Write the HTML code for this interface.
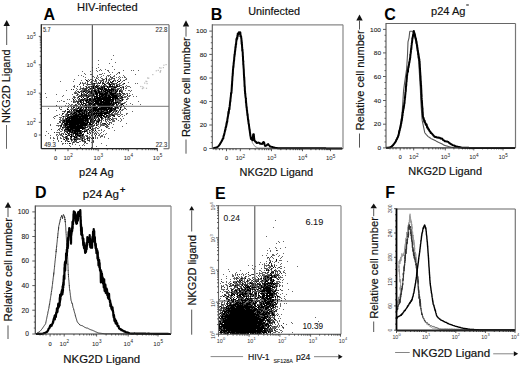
<!DOCTYPE html>
<html><head><meta charset="utf-8"><style>
html,body{margin:0;padding:0;background:#fff;width:520px;height:367px;overflow:hidden}
svg{display:block}
text{font-family:"Liberation Sans",sans-serif}
</style></head><body>
<svg width="520" height="367" viewBox="0 0 520 367">
<rect width="520" height="367" fill="#fff"/>
<text x="43.4" y="19.7" font-size="16" style="font-weight:bold;" fill="#000">A</text>
<text x="77.0" y="11.1" font-size="11" style="stroke:#111;stroke-width:0.18;" fill="#111" textLength="60.6" lengthAdjust="spacingAndGlyphs">HIV-infected</text>
<rect x="145.9" y="87.7" width="1.2" height="1.2" fill="#bbb"/>
<rect x="140.2" y="85.9" width="1.2" height="1.2" fill="#bbb"/>
<rect x="141.8" y="88.0" width="1.2" height="1.2" fill="#bbb"/>
<rect x="159.6" y="71.6" width="1.2" height="1.2" fill="#bbb"/>
<rect x="157.7" y="69.8" width="1.2" height="1.2" fill="#bbb"/>
<rect x="162.8" y="67.0" width="1.2" height="1.2" fill="#bbb"/>
<rect x="163.3" y="64.6" width="1.2" height="1.2" fill="#bbb"/>
<rect x="146.2" y="81.0" width="1.2" height="1.2" fill="#bbb"/>
<rect x="148.1" y="77.6" width="1.2" height="1.2" fill="#bbb"/>
<rect x="159.0" y="67.2" width="1.2" height="1.2" fill="#bbb"/>
<rect x="152.2" y="74.0" width="1.2" height="1.2" fill="#bbb"/>
<rect x="165.5" y="64.0" width="1.2" height="1.2" fill="#bbb"/>
<rect x="160.1" y="70.0" width="1.2" height="1.2" fill="#bbb"/>
<rect x="146.5" y="83.0" width="1.2" height="1.2" fill="#bbb"/>
<rect x="147.0" y="77.4" width="1.2" height="1.2" fill="#bbb"/>
<rect x="155.7" y="70.2" width="1.2" height="1.2" fill="#bbb"/>
<rect x="143.0" y="87.3" width="1.2" height="1.2" fill="#bbb"/>
<rect x="159.8" y="71.0" width="1.2" height="1.2" fill="#bbb"/>
<rect x="160.4" y="67.5" width="1.2" height="1.2" fill="#bbb"/>
<rect x="145.4" y="80.6" width="1.2" height="1.2" fill="#bbb"/>
<rect x="142.1" y="86.3" width="1.2" height="1.2" fill="#bbb"/>
<rect x="144.1" y="82.5" width="1.2" height="1.2" fill="#bbb"/>
<path d="M113 55.5h1M111 59.5h1M98 60.5h1M115 62.5h1M109 63.5h1M98 64.5h1M112 66.5h1M92 67.5h1M98 67.5h1M96 68.5h1M100 69.5h1M105 69.5h1M114 69.5h1M92 70.5h1M96 70.5h1M99 70.5h1M101 70.5h1M107 70.5h2M123 70.5h1M131 70.5h1M133 70.5h1M138 70.5h1M82 71.5h1M90 71.5h1M97 71.5h1M108 71.5h1M109 72.5h1M112 72.5h1M118 72.5h1M84 73.5h1M102 73.5h1M104 73.5h1M117 73.5h1M119 73.5h1M85 74.5h1M90 74.5h2M99 74.5h3M110 74.5h1M116 74.5h1M135 74.5h1M78 75.5h1M81 75.5h1M97 75.5h1M103 75.5h1M107 75.5h3M114 75.5h1M123 75.5h1M83 76.5h1M92 76.5h2M97 76.5h1M101 76.5h1M106 76.5h1M108 76.5h1M113 76.5h2M119 76.5h1M124 76.5h1M85 77.5h1M94 77.5h1M96 77.5h1M98 77.5h1M100 77.5h1M106 77.5h1M110 77.5h2M116 77.5h1M118 77.5h1M120 77.5h1M122 77.5h1M124 77.5h2M96 78.5h2M101 78.5h2M105 78.5h1M109 78.5h1M111 78.5h3M119 78.5h1M126 78.5h1M74 79.5h1M85 79.5h1M88 79.5h1M90 79.5h2M98 79.5h1M102 79.5h1M104 79.5h1M108 79.5h4M114 79.5h1M118 79.5h1M120 79.5h1M125 79.5h2M81 80.5h1M87 80.5h1M92 80.5h2M96 80.5h1M99 80.5h3M103 80.5h1M108 80.5h1M114 80.5h2M123 80.5h1M60 81.5h1M73 81.5h1M88 81.5h1M94 81.5h3M100 81.5h2M105 81.5h2M108 81.5h1M115 81.5h1M122 81.5h1M80 82.5h1M82 82.5h1M85 82.5h1M87 82.5h1M90 82.5h2M96 82.5h1M103 82.5h1M105 82.5h1M107 82.5h1M112 82.5h1M121 82.5h1M128 82.5h1M82 83.5h4M91 83.5h2M95 83.5h4M100 83.5h1M104 83.5h1M106 83.5h1M108 83.5h1M111 83.5h1M114 83.5h2M119 83.5h2M123 83.5h1M135 83.5h1M137 83.5h1M83 84.5h1M86 84.5h2M90 84.5h4M97 84.5h1M102 84.5h1M108 84.5h1M112 84.5h1M116 84.5h4M122 84.5h2M74 85.5h1M87 85.5h1M97 85.5h2M101 85.5h1M104 85.5h3M114 85.5h1M120 85.5h2M126 85.5h1M73 86.5h2M80 86.5h1M85 86.5h1M88 86.5h3M94 86.5h1M100 86.5h1M105 86.5h1M108 86.5h1M115 86.5h1M122 86.5h2M125 86.5h1M127 86.5h3M74 87.5h1M80 87.5h1M83 87.5h1M87 87.5h1M91 87.5h2M94 87.5h1M98 87.5h1M100 87.5h1M110 87.5h3M121 87.5h2M126 87.5h1M130 87.5h1M76 88.5h1M80 88.5h2M84 88.5h1M87 88.5h1M89 88.5h1M92 88.5h1M95 88.5h1M103 88.5h1M114 88.5h2M117 88.5h2M121 88.5h1M125 88.5h2M77 89.5h1M79 89.5h2M82 89.5h2M89 89.5h4M96 89.5h2M99 89.5h1M103 89.5h1M116 89.5h1M120 89.5h2M66 90.5h1M76 90.5h1M81 90.5h3M88 90.5h2M92 90.5h1M96 90.5h1M99 90.5h1M102 90.5h1M104 90.5h1M114 90.5h1M116 90.5h1M121 90.5h2M125 90.5h1M128 90.5h2M131 90.5h1M75 91.5h1M77 91.5h1M82 91.5h1M85 91.5h1M87 91.5h1M92 91.5h2M97 91.5h1M102 91.5h1M106 91.5h1M110 91.5h1M114 91.5h1M122 91.5h1M130 91.5h1M74 92.5h3M78 92.5h1M81 92.5h3M86 92.5h2M89 92.5h1M92 92.5h3M104 92.5h1M108 92.5h1M112 92.5h3M119 92.5h1M122 92.5h1M45 93.5h1M74 93.5h1M76 93.5h2M83 93.5h2M86 93.5h1M89 93.5h1M94 93.5h1M98 93.5h1M108 93.5h1M116 93.5h1M118 93.5h1M126 93.5h2M129 93.5h1M56 94.5h1M72 94.5h1M78 94.5h1M83 94.5h1M89 94.5h4M94 94.5h1M118 94.5h2M121 94.5h1M123 94.5h3M127 94.5h1M132 94.5h1M63 95.5h1M76 95.5h2M79 95.5h2M82 95.5h1M88 95.5h1M94 95.5h1M98 95.5h1M100 95.5h1M110 95.5h1M118 95.5h1M122 95.5h2M129 95.5h2M62 96.5h1M73 96.5h2M81 96.5h1M83 96.5h3M87 96.5h1M90 96.5h2M93 96.5h1M107 96.5h1M111 96.5h1M119 96.5h2M122 96.5h1M124 96.5h3M128 96.5h2M133 96.5h1M136 96.5h1M46 97.5h1M73 97.5h1M75 97.5h1M77 97.5h1M86 97.5h1M91 97.5h1M95 97.5h1M119 97.5h2M123 97.5h3M127 97.5h1M72 98.5h1M74 98.5h1M77 98.5h1M82 98.5h1M86 98.5h1M91 98.5h1M93 98.5h1M119 98.5h1M122 98.5h1M127 98.5h2M67 99.5h1M69 99.5h1M75 99.5h1M79 99.5h2M85 99.5h1M114 99.5h1M116 99.5h1M119 99.5h1M121 99.5h1M123 99.5h1M127 99.5h1M61 100.5h1M73 100.5h2M76 100.5h1M78 100.5h2M84 100.5h1M88 100.5h1M116 100.5h3M121 100.5h1M57 101.5h1M59 101.5h1M63 101.5h2M71 101.5h1M74 101.5h2M85 101.5h1M87 101.5h1M90 101.5h1M116 101.5h1M118 101.5h4M126 101.5h1M138 101.5h1M74 102.5h2M82 102.5h1M91 102.5h1M99 102.5h1M110 102.5h1M112 102.5h1M120 102.5h1M124 102.5h2M66 103.5h1M68 103.5h1M78 103.5h2M86 103.5h1M93 103.5h1M119 103.5h3M124 103.5h1M130 103.5h1M69 104.5h1M71 104.5h2M76 104.5h1M79 104.5h2M83 104.5h1M86 104.5h2M92 104.5h1M117 104.5h2M120 104.5h1M126 104.5h1M132 104.5h1M140 104.5h1M65 105.5h1M68 105.5h1M70 105.5h2M73 105.5h1M77 105.5h1M83 105.5h1M87 105.5h1M97 105.5h1M119 105.5h3M70 106.5h2M80 106.5h2M83 106.5h1M90 106.5h1M93 106.5h1M111 106.5h1M113 106.5h1M115 106.5h1M118 106.5h1M124 106.5h1M59 107.5h1M61 107.5h1M76 107.5h1M79 107.5h2M82 107.5h3M87 107.5h1M91 107.5h2M114 107.5h1M118 107.5h1M121 107.5h1M124 107.5h1M48 108.5h1M59 108.5h1M67 108.5h1M71 108.5h3M75 108.5h2M79 108.5h1M85 108.5h1M89 108.5h3M97 108.5h1M107 108.5h1M116 108.5h2M124 108.5h1M60 109.5h2M70 109.5h4M77 109.5h1M83 109.5h2M92 109.5h1M119 109.5h1M122 109.5h2M126 109.5h1M56 110.5h1M87 110.5h1M99 110.5h1M102 110.5h1M113 110.5h1M115 110.5h1M117 110.5h1M121 110.5h2M62 111.5h2M65 111.5h1M70 111.5h4M75 111.5h1M94 111.5h1M96 111.5h1M104 111.5h2M114 111.5h2M120 111.5h1M132 111.5h1M64 112.5h1M70 112.5h1M72 112.5h2M77 112.5h1M80 112.5h1M85 112.5h1M87 112.5h1M93 112.5h1M95 112.5h1M115 112.5h1M117 112.5h2M120 112.5h1M66 113.5h1M72 113.5h1M77 113.5h2M85 113.5h1M90 113.5h1M92 113.5h1M112 113.5h1M114 113.5h4M120 113.5h1M126 113.5h2M59 114.5h1M65 114.5h1M67 114.5h1M71 114.5h1M83 114.5h1M87 114.5h1M95 114.5h1M97 114.5h1M106 114.5h1M108 114.5h1M113 114.5h7M121 114.5h2M126 114.5h1M56 115.5h2M61 115.5h1M65 115.5h2M70 115.5h1M72 115.5h1M94 115.5h1M104 115.5h1M108 115.5h1M110 115.5h2M117 115.5h1M120 115.5h1M124 115.5h1M54 116.5h2M62 116.5h1M64 116.5h2M68 116.5h1M91 116.5h1M93 116.5h1M96 116.5h1M98 116.5h1M105 116.5h1M107 116.5h1M113 116.5h1M122 116.5h1M53 117.5h1M59 117.5h3M63 117.5h1M65 117.5h1M91 117.5h1M93 117.5h1M95 117.5h1M104 117.5h1M106 117.5h2M109 117.5h1M112 117.5h1M54 118.5h1M60 118.5h1M62 118.5h2M93 118.5h1M95 118.5h2M99 118.5h1M103 118.5h1M105 118.5h1M107 118.5h3M112 118.5h5M120 118.5h1M123 118.5h1M59 119.5h2M62 119.5h3M70 119.5h1M89 119.5h1M97 119.5h1M102 119.5h1M106 119.5h3M112 119.5h2M121 119.5h1M60 120.5h1M62 120.5h1M93 120.5h1M96 120.5h2M100 120.5h1M103 120.5h1M107 120.5h1M109 120.5h2M112 120.5h3M118 120.5h1M121 120.5h1M60 121.5h1M84 121.5h1M99 121.5h1M105 121.5h2M108 121.5h1M112 121.5h3M120 121.5h1M59 122.5h1M65 122.5h1M92 122.5h1M94 122.5h1M97 122.5h1M100 122.5h2M106 122.5h1M110 122.5h2M57 123.5h2M61 123.5h1M68 123.5h1M95 123.5h1M98 123.5h1M100 123.5h1M109 123.5h1M111 123.5h1M126 123.5h1M50 124.5h1M62 124.5h2M88 124.5h1M94 124.5h1M96 124.5h3M100 124.5h5M109 124.5h1M113 124.5h1M50 125.5h1M56 125.5h4M68 125.5h1M87 125.5h5M97 125.5h1M100 125.5h3M104 125.5h1M106 125.5h1M58 126.5h1M63 126.5h2M66 126.5h1M83 126.5h1M88 126.5h1M90 126.5h1M92 126.5h2M98 126.5h1M100 126.5h1M106 126.5h3M122 126.5h1M60 127.5h1M95 127.5h1M99 127.5h1M107 127.5h1M112 127.5h1M59 128.5h2M62 128.5h2M69 128.5h1M85 128.5h1M88 128.5h2M93 128.5h3M98 128.5h1M108 128.5h2M51 129.5h1M59 129.5h1M62 129.5h1M64 129.5h1M83 129.5h4M92 129.5h2M95 129.5h1M101 129.5h1M57 130.5h1M59 130.5h1M62 130.5h1M65 130.5h2M85 130.5h1M87 130.5h1M90 130.5h1M98 130.5h2M101 130.5h1M104 130.5h1M114 130.5h1M46 131.5h1M60 131.5h2M64 131.5h1M81 131.5h1M87 131.5h1M89 131.5h1M91 131.5h1M94 131.5h1M96 131.5h1M103 131.5h1M56 132.5h4M66 132.5h1M78 132.5h1M82 132.5h1M90 132.5h1M93 132.5h1M95 132.5h1M97 132.5h1M101 132.5h1M48 133.5h1M59 133.5h1M61 133.5h3M65 133.5h1M67 133.5h1M71 133.5h2M83 133.5h1M88 133.5h1M94 133.5h3M98 133.5h1M100 133.5h1M106 133.5h1M56 134.5h2M59 134.5h2M69 134.5h1M72 134.5h1M79 134.5h1M81 134.5h1M89 134.5h1M94 134.5h1M99 134.5h1M103 134.5h1M105 134.5h1M45 135.5h1M50 135.5h1M56 135.5h1M58 135.5h1M60 135.5h3M72 135.5h2M76 135.5h1M83 135.5h1M85 135.5h3M91 135.5h1M98 135.5h2M101 135.5h2M57 136.5h1M63 136.5h1M65 136.5h1M67 136.5h1M72 136.5h1M75 136.5h1M77 136.5h2M81 136.5h1M83 136.5h2M89 136.5h1M95 136.5h1M100 136.5h3M104 136.5h1M50 137.5h1M53 137.5h1M57 137.5h1M60 137.5h1M63 137.5h2M67 137.5h1M70 137.5h1M77 137.5h1M82 137.5h3M88 137.5h3M92 137.5h1M95 137.5h1M97 137.5h1M100 137.5h1M104 137.5h1M50 138.5h1M53 138.5h2M60 138.5h2M63 138.5h1M65 138.5h1M71 138.5h1M73 138.5h1M75 138.5h1M79 138.5h3M83 138.5h2M86 138.5h1M88 138.5h1M95 138.5h1M97 138.5h1M108 138.5h1M57 139.5h1M63 139.5h1M67 139.5h1M70 139.5h1M72 139.5h2M78 139.5h1M80 139.5h2M89 139.5h1M53 140.5h1M58 140.5h1M65 140.5h3M72 140.5h1M75 140.5h1M81 140.5h1M83 140.5h2M87 140.5h1M93 140.5h1M58 141.5h1M67 141.5h1M69 141.5h1M71 141.5h1M73 141.5h2M76 141.5h1M79 141.5h2M82 141.5h2M89 141.5h1M72 142.5h1M74 142.5h1M76 142.5h1M84 142.5h1M91 142.5h1M93 142.5h1M62 143.5h2M67 143.5h1M72 143.5h1M84 143.5h1M86 143.5h2M101 143.5h1M62 144.5h1M72 144.5h1M75 144.5h1M83 144.5h1M69 145.5h1M79 145.5h1M82 145.5h1M84 145.5h1M106 145.5h1M70 146.5h1M96 146.5h1M80 147.5h1M91 147.5h1M76 148.5h1" stroke="#666" stroke-width="1" fill="none"/>
<path d="M119 72.5h1M110 76.5h1M112 77.5h1M106 78.5h1M114 78.5h1M95 79.5h1M103 79.5h1M89 80.5h1M95 80.5h1M102 80.5h1M106 80.5h1M109 80.5h1M113 80.5h1M117 80.5h1M120 80.5h1M124 80.5h1M87 81.5h1M91 81.5h1M103 81.5h1M110 81.5h1M113 81.5h1M118 81.5h1M98 82.5h1M102 82.5h1M110 82.5h1M80 83.5h1M87 83.5h1M93 83.5h1M102 83.5h1M107 83.5h1M112 83.5h2M116 83.5h1M79 84.5h1M88 84.5h2M94 84.5h1M105 84.5h1M111 84.5h1M113 84.5h2M83 85.5h1M93 85.5h2M99 85.5h1M103 85.5h1M109 85.5h1M112 85.5h1M117 85.5h1M119 85.5h1M77 86.5h1M86 86.5h1M92 86.5h1M96 86.5h1M98 86.5h1M101 86.5h3M106 86.5h1M113 86.5h2M116 86.5h1M118 86.5h2M86 87.5h1M88 87.5h2M95 87.5h1M97 87.5h1M99 87.5h1M103 87.5h1M108 87.5h2M113 87.5h1M116 87.5h1M82 88.5h2M85 88.5h2M91 88.5h1M94 88.5h1M101 88.5h1M106 88.5h1M112 88.5h2M119 88.5h1M123 88.5h1M71 89.5h1M73 89.5h1M84 89.5h3M94 89.5h2M107 89.5h1M110 89.5h1M114 89.5h2M117 89.5h2M123 89.5h1M84 90.5h4M93 90.5h1M97 90.5h1M108 90.5h1M112 90.5h1M119 90.5h2M78 91.5h1M80 91.5h2M86 91.5h1M88 91.5h1M90 91.5h1M100 91.5h1M103 91.5h1M112 91.5h2M115 91.5h1M117 91.5h1M120 91.5h2M90 92.5h1M97 92.5h1M100 92.5h4M116 92.5h1M121 92.5h1M75 93.5h1M90 93.5h1M92 93.5h2M103 93.5h1M109 93.5h1M117 93.5h1M120 93.5h1M122 93.5h3M77 94.5h1M82 94.5h1M84 94.5h3M88 94.5h1M95 94.5h1M107 94.5h3M114 94.5h4M120 94.5h1M83 95.5h3M87 95.5h1M89 95.5h3M97 95.5h1M104 95.5h1M107 95.5h1M117 95.5h1M119 95.5h1M78 96.5h3M82 96.5h1M86 96.5h1M89 96.5h1M103 96.5h1M117 96.5h1M74 97.5h1M78 97.5h1M88 97.5h1M92 97.5h1M101 97.5h1M121 97.5h1M85 98.5h1M87 98.5h1M114 98.5h1M118 98.5h1M121 98.5h1M78 99.5h1M82 99.5h1M84 99.5h1M86 99.5h1M88 99.5h1M91 99.5h1M96 99.5h1M117 99.5h2M126 99.5h1M81 100.5h1M83 100.5h1M91 100.5h1M94 100.5h1M111 100.5h1M119 100.5h1M73 101.5h1M76 101.5h4M81 101.5h1M89 101.5h1M93 101.5h1M99 101.5h1M104 101.5h1M110 101.5h1M113 101.5h1M115 101.5h1M117 101.5h1M73 102.5h1M77 102.5h2M81 102.5h1M83 102.5h1M89 102.5h2M114 102.5h1M118 102.5h2M77 103.5h1M85 103.5h1M88 103.5h1M102 103.5h1M112 103.5h1M114 103.5h1M116 103.5h1M122 103.5h2M75 104.5h1M78 104.5h1M81 104.5h1M88 104.5h1M90 104.5h1M95 104.5h2M111 104.5h1M114 104.5h1M56 105.5h1M74 105.5h3M82 105.5h1M84 105.5h1M88 105.5h2M95 105.5h1M110 105.5h1M116 105.5h2M67 106.5h1M72 106.5h3M77 106.5h2M95 106.5h1M112 106.5h1M117 106.5h1M119 106.5h1M68 107.5h1M71 107.5h1M74 107.5h1M89 107.5h1M99 107.5h2M110 107.5h1M112 107.5h1M116 107.5h1M81 108.5h1M88 108.5h1M112 108.5h1M114 108.5h1M118 108.5h1M120 108.5h1M125 108.5h1M68 109.5h1M75 109.5h2M81 109.5h1M86 109.5h5M109 109.5h1M112 109.5h2M65 110.5h1M69 110.5h1M74 110.5h2M83 110.5h1M86 110.5h1M89 110.5h1M91 110.5h1M100 110.5h1M103 110.5h1M105 110.5h1M114 110.5h1M116 110.5h1M119 110.5h1M64 111.5h1M67 111.5h1M69 111.5h1M74 111.5h1M82 111.5h2M85 111.5h1M87 111.5h1M90 111.5h1M92 111.5h1M99 111.5h2M106 111.5h1M108 111.5h1M113 111.5h1M118 111.5h1M68 112.5h2M71 112.5h1M76 112.5h1M81 112.5h1M83 112.5h1M91 112.5h1M97 112.5h3M102 112.5h2M108 112.5h1M110 112.5h1M112 112.5h2M62 113.5h2M67 113.5h1M70 113.5h1M75 113.5h1M81 113.5h1M87 113.5h1M89 113.5h1M109 113.5h1M111 113.5h1M62 114.5h1M66 114.5h1M69 114.5h2M73 114.5h2M77 114.5h1M89 114.5h2M99 114.5h1M102 114.5h1M109 114.5h4M67 115.5h1M71 115.5h1M79 115.5h2M90 115.5h1M93 115.5h1M96 115.5h1M109 115.5h1M114 115.5h1M66 116.5h2M69 116.5h1M88 116.5h2M92 116.5h1M100 116.5h1M108 116.5h3M118 116.5h2M70 117.5h1M78 117.5h1M81 117.5h1M92 117.5h1M96 117.5h3M102 117.5h1M65 118.5h1M68 118.5h1M90 118.5h3M102 118.5h1M110 118.5h1M65 119.5h1M67 119.5h1M84 119.5h1M88 119.5h1M90 119.5h1M92 119.5h2M98 119.5h1M101 119.5h1M105 119.5h1M109 119.5h1M116 119.5h1M61 120.5h1M65 120.5h1M88 120.5h1M91 120.5h2M95 120.5h1M98 120.5h1M101 120.5h1M105 120.5h1M59 121.5h1M62 121.5h2M65 121.5h1M86 121.5h1M88 121.5h1M91 121.5h4M96 121.5h1M101 121.5h1M60 122.5h1M62 122.5h1M64 122.5h1M85 122.5h2M89 122.5h3M93 122.5h1M96 122.5h1M109 122.5h1M62 123.5h1M92 123.5h2M102 123.5h2M105 123.5h1M107 123.5h1M61 124.5h1M64 124.5h1M79 124.5h1M87 124.5h1M92 124.5h1M105 124.5h2M108 124.5h1M60 125.5h1M63 125.5h2M67 125.5h1M76 125.5h1M93 125.5h2M103 125.5h1M107 125.5h1M60 126.5h2M84 126.5h2M87 126.5h1M89 126.5h1M91 126.5h1M105 126.5h1M63 127.5h3M84 127.5h1M86 127.5h2M89 127.5h1M96 127.5h1M106 127.5h1M65 128.5h2M92 128.5h1M97 128.5h1M58 129.5h1M61 129.5h1M73 129.5h2M87 129.5h1M67 130.5h1M71 130.5h1M81 130.5h1M84 130.5h1M89 130.5h1M92 130.5h2M65 131.5h4M71 131.5h1M73 131.5h1M83 131.5h1M86 131.5h1M54 132.5h1M64 132.5h1M69 132.5h2M73 132.5h1M76 132.5h1M79 132.5h1M81 132.5h1M84 132.5h1M87 132.5h1M89 132.5h1M92 132.5h1M69 133.5h1M78 133.5h1M90 133.5h1M61 134.5h1M63 134.5h1M65 134.5h1M68 134.5h1M70 134.5h1M73 134.5h1M78 134.5h1M80 134.5h1M96 134.5h1M67 135.5h2M81 135.5h1M95 135.5h1M62 136.5h1M80 136.5h1M82 136.5h1M86 136.5h2M65 137.5h2M80 137.5h2M87 137.5h1M93 137.5h1M57 138.5h1M67 138.5h2M70 138.5h1M74 138.5h1M76 138.5h3M89 138.5h1M91 138.5h1M66 139.5h1M68 139.5h1M76 139.5h2M79 139.5h1M82 139.5h1M84 139.5h2M87 139.5h1M71 140.5h1M74 140.5h1M76 140.5h1M88 140.5h2M61 141.5h1M65 141.5h1M75 141.5h1M84 141.5h2M93 141.5h1M73 142.5h1M77 142.5h2M85 142.5h1M65 143.5h1M70 143.5h1" stroke="#333" stroke-width="1" fill="none"/>
<path d="M106 79.5h1M86 80.5h1M112 81.5h1M119 81.5h1M100 82.5h1M108 82.5h1M111 82.5h1M117 82.5h1M94 83.5h1M99 83.5h1M103 83.5h1M109 83.5h1M124 83.5h1M104 84.5h1M109 84.5h2M96 85.5h1M110 85.5h1M116 85.5h1M91 86.5h1M93 86.5h1M95 86.5h1M97 86.5h1M104 86.5h1M107 86.5h1M109 86.5h4M117 86.5h1M93 87.5h1M96 87.5h1M101 87.5h2M104 87.5h1M107 87.5h1M114 87.5h2M120 87.5h1M123 87.5h1M90 88.5h1M93 88.5h1M97 88.5h4M102 88.5h1M104 88.5h2M108 88.5h1M111 88.5h1M88 89.5h1M98 89.5h1M100 89.5h3M104 89.5h3M108 89.5h2M111 89.5h3M91 90.5h1M94 90.5h2M98 90.5h1M101 90.5h1M103 90.5h1M105 90.5h3M109 90.5h3M113 90.5h1M115 90.5h1M117 90.5h1M83 91.5h2M89 91.5h1M91 91.5h1M94 91.5h3M98 91.5h2M101 91.5h1M104 91.5h2M107 91.5h3M111 91.5h1M116 91.5h1M119 91.5h1M79 92.5h1M85 92.5h1M88 92.5h1M91 92.5h1M95 92.5h2M98 92.5h2M105 92.5h3M109 92.5h3M115 92.5h1M81 93.5h1M87 93.5h1M91 93.5h1M95 93.5h3M99 93.5h4M104 93.5h4M110 93.5h6M119 93.5h1M81 94.5h1M93 94.5h1M96 94.5h2M99 94.5h8M110 94.5h4M81 95.5h1M86 95.5h1M92 95.5h2M96 95.5h1M99 95.5h1M101 95.5h3M105 95.5h2M108 95.5h2M111 95.5h6M120 95.5h1M127 95.5h1M88 96.5h1M92 96.5h1M94 96.5h4M99 96.5h4M104 96.5h3M108 96.5h3M112 96.5h5M118 96.5h1M121 96.5h1M81 97.5h1M83 97.5h1M87 97.5h1M94 97.5h1M96 97.5h5M102 97.5h16M122 97.5h1M79 98.5h1M84 98.5h1M89 98.5h2M92 98.5h1M94 98.5h17M112 98.5h2M115 98.5h3M120 98.5h1M73 99.5h1M81 99.5h1M83 99.5h1M87 99.5h1M89 99.5h2M92 99.5h4M97 99.5h17M115 99.5h1M122 99.5h1M80 100.5h1M82 100.5h1M85 100.5h3M89 100.5h2M92 100.5h2M95 100.5h7M103 100.5h8M112 100.5h2M115 100.5h1M120 100.5h1M122 100.5h1M80 101.5h1M83 101.5h1M86 101.5h1M88 101.5h1M91 101.5h2M94 101.5h5M100 101.5h4M105 101.5h5M111 101.5h2M80 102.5h1M86 102.5h3M92 102.5h2M95 102.5h4M100 102.5h10M111 102.5h1M113 102.5h1M115 102.5h3M81 103.5h1M83 103.5h2M89 103.5h4M94 103.5h8M103 103.5h9M113 103.5h1M115 103.5h1M118 103.5h1M82 104.5h1M85 104.5h1M89 104.5h1M91 104.5h1M93 104.5h2M97 104.5h14M112 104.5h2M116 104.5h1M121 104.5h2M80 105.5h1M85 105.5h2M90 105.5h1M92 105.5h3M98 105.5h12M111 105.5h3M123 105.5h1M76 106.5h1M79 106.5h1M84 106.5h1M86 106.5h4M91 106.5h2M94 106.5h1M96 106.5h15M114 106.5h1M116 106.5h1M121 106.5h1M73 107.5h1M78 107.5h1M81 107.5h1M85 107.5h2M88 107.5h1M90 107.5h1M93 107.5h5M101 107.5h9M111 107.5h1M115 107.5h1M117 107.5h1M120 107.5h1M77 108.5h2M80 108.5h1M83 108.5h1M86 108.5h1M92 108.5h5M98 108.5h9M108 108.5h4M113 108.5h1M115 108.5h1M67 109.5h1M74 109.5h1M79 109.5h2M82 109.5h1M85 109.5h1M91 109.5h1M93 109.5h16M110 109.5h2M114 109.5h2M120 109.5h1M71 110.5h1M73 110.5h1M76 110.5h7M84 110.5h2M88 110.5h1M90 110.5h1M92 110.5h7M101 110.5h1M104 110.5h1M106 110.5h2M109 110.5h4M68 111.5h1M76 111.5h6M84 111.5h1M86 111.5h1M89 111.5h1M91 111.5h1M93 111.5h1M95 111.5h1M97 111.5h2M101 111.5h3M107 111.5h1M109 111.5h3M116 111.5h1M67 112.5h1M74 112.5h2M78 112.5h2M82 112.5h1M84 112.5h1M86 112.5h1M88 112.5h3M92 112.5h1M94 112.5h1M96 112.5h1M100 112.5h2M104 112.5h4M109 112.5h1M71 113.5h1M73 113.5h2M76 113.5h1M79 113.5h2M82 113.5h3M86 113.5h1M88 113.5h1M91 113.5h1M93 113.5h16M68 114.5h1M72 114.5h1M75 114.5h2M78 114.5h5M84 114.5h3M88 114.5h1M91 114.5h4M96 114.5h1M98 114.5h1M100 114.5h2M104 114.5h2M68 115.5h1M73 115.5h6M81 115.5h9M91 115.5h2M95 115.5h1M97 115.5h7M106 115.5h2M112 115.5h2M63 116.5h1M70 116.5h18M90 116.5h1M94 116.5h2M97 116.5h1M99 116.5h1M101 116.5h1M103 116.5h2M106 116.5h1M114 116.5h1M67 117.5h3M71 117.5h7M79 117.5h2M82 117.5h6M89 117.5h2M94 117.5h1M100 117.5h2M105 117.5h1M108 117.5h1M66 118.5h2M69 118.5h21M94 118.5h1M98 118.5h1M101 118.5h1M66 119.5h1M68 119.5h2M71 119.5h13M85 119.5h3M91 119.5h1M95 119.5h1M99 119.5h1M111 119.5h1M63 120.5h2M66 120.5h22M90 120.5h1M94 120.5h1M99 120.5h1M64 121.5h1M66 121.5h18M85 121.5h1M87 121.5h1M90 121.5h1M97 121.5h2M63 122.5h1M66 122.5h19M87 122.5h2M98 122.5h1M64 123.5h4M69 123.5h19M89 123.5h2M96 123.5h1M104 123.5h1M65 124.5h14M80 124.5h7M89 124.5h3M61 125.5h1M65 125.5h2M69 125.5h7M77 125.5h10M96 125.5h1M65 126.5h1M67 126.5h16M62 127.5h1M66 127.5h18M85 127.5h1M90 127.5h1M67 128.5h2M70 128.5h15M90 128.5h1M65 129.5h8M75 129.5h5M82 129.5h1M88 129.5h1M91 129.5h1M64 130.5h1M68 130.5h3M72 130.5h9M86 130.5h1M95 130.5h1M69 131.5h2M72 131.5h1M74 131.5h7M82 131.5h1M84 131.5h2M67 132.5h1M71 132.5h2M74 132.5h2M77 132.5h1M80 132.5h1M68 133.5h1M73 133.5h5M79 133.5h3M87 133.5h1M66 134.5h1M71 134.5h1M75 134.5h3M82 134.5h2M69 135.5h1M71 135.5h1M75 135.5h1M77 135.5h4M82 135.5h1M66 136.5h1M70 136.5h2M73 136.5h2M76 136.5h1M79 136.5h1M71 137.5h1M74 137.5h3M66 138.5h1M82 138.5h1M87 138.5h1M93 138.5h1M64 139.5h1M71 139.5h1M74 139.5h2M82 140.5h1M68 141.5h1M69 143.5h1" stroke="#000" stroke-width="1" fill="none"/>
<line x1="92.30" y1="24.70" x2="92.30" y2="148.70" stroke="#333" stroke-width="1"/>
<line x1="41.30" y1="106.30" x2="169.00" y2="106.30" stroke="#777" stroke-width="1"/>
<line x1="41.30" y1="24.70" x2="169.00" y2="24.70" stroke="#8a8a8a" stroke-width="1.2"/>
<line x1="169.00" y1="24.70" x2="169.00" y2="148.70" stroke="#777" stroke-width="1.3"/>
<line x1="41.30" y1="24.20" x2="41.30" y2="148.70" stroke="#222" stroke-width="1.3"/>
<line x1="41.30" y1="148.70" x2="157.80" y2="148.70" stroke="#222" stroke-width="1.3"/>
<line x1="163.50" y1="148.70" x2="169.00" y2="148.70" stroke="#777" stroke-width="1.2"/>
<text x="42.9" y="31.9" font-size="6.4" style="stroke:#333;stroke-width:0.1;" fill="#333" textLength="7.8" lengthAdjust="spacingAndGlyphs">5.7</text>
<text x="155.6" y="32.0" font-size="6.4" style="stroke:#333;stroke-width:0.1;" fill="#333" textLength="11.8" lengthAdjust="spacingAndGlyphs">22.8</text>
<text x="44.2" y="146.8" font-size="6.4" style="stroke:#333;stroke-width:0.1;" fill="#333" textLength="11.8" lengthAdjust="spacingAndGlyphs">49.3</text>
<text x="155.8" y="146.9" font-size="6.4" style="stroke:#333;stroke-width:0.1;" fill="#333" textLength="11.4" lengthAdjust="spacingAndGlyphs">22.3</text>
<text x="26.4" y="38.6" font-size="6" fill="#222">10</text>
<text x="33.3" y="35.9" font-size="4.6" fill="#222">5</text>
<text x="26.4" y="67.0" font-size="6" fill="#222">10</text>
<text x="33.3" y="64.3" font-size="4.6" fill="#222">4</text>
<text x="26.4" y="95.4" font-size="6" fill="#222">10</text>
<text x="33.3" y="92.7" font-size="4.6" fill="#222">3</text>
<text x="26.4" y="124.5" font-size="6" fill="#222">10</text>
<text x="33.3" y="121.8" font-size="4.6" fill="#222">2</text>
<text x="34.0" y="137.2" font-size="6" style="stroke:#222;stroke-width:0.1;" fill="#222" textLength="3.0" lengthAdjust="spacingAndGlyphs">0</text>
<line x1="38.80" y1="36.40" x2="41.30" y2="36.40" stroke="#333" stroke-width="0.8"/>
<line x1="38.80" y1="64.80" x2="41.30" y2="64.80" stroke="#333" stroke-width="0.8"/>
<line x1="38.80" y1="93.20" x2="41.30" y2="93.20" stroke="#333" stroke-width="0.8"/>
<line x1="38.80" y1="122.30" x2="41.30" y2="122.30" stroke="#333" stroke-width="0.8"/>
<line x1="38.80" y1="135.00" x2="41.30" y2="135.00" stroke="#333" stroke-width="0.8"/>
<line x1="39.80" y1="56.25" x2="41.30" y2="56.25" stroke="#333" stroke-width="0.8"/>
<line x1="39.80" y1="51.25" x2="41.30" y2="51.25" stroke="#333" stroke-width="0.8"/>
<line x1="39.80" y1="47.70" x2="41.30" y2="47.70" stroke="#333" stroke-width="0.8"/>
<line x1="39.80" y1="44.95" x2="41.30" y2="44.95" stroke="#333" stroke-width="0.8"/>
<line x1="39.80" y1="42.70" x2="41.30" y2="42.70" stroke="#333" stroke-width="0.8"/>
<line x1="39.80" y1="40.80" x2="41.30" y2="40.80" stroke="#333" stroke-width="0.8"/>
<line x1="39.80" y1="39.15" x2="41.30" y2="39.15" stroke="#333" stroke-width="0.8"/>
<line x1="39.80" y1="37.70" x2="41.30" y2="37.70" stroke="#333" stroke-width="0.8"/>
<line x1="39.80" y1="84.65" x2="41.30" y2="84.65" stroke="#333" stroke-width="0.8"/>
<line x1="39.80" y1="79.65" x2="41.30" y2="79.65" stroke="#333" stroke-width="0.8"/>
<line x1="39.80" y1="76.10" x2="41.30" y2="76.10" stroke="#333" stroke-width="0.8"/>
<line x1="39.80" y1="73.35" x2="41.30" y2="73.35" stroke="#333" stroke-width="0.8"/>
<line x1="39.80" y1="71.10" x2="41.30" y2="71.10" stroke="#333" stroke-width="0.8"/>
<line x1="39.80" y1="69.20" x2="41.30" y2="69.20" stroke="#333" stroke-width="0.8"/>
<line x1="39.80" y1="67.55" x2="41.30" y2="67.55" stroke="#333" stroke-width="0.8"/>
<line x1="39.80" y1="66.10" x2="41.30" y2="66.10" stroke="#333" stroke-width="0.8"/>
<line x1="39.80" y1="113.54" x2="41.30" y2="113.54" stroke="#333" stroke-width="0.8"/>
<line x1="39.80" y1="108.42" x2="41.30" y2="108.42" stroke="#333" stroke-width="0.8"/>
<line x1="39.80" y1="104.78" x2="41.30" y2="104.78" stroke="#333" stroke-width="0.8"/>
<line x1="39.80" y1="101.96" x2="41.30" y2="101.96" stroke="#333" stroke-width="0.8"/>
<line x1="39.80" y1="99.66" x2="41.30" y2="99.66" stroke="#333" stroke-width="0.8"/>
<line x1="39.80" y1="97.71" x2="41.30" y2="97.71" stroke="#333" stroke-width="0.8"/>
<line x1="39.80" y1="96.02" x2="41.30" y2="96.02" stroke="#333" stroke-width="0.8"/>
<line x1="39.80" y1="94.53" x2="41.30" y2="94.53" stroke="#333" stroke-width="0.8"/>
<text x="53.9" y="159.8" font-size="6" style="stroke:#222;stroke-width:0.1;" fill="#222" textLength="3.2" lengthAdjust="spacingAndGlyphs">0</text>
<text x="63.4" y="159.8" font-size="6" fill="#222">10</text>
<text x="70.3" y="157.1" font-size="4.6" fill="#222">2</text>
<text x="93.6" y="159.8" font-size="6" fill="#222">10</text>
<text x="100.5" y="157.1" font-size="4.6" fill="#222">3</text>
<text x="123.7" y="159.8" font-size="6" fill="#222">10</text>
<text x="130.6" y="157.1" font-size="4.6" fill="#222">4</text>
<text x="152.8" y="159.8" font-size="6" fill="#222">10</text>
<text x="159.7" y="157.1" font-size="4.6" fill="#222">5</text>
<line x1="55.40" y1="148.70" x2="55.40" y2="151.20" stroke="#333" stroke-width="0.8"/>
<line x1="68.00" y1="148.70" x2="68.00" y2="151.20" stroke="#333" stroke-width="0.8"/>
<line x1="98.20" y1="148.70" x2="98.20" y2="151.20" stroke="#333" stroke-width="0.8"/>
<line x1="128.30" y1="148.70" x2="128.30" y2="151.20" stroke="#333" stroke-width="0.8"/>
<line x1="157.40" y1="148.70" x2="157.40" y2="151.20" stroke="#333" stroke-width="0.8"/>
<line x1="77.09" y1="148.70" x2="77.09" y2="150.20" stroke="#333" stroke-width="0.8"/>
<line x1="82.41" y1="148.70" x2="82.41" y2="150.20" stroke="#333" stroke-width="0.8"/>
<line x1="86.18" y1="148.70" x2="86.18" y2="150.20" stroke="#333" stroke-width="0.8"/>
<line x1="89.11" y1="148.70" x2="89.11" y2="150.20" stroke="#333" stroke-width="0.8"/>
<line x1="91.50" y1="148.70" x2="91.50" y2="150.20" stroke="#333" stroke-width="0.8"/>
<line x1="93.52" y1="148.70" x2="93.52" y2="150.20" stroke="#333" stroke-width="0.8"/>
<line x1="95.27" y1="148.70" x2="95.27" y2="150.20" stroke="#333" stroke-width="0.8"/>
<line x1="96.82" y1="148.70" x2="96.82" y2="150.20" stroke="#333" stroke-width="0.8"/>
<line x1="107.26" y1="148.70" x2="107.26" y2="150.20" stroke="#333" stroke-width="0.8"/>
<line x1="112.56" y1="148.70" x2="112.56" y2="150.20" stroke="#333" stroke-width="0.8"/>
<line x1="116.32" y1="148.70" x2="116.32" y2="150.20" stroke="#333" stroke-width="0.8"/>
<line x1="119.24" y1="148.70" x2="119.24" y2="150.20" stroke="#333" stroke-width="0.8"/>
<line x1="121.62" y1="148.70" x2="121.62" y2="150.20" stroke="#333" stroke-width="0.8"/>
<line x1="123.64" y1="148.70" x2="123.64" y2="150.20" stroke="#333" stroke-width="0.8"/>
<line x1="125.38" y1="148.70" x2="125.38" y2="150.20" stroke="#333" stroke-width="0.8"/>
<line x1="126.92" y1="148.70" x2="126.92" y2="150.20" stroke="#333" stroke-width="0.8"/>
<line x1="137.06" y1="148.70" x2="137.06" y2="150.20" stroke="#333" stroke-width="0.8"/>
<line x1="142.18" y1="148.70" x2="142.18" y2="150.20" stroke="#333" stroke-width="0.8"/>
<line x1="145.82" y1="148.70" x2="145.82" y2="150.20" stroke="#333" stroke-width="0.8"/>
<line x1="148.64" y1="148.70" x2="148.64" y2="150.20" stroke="#333" stroke-width="0.8"/>
<line x1="150.94" y1="148.70" x2="150.94" y2="150.20" stroke="#333" stroke-width="0.8"/>
<line x1="152.89" y1="148.70" x2="152.89" y2="150.20" stroke="#333" stroke-width="0.8"/>
<line x1="154.58" y1="148.70" x2="154.58" y2="150.20" stroke="#333" stroke-width="0.8"/>
<line x1="156.07" y1="148.70" x2="156.07" y2="150.20" stroke="#333" stroke-width="0.8"/>
<text x="79.0" y="176.2" font-size="11" style="stroke:#111;stroke-width:0.18;" fill="#111" textLength="34.6" lengthAdjust="spacingAndGlyphs">p24 Ag</text>
<path d="M3.5 26.0 L6.7 20.0 L9.9 26.0Z" fill="#111"/>
<line x1="6.70" y1="26.00" x2="6.70" y2="45.00" stroke="#555" stroke-width="1.0"/>
<text transform="translate(10.2,123.0) rotate(-90)" x="0" y="0" font-size="11" fill="#111" stroke="#111" stroke-width="0.18" textLength="73.6" lengthAdjust="spacingAndGlyphs">NKG2D Ligand</text>
<line x1="6.50" y1="125.00" x2="6.50" y2="148.80" stroke="#666" stroke-width="1.0"/>
<text x="210.7" y="19.7" font-size="16" style="font-weight:bold;" fill="#000">B</text>
<text x="248.2" y="14.9" font-size="11" style="stroke:#111;stroke-width:0.18;" fill="#111" textLength="51.8" lengthAdjust="spacingAndGlyphs">Uninfected</text>
<text x="196.0" y="33.3" font-size="6.2" style="stroke:#222;stroke-width:0.1;" fill="#222" textLength="10.9" lengthAdjust="spacingAndGlyphs">100</text>
<text x="199.7" y="56.6" font-size="6.2" style="stroke:#222;stroke-width:0.1;" fill="#222" textLength="7.2" lengthAdjust="spacingAndGlyphs">80</text>
<text x="199.7" y="80.2" font-size="6.2" style="stroke:#222;stroke-width:0.1;" fill="#222" textLength="7.2" lengthAdjust="spacingAndGlyphs">60</text>
<text x="199.7" y="103.7" font-size="6.2" style="stroke:#222;stroke-width:0.1;" fill="#222" textLength="7.2" lengthAdjust="spacingAndGlyphs">40</text>
<text x="199.7" y="127.2" font-size="6.2" style="stroke:#222;stroke-width:0.1;" fill="#222" textLength="7.2" lengthAdjust="spacingAndGlyphs">20</text>
<text x="203.3" y="150.7" font-size="6.2" style="stroke:#222;stroke-width:0.1;" fill="#222" textLength="3.6" lengthAdjust="spacingAndGlyphs">0</text>
<line x1="209.30" y1="31.10" x2="212.30" y2="31.10" stroke="#333" stroke-width="0.8"/>
<line x1="209.30" y1="54.40" x2="212.30" y2="54.40" stroke="#333" stroke-width="0.8"/>
<line x1="209.30" y1="78.00" x2="212.30" y2="78.00" stroke="#333" stroke-width="0.8"/>
<line x1="209.30" y1="101.50" x2="212.30" y2="101.50" stroke="#333" stroke-width="0.8"/>
<line x1="209.30" y1="125.00" x2="212.30" y2="125.00" stroke="#333" stroke-width="0.8"/>
<line x1="209.30" y1="148.50" x2="212.30" y2="148.50" stroke="#333" stroke-width="0.8"/>
<line x1="210.80" y1="36.92" x2="212.30" y2="36.92" stroke="#333" stroke-width="0.8"/>
<line x1="210.80" y1="42.75" x2="212.30" y2="42.75" stroke="#333" stroke-width="0.8"/>
<line x1="210.80" y1="48.58" x2="212.30" y2="48.58" stroke="#333" stroke-width="0.8"/>
<line x1="210.80" y1="60.30" x2="212.30" y2="60.30" stroke="#333" stroke-width="0.8"/>
<line x1="210.80" y1="66.20" x2="212.30" y2="66.20" stroke="#333" stroke-width="0.8"/>
<line x1="210.80" y1="72.10" x2="212.30" y2="72.10" stroke="#333" stroke-width="0.8"/>
<line x1="210.80" y1="83.88" x2="212.30" y2="83.88" stroke="#333" stroke-width="0.8"/>
<line x1="210.80" y1="89.75" x2="212.30" y2="89.75" stroke="#333" stroke-width="0.8"/>
<line x1="210.80" y1="95.62" x2="212.30" y2="95.62" stroke="#333" stroke-width="0.8"/>
<line x1="210.80" y1="107.38" x2="212.30" y2="107.38" stroke="#333" stroke-width="0.8"/>
<line x1="210.80" y1="113.25" x2="212.30" y2="113.25" stroke="#333" stroke-width="0.8"/>
<line x1="210.80" y1="119.12" x2="212.30" y2="119.12" stroke="#333" stroke-width="0.8"/>
<line x1="210.80" y1="130.88" x2="212.30" y2="130.88" stroke="#333" stroke-width="0.8"/>
<line x1="210.80" y1="136.75" x2="212.30" y2="136.75" stroke="#333" stroke-width="0.8"/>
<line x1="210.80" y1="142.62" x2="212.30" y2="142.62" stroke="#333" stroke-width="0.8"/>
<text x="225.1" y="160.3" font-size="6" style="stroke:#222;stroke-width:0.1;" fill="#222" textLength="3.0" lengthAdjust="spacingAndGlyphs">0</text>
<text x="235.7" y="160.3" font-size="6" fill="#222">10</text>
<text x="242.6" y="157.6" font-size="4.6" fill="#222">2</text>
<text x="266.9" y="160.3" font-size="6" fill="#222">10</text>
<text x="273.8" y="157.6" font-size="4.6" fill="#222">3</text>
<text x="297.9" y="160.3" font-size="6" fill="#222">10</text>
<text x="304.8" y="157.6" font-size="4.6" fill="#222">4</text>
<text x="325.9" y="160.3" font-size="6" fill="#222">10</text>
<text x="332.8" y="157.6" font-size="4.6" fill="#222">5</text>
<line x1="226.50" y1="148.70" x2="226.50" y2="151.20" stroke="#333" stroke-width="0.8"/>
<line x1="240.30" y1="148.70" x2="240.30" y2="151.20" stroke="#333" stroke-width="0.8"/>
<line x1="271.50" y1="148.70" x2="271.50" y2="151.20" stroke="#333" stroke-width="0.8"/>
<line x1="302.50" y1="148.70" x2="302.50" y2="151.20" stroke="#333" stroke-width="0.8"/>
<line x1="330.50" y1="148.70" x2="330.50" y2="151.20" stroke="#333" stroke-width="0.8"/>
<line x1="249.69" y1="148.70" x2="249.69" y2="150.20" stroke="#333" stroke-width="0.8"/>
<line x1="255.19" y1="148.70" x2="255.19" y2="150.20" stroke="#333" stroke-width="0.8"/>
<line x1="259.08" y1="148.70" x2="259.08" y2="150.20" stroke="#333" stroke-width="0.8"/>
<line x1="262.11" y1="148.70" x2="262.11" y2="150.20" stroke="#333" stroke-width="0.8"/>
<line x1="264.58" y1="148.70" x2="264.58" y2="150.20" stroke="#333" stroke-width="0.8"/>
<line x1="266.67" y1="148.70" x2="266.67" y2="150.20" stroke="#333" stroke-width="0.8"/>
<line x1="268.48" y1="148.70" x2="268.48" y2="150.20" stroke="#333" stroke-width="0.8"/>
<line x1="270.07" y1="148.70" x2="270.07" y2="150.20" stroke="#333" stroke-width="0.8"/>
<line x1="280.83" y1="148.70" x2="280.83" y2="150.20" stroke="#333" stroke-width="0.8"/>
<line x1="286.29" y1="148.70" x2="286.29" y2="150.20" stroke="#333" stroke-width="0.8"/>
<line x1="290.16" y1="148.70" x2="290.16" y2="150.20" stroke="#333" stroke-width="0.8"/>
<line x1="293.17" y1="148.70" x2="293.17" y2="150.20" stroke="#333" stroke-width="0.8"/>
<line x1="295.62" y1="148.70" x2="295.62" y2="150.20" stroke="#333" stroke-width="0.8"/>
<line x1="297.70" y1="148.70" x2="297.70" y2="150.20" stroke="#333" stroke-width="0.8"/>
<line x1="299.50" y1="148.70" x2="299.50" y2="150.20" stroke="#333" stroke-width="0.8"/>
<line x1="301.08" y1="148.70" x2="301.08" y2="150.20" stroke="#333" stroke-width="0.8"/>
<line x1="310.93" y1="148.70" x2="310.93" y2="150.20" stroke="#333" stroke-width="0.8"/>
<line x1="315.86" y1="148.70" x2="315.86" y2="150.20" stroke="#333" stroke-width="0.8"/>
<line x1="319.36" y1="148.70" x2="319.36" y2="150.20" stroke="#333" stroke-width="0.8"/>
<line x1="322.07" y1="148.70" x2="322.07" y2="150.20" stroke="#333" stroke-width="0.8"/>
<line x1="324.29" y1="148.70" x2="324.29" y2="150.20" stroke="#333" stroke-width="0.8"/>
<line x1="326.16" y1="148.70" x2="326.16" y2="150.20" stroke="#333" stroke-width="0.8"/>
<line x1="327.79" y1="148.70" x2="327.79" y2="150.20" stroke="#333" stroke-width="0.8"/>
<line x1="329.22" y1="148.70" x2="329.22" y2="150.20" stroke="#333" stroke-width="0.8"/>
<line x1="216.00" y1="148.70" x2="216.00" y2="150.20" stroke="#333" stroke-width="0.8"/>
<line x1="219.50" y1="148.70" x2="219.50" y2="150.20" stroke="#333" stroke-width="0.8"/>
<line x1="222.50" y1="148.70" x2="222.50" y2="150.20" stroke="#333" stroke-width="0.8"/>
<line x1="230.00" y1="148.70" x2="230.00" y2="150.20" stroke="#333" stroke-width="0.8"/>
<line x1="233.00" y1="148.70" x2="233.00" y2="150.20" stroke="#333" stroke-width="0.8"/>
<line x1="236.00" y1="148.70" x2="236.00" y2="150.20" stroke="#333" stroke-width="0.8"/>
<path d="M213.00 148.30 L213.59 148.16 L214.17 148.03 L214.76 147.89 L215.34 147.75 L215.93 147.62 L216.47 147.36 L217.01 147.09 L217.55 146.83 L218.06 146.52 L218.44 146.06 L218.82 145.59 L219.20 145.12 L219.58 144.65 L219.91 144.15 L220.22 143.64 L220.53 143.12 L220.84 142.61 L221.15 142.09 L221.46 141.57 L221.73 141.04 L221.99 140.50 L222.25 139.95 L222.52 139.41 L222.78 138.87 L223.04 138.33 L223.30 137.79 L223.44 137.20 L223.59 136.62 L223.73 136.03 L223.87 135.45 L224.01 134.87 L224.15 134.28 L224.29 133.70 L224.43 133.11 L224.58 132.53 L224.72 131.94 L224.86 131.36 L225.00 130.77 L225.14 130.19 L225.28 129.60 L225.42 129.02 L225.57 128.43 L225.71 127.85 L225.85 127.26 L225.99 126.68 L226.13 126.09 L226.27 125.51 L226.39 124.92 L226.49 124.33 L226.60 123.73 L226.71 123.14 L226.82 122.55 L226.92 121.96 L227.03 121.37 L227.14 120.77 L227.24 120.18 L227.35 119.59 L227.46 119.00 L227.56 118.41 L227.67 117.81 L227.78 117.22 L227.89 116.63 L227.99 116.04 L228.10 115.45 L228.21 114.85 L228.31 114.26 L228.42 113.67 L228.53 113.08 L228.63 112.48 L228.74 111.89 L228.85 111.30 L228.96 110.71 L229.06 110.12 L229.17 109.52 L229.28 108.93 L229.38 108.34 L229.49 107.75 L229.57 107.15 L229.64 106.55 L229.71 105.96 L229.78 105.36 L229.85 104.76 L229.92 104.16 L229.99 103.57 L230.06 102.97 L230.13 102.37 L230.20 101.77 L230.27 101.18 L230.34 100.58 L230.42 99.98 L230.49 99.38 L230.56 98.79 L230.63 98.19 L230.70 97.59 L230.77 96.99 L230.84 96.40 L230.91 95.80 L230.98 95.20 L231.05 94.60 L231.12 94.01 L231.20 93.41 L231.27 92.81 L231.34 92.22 L231.41 91.62 L231.48 91.02 L231.55 90.42 L231.61 89.82 L231.65 89.22 L231.70 88.62 L231.74 88.02 L231.78 87.42 L231.82 86.82 L231.86 86.22 L231.91 85.62 L231.95 85.02 L231.99 84.42 L232.03 83.82 L232.07 83.22 L232.12 82.62 L232.16 82.02 L232.20 81.42 L232.24 80.82 L232.28 80.22 L232.33 79.62 L232.37 79.02 L232.41 78.42 L232.45 77.82 L232.49 77.22 L232.54 76.62 L232.58 76.02 L232.62 75.42 L232.66 74.82 L232.70 74.22 L232.75 73.62 L232.79 73.02 L232.83 72.42 L232.87 71.82 L232.91 71.22 L232.96 70.62 L233.00 70.02 L233.06 69.42 L233.13 68.82 L233.19 68.22 L233.26 67.63 L233.32 67.03 L233.38 66.43 L233.45 65.83 L233.51 65.23 L233.58 64.63 L233.64 64.04 L233.71 63.44 L233.77 62.84 L233.84 62.24 L233.90 61.64 L233.97 61.05 L234.03 60.45 L234.09 59.85 L234.16 59.25 L234.22 58.65 L234.29 58.05 L234.35 57.46 L234.42 56.86 L234.48 56.26 L234.55 55.66 L234.61 55.06 L234.67 54.47 L234.74 53.87 L234.80 53.27 L234.88 52.67 L234.96 52.08 L235.03 51.48 L235.11 50.88 L235.19 50.29 L235.26 49.69 L235.34 49.09 L235.41 48.49 L235.49 47.90 L235.57 47.30 L235.64 46.70 L235.72 46.11 L235.80 45.51 L235.87 44.91 L235.95 44.32 L236.02 43.72 L236.10 43.12 L236.18 42.53 L236.25 41.93 L236.33 41.33 L236.41 40.74 L236.48 40.14 L236.62 39.56 L236.78 38.97 L236.94 38.39 L237.10 37.81 L237.25 37.23 L237.41 36.65 L237.57 36.07 L237.73 35.49 L237.89 34.91 L238.09 34.65 L238.40 35.17 L238.71 35.68 L239.02 36.20 L239.33 36.71 L239.53 36.73 L239.61 36.14 L239.68 35.54 L239.76 34.94 L239.83 34.35 L239.91 33.75 L239.98 33.15 L240.14 33.42 L240.33 34.00 L240.52 34.57 L240.71 35.14 L240.90 35.71 L241.04 36.29 L241.12 36.89 L241.20 37.48 L241.28 38.08 L241.36 38.68 L241.44 39.27 L241.52 39.87 L241.60 40.47 L241.67 41.06 L241.75 41.66 L241.82 42.26 L241.87 42.86 L241.92 43.46 L241.96 44.06 L242.01 44.66 L242.06 45.26 L242.11 45.86 L242.15 46.45 L242.20 47.05 L242.25 47.65 L242.30 48.25 L242.35 48.85 L242.39 49.45 L242.44 50.05 L242.49 50.65 L242.54 51.25 L242.58 51.85 L242.63 52.45 L242.68 53.05 L242.72 53.65 L242.76 54.25 L242.79 54.85 L242.83 55.45 L242.87 56.05 L242.90 56.66 L242.94 57.26 L242.97 57.86 L243.01 58.46 L243.05 59.06 L243.08 59.66 L243.12 60.26 L243.15 60.86 L243.19 61.46 L243.23 62.06 L243.26 62.66 L243.30 63.26 L243.33 63.86 L243.37 64.46 L243.41 65.06 L243.44 65.66 L243.48 66.26 L243.51 66.86 L243.55 67.47 L243.59 68.07 L243.62 68.67 L243.66 69.27 L243.69 69.87 L243.73 70.47 L243.77 71.07 L243.80 71.67 L243.84 72.27 L243.87 72.87 L243.91 73.47 L243.95 74.07 L243.98 74.67 L244.02 75.27 L244.05 75.87 L244.09 76.47 L244.13 77.07 L244.16 77.68 L244.20 78.28 L244.23 78.88 L244.27 79.48 L244.31 80.08 L244.34 80.68 L244.38 81.28 L244.41 81.88 L244.45 82.48 L244.49 83.08 L244.52 83.68 L244.56 84.28 L244.59 84.88 L244.63 85.48 L244.67 86.08 L244.70 86.68 L244.74 87.28 L244.77 87.88 L244.81 88.49 L244.85 89.09 L244.88 89.69 L244.93 90.29 L244.99 90.89 L245.04 91.48 L245.10 92.08 L245.16 92.68 L245.22 93.28 L245.27 93.88 L245.33 94.48 L245.39 95.08 L245.45 95.68 L245.50 96.28 L245.56 96.87 L245.62 97.47 L245.68 98.07 L245.73 98.67 L245.79 99.27 L245.85 99.87 L245.91 100.47 L245.96 101.07 L246.02 101.67 L246.08 102.26 L246.14 102.86 L246.19 103.46 L246.25 104.06 L246.31 104.66 L246.37 105.26 L246.42 105.86 L246.48 106.46 L246.54 107.06 L246.60 107.65 L246.67 108.25 L246.76 108.85 L246.84 109.44 L246.92 110.04 L247.00 110.64 L247.08 111.23 L247.16 111.83 L247.24 112.42 L247.32 113.02 L247.40 113.62 L247.48 114.21 L247.56 114.81 L247.64 115.41 L247.73 116.00 L247.81 116.60 L247.89 117.19 L247.97 117.79 L248.05 118.39 L248.13 118.98 L248.21 119.58 L248.29 120.17 L248.37 120.77 L248.45 121.37 L248.53 121.96 L248.61 122.56 L248.70 123.16 L248.78 123.75 L248.86 124.35 L248.94 124.94 L249.02 125.54 L249.10 126.14 L249.19 126.73 L249.27 127.33 L249.36 127.92 L249.44 128.52 L249.53 129.11 L249.61 129.71 L249.69 130.31 L249.78 130.90 L249.86 131.50 L249.95 132.09 L250.03 132.69 L250.12 133.28 L250.20 133.88 L250.28 134.48 L250.37 135.07 L250.45 135.67 L250.57 136.26 L250.74 136.83 L250.90 137.41 L251.07 137.99 L251.23 138.57 L251.40 139.15 L251.56 139.73 L251.73 140.30 L251.90 140.88 L252.06 141.46 L252.23 142.04 L252.39 142.62 L252.62 143.17 L252.97 143.66 L253.32 144.15 L253.67 144.64 L254.02 145.13 L254.37 145.62 L254.72 146.10 L255.10 146.55 L255.64 146.82 L256.18 147.09 L256.72 147.36 L257.26 147.63 L257.79 147.90 L258.37 148.00 L258.97 148.00 L259.57 148.01 L260.18 148.01 L260.78 148.01 L261.38 148.02 L261.98 148.02 L262.58 148.02 L263.18 148.02 L263.79 148.03 L264.39 148.03 L264.99 148.03 L265.59 148.04 L266.19 148.04 L266.79 148.04 L267.40 148.04 L268.00 148.05 L268.60 148.05 L269.20 148.05 L269.80 148.06 L270.40 148.06 L271.01 148.06 L271.61 148.06 L272.21 148.07 L272.81 148.07 L273.41 148.07 L274.01 148.08 L274.62 148.08 L275.22 148.08 L275.82 148.08 L276.42 148.09 L277.02 148.09 L277.62 148.09 L278.23 148.10 L278.83 148.10 L279.43 148.10 L280.03 148.10 L280.63 148.11 L281.23 148.11 L281.84 148.11 L282.44 148.12 L283.04 148.12 L283.64 148.12 L284.24 148.12 L284.84 148.13 L285.45 148.13 L286.05 148.13 L286.65 148.14 L287.25 148.14 L287.85 148.14 L288.45 148.15 L289.06 148.15 L289.66 148.15 L290.26 148.15 L290.86 148.16 L291.46 148.16 L292.06 148.16 L292.67 148.17 L293.27 148.17 L293.87 148.17 L294.47 148.17 L295.07 148.18 L295.67 148.18 L296.28 148.18 L296.88 148.19 L297.48 148.19 L298.08 148.19 L298.68 148.19 L299.28 148.20 L299.88 148.20 L300.49 148.20 L301.09 148.21 L301.69 148.21 L302.29 148.21 L302.89 148.21 L303.49 148.22 L304.10 148.22 L304.70 148.22 L305.30 148.23 L305.90 148.23 L306.50 148.23 L307.10 148.23 L307.71 148.24 L308.31 148.24 L308.91 148.24 L309.51 148.25 L310.11 148.25 L310.71 148.25 L311.32 148.25 L311.92 148.26 L312.52 148.26 L313.12 148.26 L313.72 148.27 L314.32 148.27 L314.93 148.27 L315.53 148.27 L316.13 148.28 L316.73 148.28 L317.33 148.28 L317.93 148.29 L318.54 148.29 L319.14 148.29 L319.74 148.29 L320.34 148.30 L320.94 148.30 L321.54 148.30 L322.15 148.31 L322.75 148.31 L323.35 148.31 L323.95 148.31 L324.55 148.32 L325.15 148.32 L325.76 148.32 L326.36 148.33 L326.96 148.33 L327.56 148.33 L328.16 148.33 L328.76 148.34 L329.37 148.34 L329.97 148.34 L330.57 148.35 L331.17 148.35 L331.77 148.35 L332.37 148.35 L332.98 148.36 L333.58 148.36 L334.18 148.36 L334.78 148.37 L335.38 148.37 L335.98 148.37 L336.59 148.37 L337.19 148.38 L337.79 148.38 L338.39 148.38 L338.99 148.39 L339.59 148.39 L340.20 148.39 L340.80 148.39 L341.40 148.40 L342.00 148.40" fill="none" stroke="#888" stroke-width="1.0" stroke-linejoin="round" opacity="1"/>
<path d="M213.00 148.30 L213.59 148.16 L214.17 148.02 L214.76 147.86 L215.34 147.78 L215.93 147.64 L216.47 147.35 L217.01 147.12 L217.55 146.84 L218.06 146.50 L218.44 146.12 L218.82 145.57 L219.20 145.09 L219.58 144.57 L219.91 144.21 L220.22 143.63 L220.53 143.20 L220.84 142.51 L221.15 142.11 L221.46 141.41 L221.73 141.20 L221.99 140.54 L222.25 140.03 L222.51 139.51 L222.78 138.62 L223.04 138.54 L223.30 138.37 L223.44 136.72 L223.59 136.08 L223.73 135.54 L223.87 135.74 L224.01 134.91 L224.15 134.69 L224.29 133.98 L224.43 133.20 L224.58 132.65 L224.72 131.87 L224.86 131.75 L225.00 130.24 L225.14 129.98 L225.28 129.73 L225.42 129.95 L225.57 128.03 L225.71 127.26 L225.85 126.95 L225.99 127.24 L226.13 125.96 L226.27 126.32 L226.39 123.75 L226.49 125.05 L226.60 124.42 L226.71 122.19 L226.81 122.66 L226.92 122.82 L227.03 121.43 L227.14 121.51 L227.24 121.97 L227.35 119.80 L227.46 118.78 L227.56 117.79 L227.67 118.34 L227.78 117.07 L227.89 116.49 L227.99 115.96 L228.10 115.97 L228.21 114.00 L228.31 113.04 L228.42 111.73 L228.53 114.04 L228.63 112.55 L228.74 113.11 L228.85 111.30 L228.96 110.12 L229.06 110.50 L229.17 109.47 L229.28 107.93 L229.38 107.64 L229.49 109.17 L229.56 107.44 L229.64 106.89 L229.71 105.74 L229.78 104.81 L229.85 105.48 L229.92 104.09 L229.99 102.96 L230.06 102.87 L230.13 101.65 L230.20 101.93 L230.27 102.09 L230.34 99.92 L230.42 101.13 L230.49 98.86 L230.56 98.92 L230.63 97.53 L230.70 97.42 L230.77 97.04 L230.84 96.06 L230.91 95.24 L230.98 94.67 L231.05 93.95 L231.12 92.76 L231.19 93.21 L231.27 93.14 L231.34 92.95 L231.41 92.14 L231.48 92.99 L231.55 90.68 L231.61 89.47 L231.65 90.73 L231.70 87.79 L231.74 88.81 L231.78 86.67 L231.82 87.11 L231.86 84.66 L231.91 86.35 L231.95 84.90 L231.99 83.66 L232.03 85.17 L232.07 83.84 L232.12 82.67 L232.16 81.43 L232.20 81.39 L232.24 80.70 L232.28 80.81 L232.33 80.27 L232.37 78.49 L232.41 77.99 L232.45 77.40 L232.49 76.15 L232.54 76.15 L232.58 75.95 L232.62 75.98 L232.66 75.88 L232.70 73.58 L232.75 74.07 L232.79 72.67 L232.83 74.09 L232.87 71.79 L232.91 71.63 L232.96 69.88 L233.00 69.38 L233.06 69.59 L233.13 68.52 L233.19 68.51 L233.26 66.38 L233.32 67.57 L233.38 65.72 L233.45 67.22 L233.51 65.01 L233.58 65.52 L233.64 62.93 L233.71 63.79 L233.77 62.14 L233.84 61.86 L233.90 61.67 L233.96 60.80 L234.03 60.67 L234.09 60.46 L234.16 59.78 L234.22 58.59 L234.29 56.97 L234.35 56.82 L234.42 56.71 L234.48 54.57 L234.54 56.27 L234.61 54.88 L234.67 54.27 L234.74 54.64 L234.80 53.81 L234.88 52.86 L234.96 51.28 L235.03 51.74 L235.11 51.17 L235.18 49.59 L235.26 50.53 L235.34 49.51 L235.41 46.93 L235.49 48.01 L235.57 46.30 L235.64 47.62 L235.72 46.76 L235.79 44.64 L235.87 44.22 L235.95 44.41 L236.02 43.54 L236.10 44.35 L236.18 43.13 L236.25 41.72 L236.33 41.81 L236.40 39.12 L236.48 40.40 L236.61 40.26 L236.75 38.84 L236.90 37.83 L237.05 38.27 L237.19 38.80 L237.34 36.81 L237.48 35.17 L237.63 36.64 L237.78 33.39 L237.92 34.71 L238.18 33.32 L238.55 34.06 L238.93 32.16 L239.30 33.69 L239.65 33.36 L240.01 32.22 L240.33 32.53 L240.50 34.43 L240.68 36.29 L240.85 35.93 L241.02 36.46 L241.20 36.80 L241.25 38.17 L241.31 38.49 L241.36 39.01 L241.42 38.59 L241.47 40.93 L241.53 41.67 L241.58 40.14 L241.64 43.62 L241.69 42.95 L241.75 42.59 L241.81 42.05 L241.86 44.70 L241.92 45.22 L241.97 44.90 L242.03 44.54 L242.08 47.47 L242.14 46.70 L242.19 47.39 L242.25 50.64 L242.30 50.67 L242.36 50.33 L242.41 49.80 L242.47 51.28 L242.52 49.54 L242.58 52.05 L242.63 51.95 L242.69 52.13 L242.73 52.49 L242.76 54.78 L242.80 55.03 L242.84 55.69 L242.87 56.84 L242.91 56.09 L242.94 56.37 L242.98 56.54 L243.02 58.30 L243.05 59.77 L243.09 59.65 L243.12 60.88 L243.16 60.02 L243.20 61.19 L243.23 61.55 L243.27 61.77 L243.30 64.86 L243.34 64.65 L243.38 63.96 L243.41 64.56 L243.45 65.72 L243.48 65.22 L243.52 67.32 L243.56 66.54 L243.59 67.88 L243.63 67.95 L243.66 68.99 L243.70 68.91 L243.74 69.32 L243.77 70.40 L243.81 71.23 L243.84 72.14 L243.88 73.03 L243.92 74.80 L243.95 74.83 L243.99 74.58 L244.02 75.96 L244.06 75.43 L244.10 77.74 L244.13 77.62 L244.17 76.70 L244.20 78.99 L244.24 79.63 L244.28 77.43 L244.31 79.58 L244.35 80.40 L244.38 79.84 L244.42 81.13 L244.46 81.83 L244.49 83.59 L244.53 84.03 L244.56 86.49 L244.60 84.67 L244.64 86.51 L244.67 86.25 L244.71 87.00 L244.74 86.46 L244.78 86.46 L244.82 87.98 L244.85 89.80 L244.89 91.06 L244.94 90.87 L244.99 91.39 L245.05 90.92 L245.11 93.41 L245.17 93.86 L245.23 92.96 L245.28 93.95 L245.34 93.78 L245.40 96.35 L245.46 96.10 L245.51 96.30 L245.57 97.30 L245.63 97.93 L245.69 97.85 L245.74 97.78 L245.80 98.35 L245.86 98.58 L245.92 100.94 L245.97 102.94 L246.03 100.41 L246.09 102.48 L246.15 103.29 L246.20 102.78 L246.26 104.33 L246.32 103.88 L246.38 106.32 L246.43 105.48 L246.49 106.64 L246.55 107.70 L246.61 107.41 L246.69 106.92 L246.77 108.52 L246.85 110.16 L246.92 110.07 L247.00 110.92 L247.08 110.47 L247.16 112.04 L247.24 113.11 L247.32 113.15 L247.40 115.25 L247.48 114.15 L247.56 114.08 L247.64 114.21 L247.72 117.03 L247.80 116.65 L247.88 118.11 L247.95 118.26 L248.03 119.79 L248.11 120.08 L248.19 119.39 L248.27 120.48 L248.35 121.67 L248.43 120.58 L248.51 123.09 L248.59 123.50 L248.67 123.92 L248.75 123.73 L248.83 124.65 L248.92 124.35 L249.00 125.68 L249.08 125.89 L249.16 126.89 L249.24 127.16 L249.32 128.18 L249.40 129.25 L249.48 128.55 L249.57 130.28 L249.65 129.46 L249.73 130.01 L249.81 131.55 L249.89 132.20 L249.97 132.98 L250.06 132.73 L250.16 133.96 L250.25 134.63 L250.35 135.62 L250.45 135.73 L250.54 136.53 L250.64 136.66 L250.73 137.50 L250.83 138.02 L250.93 138.92 L251.12 139.02 L251.65 139.35 L252.18 139.96 L252.53 140.18 L252.61 139.26 L252.68 138.65 L252.76 137.88 L252.83 137.70 L252.91 136.95 L252.99 136.75 L253.06 135.70 L253.14 134.65 L253.31 134.29 L253.81 134.25 L253.87 134.77 L253.93 136.23 L253.98 136.66 L254.04 136.63 L254.10 138.12 L254.16 138.27 L254.22 138.56 L254.27 139.49 L254.33 139.98 L254.39 140.44 L254.76 140.66 L255.19 141.47 L255.63 141.93 L256.06 141.87 L256.50 142.79 L256.97 143.04 L257.55 142.71 L258.13 142.63 L258.68 142.57 L259.19 142.82 L259.69 143.22 L260.20 143.77 L260.79 143.52 L261.38 143.83 L261.97 143.93 L262.52 143.85 L262.75 143.32 L262.97 142.61 L263.19 142.12 L263.62 142.00 L264.05 142.27 L264.20 142.66 L264.35 143.79 L264.49 143.90 L264.64 144.56 L264.78 145.11 L264.93 145.69 L265.29 145.99 L265.86 145.68 L266.43 145.62 L266.86 145.21 L267.27 144.57 L267.68 144.35 L268.12 144.11 L268.56 144.86 L268.92 145.03 L269.29 145.48 L269.65 145.91 L270.01 146.44 L270.60 146.61 L271.18 146.74 L271.77 146.87 L272.35 147.05 L272.93 147.23 L273.51 147.43 L274.09 147.51 L274.67 147.70 L275.26 147.82 L275.85 147.90 L276.45 147.99 L277.04 148.08 L277.64 148.18 L278.23 148.26 L278.83 148.30 L279.43 148.30 L280.04 148.30 L280.64 148.30 L281.24 148.31 L281.84 148.30 L282.44 148.31 L283.04 148.31 L283.65 148.31 L284.25 148.31 L284.85 148.31 L285.45 148.31 L286.05 148.32 L286.65 148.31 L287.26 148.32 L287.86 148.31 L288.46 148.32 L289.06 148.32 L289.66 148.32 L290.26 148.32 L290.86 148.32 L291.47 148.32 L292.07 148.32 L292.67 148.32 L293.27 148.32 L293.87 148.32 L294.47 148.32 L295.08 148.32 L295.68 148.33 L296.28 148.33 L296.88 148.33 L297.48 148.33 L298.08 148.33 L298.69 148.33 L299.29 148.33 L299.89 148.33 L300.49 148.33 L301.09 148.34 L301.69 148.33 L302.30 148.34 L302.90 148.34 L303.50 148.34 L304.10 148.34 L304.70 148.34 L305.30 148.34 L305.90 148.34 L306.51 148.35 L307.11 148.35 L307.71 148.35 L308.31 148.35 L308.91 148.35 L309.51 148.35 L310.12 148.35 L310.72 148.35 L311.32 148.35 L311.92 148.35 L312.52 148.35 L313.12 148.36 L313.73 148.36 L314.33 148.36 L314.93 148.36 L315.53 148.36 L316.13 148.36 L316.73 148.36 L317.33 148.36 L317.94 148.36 L318.54 148.36 L319.14 148.36 L319.74 148.36 L320.34 148.37 L320.94 148.37 L321.55 148.37 L322.15 148.37 L322.75 148.37 L323.35 148.37 L323.95 148.37 L324.55 148.37 L325.16 148.37 L325.76 148.37 L326.36 148.38 L326.96 148.38 L327.56 148.38 L328.16 148.38 L328.77 148.38 L329.37 148.38 L329.97 148.38 L330.57 148.38 L331.17 148.38 L331.77 148.38 L332.37 148.38 L332.98 148.39 L333.58 148.39 L334.18 148.39 L334.78 148.39 L335.38 148.39 L335.98 148.39 L336.59 148.39 L337.19 148.39 L337.79 148.39 L338.39 148.39 L338.99 148.40 L339.59 148.40 L340.20 148.40 L340.80 148.40 L341.40 148.40 L342.00 148.40" fill="none" stroke="#000" stroke-width="2.0" stroke-linejoin="round" opacity="1"/>
<line x1="212.30" y1="24.80" x2="343.00" y2="24.80" stroke="#888" stroke-width="1.2"/>
<line x1="343.00" y1="24.80" x2="343.00" y2="148.70" stroke="#888" stroke-width="1.2"/>
<line x1="212.30" y1="24.30" x2="212.30" y2="148.70" stroke="#555" stroke-width="1.1"/>
<line x1="212.30" y1="148.70" x2="343.00" y2="148.70" stroke="#333" stroke-width="1.1"/>
<text x="239.6" y="175.6" font-size="11" style="stroke:#111;stroke-width:0.18;" fill="#111" textLength="73.5" lengthAdjust="spacingAndGlyphs">NKG2D Ligand</text>
<path d="M182.8 26.4 L186.0 20.3 L189.2 26.4Z" fill="#111"/>
<line x1="186.00" y1="26.40" x2="186.00" y2="36.60" stroke="#555" stroke-width="1.0"/>
<text transform="translate(190.2,137.1) rotate(-90)" x="0" y="0" font-size="10" fill="#111" stroke="#111" stroke-width="0.18" textLength="99.8" lengthAdjust="spacingAndGlyphs">Relative cell number</text>
<line x1="186.00" y1="139.50" x2="186.00" y2="153.70" stroke="#555" stroke-width="1.0"/>
<text x="384.2" y="19.6" font-size="16" style="font-weight:bold;" fill="#000">C</text>
<text x="431.0" y="14.9" font-size="11" style="stroke:#111;stroke-width:0.18;" fill="#111" textLength="34.5" lengthAdjust="spacingAndGlyphs">p24 Ag</text>
<line x1="466.20" y1="5.00" x2="468.80" y2="5.00" stroke="#222" stroke-width="1.1"/>
<text x="370.1" y="31.6" font-size="6.2" style="stroke:#222;stroke-width:0.1;" fill="#222" textLength="10.9" lengthAdjust="spacingAndGlyphs">100</text>
<text x="373.8" y="55.1" font-size="6.2" style="stroke:#222;stroke-width:0.1;" fill="#222" textLength="7.2" lengthAdjust="spacingAndGlyphs">80</text>
<text x="373.8" y="78.7" font-size="6.2" style="stroke:#222;stroke-width:0.1;" fill="#222" textLength="7.2" lengthAdjust="spacingAndGlyphs">60</text>
<text x="373.8" y="102.7" font-size="6.2" style="stroke:#222;stroke-width:0.1;" fill="#222" textLength="7.2" lengthAdjust="spacingAndGlyphs">40</text>
<text x="373.8" y="126.4" font-size="6.2" style="stroke:#222;stroke-width:0.1;" fill="#222" textLength="7.2" lengthAdjust="spacingAndGlyphs">20</text>
<text x="377.4" y="150.1" font-size="6.2" style="stroke:#222;stroke-width:0.1;" fill="#222" textLength="3.6" lengthAdjust="spacingAndGlyphs">0</text>
<line x1="383.00" y1="29.40" x2="386.00" y2="29.40" stroke="#333" stroke-width="0.8"/>
<line x1="383.00" y1="52.90" x2="386.00" y2="52.90" stroke="#333" stroke-width="0.8"/>
<line x1="383.00" y1="76.50" x2="386.00" y2="76.50" stroke="#333" stroke-width="0.8"/>
<line x1="383.00" y1="100.50" x2="386.00" y2="100.50" stroke="#333" stroke-width="0.8"/>
<line x1="383.00" y1="124.20" x2="386.00" y2="124.20" stroke="#333" stroke-width="0.8"/>
<line x1="383.00" y1="147.90" x2="386.00" y2="147.90" stroke="#333" stroke-width="0.8"/>
<line x1="384.50" y1="35.27" x2="386.00" y2="35.27" stroke="#333" stroke-width="0.8"/>
<line x1="384.50" y1="41.15" x2="386.00" y2="41.15" stroke="#333" stroke-width="0.8"/>
<line x1="384.50" y1="47.02" x2="386.00" y2="47.02" stroke="#333" stroke-width="0.8"/>
<line x1="384.50" y1="58.80" x2="386.00" y2="58.80" stroke="#333" stroke-width="0.8"/>
<line x1="384.50" y1="64.70" x2="386.00" y2="64.70" stroke="#333" stroke-width="0.8"/>
<line x1="384.50" y1="70.60" x2="386.00" y2="70.60" stroke="#333" stroke-width="0.8"/>
<line x1="384.50" y1="82.50" x2="386.00" y2="82.50" stroke="#333" stroke-width="0.8"/>
<line x1="384.50" y1="88.50" x2="386.00" y2="88.50" stroke="#333" stroke-width="0.8"/>
<line x1="384.50" y1="94.50" x2="386.00" y2="94.50" stroke="#333" stroke-width="0.8"/>
<line x1="384.50" y1="106.42" x2="386.00" y2="106.42" stroke="#333" stroke-width="0.8"/>
<line x1="384.50" y1="112.35" x2="386.00" y2="112.35" stroke="#333" stroke-width="0.8"/>
<line x1="384.50" y1="118.28" x2="386.00" y2="118.28" stroke="#333" stroke-width="0.8"/>
<line x1="384.50" y1="130.12" x2="386.00" y2="130.12" stroke="#333" stroke-width="0.8"/>
<line x1="384.50" y1="136.05" x2="386.00" y2="136.05" stroke="#333" stroke-width="0.8"/>
<line x1="384.50" y1="141.97" x2="386.00" y2="141.97" stroke="#333" stroke-width="0.8"/>
<text x="398.8" y="159.2" font-size="6" style="stroke:#222;stroke-width:0.1;" fill="#222" textLength="3.0" lengthAdjust="spacingAndGlyphs">0</text>
<text x="409.1" y="159.2" font-size="6" fill="#222">10</text>
<text x="416.0" y="156.5" font-size="4.6" fill="#222">2</text>
<text x="440.7" y="159.2" font-size="6" fill="#222">10</text>
<text x="447.6" y="156.5" font-size="4.6" fill="#222">3</text>
<text x="469.2" y="159.2" font-size="6" fill="#222">10</text>
<text x="476.1" y="156.5" font-size="4.6" fill="#222">4</text>
<text x="498.4" y="159.2" font-size="6" fill="#222">10</text>
<text x="505.3" y="156.5" font-size="4.6" fill="#222">5</text>
<line x1="400.20" y1="147.90" x2="400.20" y2="150.40" stroke="#333" stroke-width="0.8"/>
<line x1="413.70" y1="147.90" x2="413.70" y2="150.40" stroke="#333" stroke-width="0.8"/>
<line x1="445.30" y1="147.90" x2="445.30" y2="150.40" stroke="#333" stroke-width="0.8"/>
<line x1="473.80" y1="147.90" x2="473.80" y2="150.40" stroke="#333" stroke-width="0.8"/>
<line x1="503.00" y1="147.90" x2="503.00" y2="150.40" stroke="#333" stroke-width="0.8"/>
<line x1="423.21" y1="147.90" x2="423.21" y2="149.40" stroke="#333" stroke-width="0.8"/>
<line x1="428.78" y1="147.90" x2="428.78" y2="149.40" stroke="#333" stroke-width="0.8"/>
<line x1="432.73" y1="147.90" x2="432.73" y2="149.40" stroke="#333" stroke-width="0.8"/>
<line x1="435.79" y1="147.90" x2="435.79" y2="149.40" stroke="#333" stroke-width="0.8"/>
<line x1="438.29" y1="147.90" x2="438.29" y2="149.40" stroke="#333" stroke-width="0.8"/>
<line x1="440.41" y1="147.90" x2="440.41" y2="149.40" stroke="#333" stroke-width="0.8"/>
<line x1="442.24" y1="147.90" x2="442.24" y2="149.40" stroke="#333" stroke-width="0.8"/>
<line x1="443.85" y1="147.90" x2="443.85" y2="149.40" stroke="#333" stroke-width="0.8"/>
<line x1="453.88" y1="147.90" x2="453.88" y2="149.40" stroke="#333" stroke-width="0.8"/>
<line x1="458.90" y1="147.90" x2="458.90" y2="149.40" stroke="#333" stroke-width="0.8"/>
<line x1="462.46" y1="147.90" x2="462.46" y2="149.40" stroke="#333" stroke-width="0.8"/>
<line x1="465.22" y1="147.90" x2="465.22" y2="149.40" stroke="#333" stroke-width="0.8"/>
<line x1="467.48" y1="147.90" x2="467.48" y2="149.40" stroke="#333" stroke-width="0.8"/>
<line x1="469.39" y1="147.90" x2="469.39" y2="149.40" stroke="#333" stroke-width="0.8"/>
<line x1="471.04" y1="147.90" x2="471.04" y2="149.40" stroke="#333" stroke-width="0.8"/>
<line x1="472.50" y1="147.90" x2="472.50" y2="149.40" stroke="#333" stroke-width="0.8"/>
<line x1="482.59" y1="147.90" x2="482.59" y2="149.40" stroke="#333" stroke-width="0.8"/>
<line x1="487.73" y1="147.90" x2="487.73" y2="149.40" stroke="#333" stroke-width="0.8"/>
<line x1="491.38" y1="147.90" x2="491.38" y2="149.40" stroke="#333" stroke-width="0.8"/>
<line x1="494.21" y1="147.90" x2="494.21" y2="149.40" stroke="#333" stroke-width="0.8"/>
<line x1="496.52" y1="147.90" x2="496.52" y2="149.40" stroke="#333" stroke-width="0.8"/>
<line x1="498.48" y1="147.90" x2="498.48" y2="149.40" stroke="#333" stroke-width="0.8"/>
<line x1="500.17" y1="147.90" x2="500.17" y2="149.40" stroke="#333" stroke-width="0.8"/>
<line x1="501.66" y1="147.90" x2="501.66" y2="149.40" stroke="#333" stroke-width="0.8"/>
<line x1="390.00" y1="147.90" x2="390.00" y2="149.40" stroke="#333" stroke-width="0.8"/>
<line x1="393.00" y1="147.90" x2="393.00" y2="149.40" stroke="#333" stroke-width="0.8"/>
<line x1="396.00" y1="147.90" x2="396.00" y2="149.40" stroke="#333" stroke-width="0.8"/>
<line x1="404.00" y1="147.90" x2="404.00" y2="149.40" stroke="#333" stroke-width="0.8"/>
<line x1="407.00" y1="147.90" x2="407.00" y2="149.40" stroke="#333" stroke-width="0.8"/>
<line x1="410.00" y1="147.90" x2="410.00" y2="149.40" stroke="#333" stroke-width="0.8"/>
<path d="M386.00 147.80 L386.60 147.76 L387.20 147.72 L387.80 147.68 L388.40 147.64 L389.00 147.60 L389.58 147.43 L390.16 147.25 L390.73 147.08 L391.25 146.79 L391.71 146.40 L392.16 146.01 L392.62 145.62 L393.06 145.21 L393.41 144.72 L393.76 144.23 L394.11 143.74 L394.46 143.25 L394.81 142.76 L395.16 142.27 L395.51 141.78 L395.75 141.23 L395.98 140.68 L396.22 140.12 L396.46 139.57 L396.70 139.02 L396.94 138.47 L397.18 137.91 L397.41 137.36 L397.65 136.81 L397.89 136.25 L398.07 135.68 L398.20 135.09 L398.33 134.51 L398.46 133.92 L398.59 133.33 L398.72 132.74 L398.85 132.16 L398.98 131.57 L399.12 130.98 L399.25 130.39 L399.38 129.81 L399.51 129.22 L399.64 128.63 L399.77 128.04 L399.90 127.45 L400.02 126.87 L400.12 126.27 L400.22 125.68 L400.32 125.08 L400.42 124.49 L400.52 123.90 L400.62 123.30 L400.72 122.71 L400.81 122.11 L400.91 121.52 L401.01 120.93 L401.11 120.33 L401.21 119.74 L401.31 119.15 L401.41 118.55 L401.51 117.96 L401.61 117.36 L401.70 116.77 L401.80 116.18 L401.90 115.58 L402.00 114.99 L402.04 114.39 L402.08 113.79 L402.12 113.19 L402.15 112.59 L402.19 111.99 L402.23 111.38 L402.27 110.78 L402.31 110.18 L402.35 109.58 L402.39 108.98 L402.42 108.38 L402.46 107.78 L402.50 107.18 L402.54 106.58 L402.58 105.98 L402.62 105.38 L402.65 104.78 L402.69 104.17 L402.73 103.57 L402.77 102.97 L402.81 102.37 L402.85 101.77 L402.89 101.17 L402.92 100.57 L402.96 99.97 L403.00 99.37 L403.04 98.77 L403.08 98.17 L403.12 97.57 L403.15 96.97 L403.19 96.36 L403.23 95.76 L403.27 95.16 L403.31 94.56 L403.35 93.96 L403.38 93.36 L403.42 92.76 L403.46 92.16 L403.50 91.56 L403.54 90.96 L403.58 90.36 L403.63 89.76 L403.72 89.16 L403.80 88.57 L403.88 87.97 L403.97 87.37 L404.05 86.78 L404.13 86.18 L404.22 85.58 L404.30 84.99 L404.39 84.39 L404.47 83.80 L404.55 83.20 L404.64 82.60 L404.72 82.01 L404.80 81.41 L404.89 80.82 L404.97 80.22 L405.06 79.62 L405.14 79.03 L405.23 78.43 L405.32 77.84 L405.41 77.24 L405.50 76.65 L405.59 76.05 L405.67 75.45 L405.76 74.86 L405.85 74.26 L405.94 73.67 L406.03 73.07 L406.11 72.48 L406.20 71.88 L406.29 71.29 L406.38 70.69 L406.47 70.10 L406.56 69.50 L406.62 68.90 L406.66 68.30 L406.70 67.70 L406.73 67.10 L406.77 66.50 L406.81 65.90 L406.85 65.30 L406.89 64.70 L406.92 64.09 L406.96 63.49 L407.00 62.89 L407.04 62.29 L407.08 61.69 L407.11 61.09 L407.15 60.49 L407.19 59.89 L407.23 59.29 L407.27 58.69 L407.30 58.09 L407.34 57.49 L407.38 56.89 L407.42 56.28 L407.46 55.68 L407.49 55.08 L407.52 54.48 L407.54 53.88 L407.57 53.28 L407.59 52.68 L407.61 52.08 L407.63 51.47 L407.66 50.87 L407.68 50.27 L407.70 49.67 L407.72 49.07 L407.75 48.47 L407.77 47.86 L407.79 47.26 L407.82 46.66 L407.84 46.06 L407.86 45.46 L407.88 44.86 L407.91 44.25 L407.93 43.65 L407.95 43.05 L407.98 42.45 L408.00 41.85 L408.14 41.26 L408.29 40.68 L408.45 40.10 L408.60 39.52 L408.75 38.94 L408.91 38.35 L409.03 37.77 L409.10 37.17 L409.17 36.57 L409.24 35.97 L409.31 35.37 L409.38 34.78 L409.45 34.18 L409.52 33.58 L409.59 32.98 L409.66 32.38 L409.73 31.79 L409.81 31.20 L410.41 31.20 L411.02 31.20 L411.62 31.20 L412.22 31.20 L412.82 31.20 L413.33 31.32 L413.48 31.90 L413.62 32.49 L413.77 33.07 L413.91 33.66 L414.06 34.24 L414.21 34.82 L414.35 35.41 L414.50 35.99 L414.67 36.57 L414.84 37.15 L415.01 37.72 L415.19 38.30 L415.36 38.88 L415.53 39.45 L415.70 40.03 L415.88 40.61 L416.05 41.18 L416.22 41.76 L416.39 42.34 L416.52 42.92 L416.59 43.52 L416.65 44.12 L416.72 44.72 L416.78 45.32 L416.85 45.92 L416.91 46.51 L416.97 47.11 L417.04 47.71 L417.10 48.31 L417.17 48.91 L417.23 49.51 L417.30 50.11 L417.36 50.70 L417.43 51.30 L417.49 51.90 L417.57 52.50 L417.64 53.10 L417.72 53.69 L417.80 54.29 L417.88 54.89 L417.96 55.48 L418.03 56.08 L418.11 56.68 L418.19 57.27 L418.27 57.87 L418.35 58.47 L418.43 59.06 L418.50 59.66 L418.58 60.26 L418.63 60.86 L418.67 61.46 L418.70 62.06 L418.74 62.66 L418.78 63.26 L418.81 63.86 L418.85 64.46 L418.89 65.06 L418.92 65.67 L418.96 66.27 L419.00 66.87 L419.04 67.47 L419.07 68.07 L419.11 68.67 L419.15 69.27 L419.18 69.87 L419.22 70.47 L419.26 71.07 L419.29 71.67 L419.33 72.27 L419.37 72.88 L419.41 73.48 L419.44 74.08 L419.48 74.68 L419.52 75.28 L419.55 75.88 L419.59 76.48 L419.62 77.08 L419.66 77.68 L419.70 78.28 L419.73 78.88 L419.77 79.49 L419.81 80.09 L419.84 80.69 L419.88 81.29 L419.91 81.89 L419.95 82.49 L419.99 83.09 L420.02 83.69 L420.06 84.29 L420.09 84.89 L420.13 85.49 L420.17 86.10 L420.20 86.70 L420.24 87.30 L420.27 87.90 L420.31 88.50 L420.35 89.10 L420.38 89.70 L420.41 90.30 L420.44 90.90 L420.46 91.51 L420.48 92.11 L420.51 92.71 L420.53 93.31 L420.55 93.91 L420.58 94.51 L420.60 95.11 L420.63 95.72 L420.65 96.32 L420.67 96.92 L420.70 97.52 L420.72 98.12 L420.74 98.72 L420.77 99.33 L420.79 99.93 L420.81 100.53 L420.84 101.13 L420.86 101.73 L420.89 102.33 L420.92 102.93 L420.96 103.53 L421.01 104.14 L421.05 104.74 L421.09 105.34 L421.14 105.94 L421.18 106.54 L421.23 107.14 L421.27 107.74 L421.31 108.34 L421.36 108.94 L421.40 109.54 L421.45 110.14 L421.49 110.74 L421.53 111.34 L421.58 111.94 L421.62 112.54 L421.67 113.14 L421.71 113.74 L421.76 114.34 L421.80 114.94 L421.84 115.54 L421.89 116.14 L421.93 116.74 L421.98 117.34 L422.02 117.94 L422.06 118.54 L422.11 119.15 L422.15 119.75 L422.20 120.35 L422.31 120.94 L422.44 121.53 L422.56 122.11 L422.68 122.70 L422.81 123.29 L422.93 123.88 L423.05 124.47 L423.18 125.06 L423.30 125.65 L423.42 126.24 L423.55 126.83 L423.67 127.42 L423.79 128.01 L423.92 128.60 L424.04 129.18 L424.17 129.77 L424.29 130.36 L424.41 130.95 L424.54 131.54 L424.66 132.13 L424.78 132.72 L425.14 133.19 L425.53 133.65 L425.93 134.10 L426.32 134.56 L426.72 135.01 L427.11 135.47 L427.50 135.93 L427.90 136.38 L428.37 136.75 L428.87 137.08 L429.37 137.41 L429.87 137.75 L430.37 138.08 L430.87 138.42 L431.40 138.70 L431.94 138.97 L432.48 139.24 L433.02 139.51 L433.56 139.78 L434.10 140.05 L434.63 140.32 L435.17 140.59 L435.71 140.86 L436.24 141.13 L436.78 141.41 L437.32 141.68 L437.85 141.96 L438.39 142.23 L438.93 142.50 L439.46 142.78 L440.00 143.05 L440.54 143.31 L441.08 143.58 L441.62 143.84 L442.16 144.11 L442.70 144.37 L443.24 144.64 L443.78 144.90 L444.32 145.17 L444.86 145.43 L445.43 145.63 L446.01 145.80 L446.58 145.98 L447.16 146.15 L447.74 146.32 L448.31 146.49 L448.89 146.67 L449.47 146.84 L450.05 147.01 L450.64 147.10 L451.23 147.20 L451.83 147.29 L452.42 147.39 L453.02 147.48 L453.61 147.58 L454.21 147.67 L454.80 147.77 L455.40 147.80 L456.00 147.80 L456.61 147.80 L457.21 147.80 L457.81 147.80 L458.41 147.81 L459.01 147.81 L459.62 147.81 L460.22 147.81 L460.82 147.81 L461.42 147.81 L462.02 147.81 L462.63 147.81 L463.23 147.81 L463.83 147.81 L464.43 147.82 L465.03 147.82 L465.64 147.82 L466.24 147.82 L466.84 147.82 L467.44 147.82 L468.04 147.82 L468.65 147.82 L469.25 147.82 L469.85 147.82 L470.45 147.83 L471.05 147.83 L471.66 147.83 L472.26 147.83 L472.86 147.83 L473.46 147.83 L474.06 147.83 L474.67 147.83 L475.27 147.83 L475.87 147.83 L476.47 147.84 L477.07 147.84 L477.68 147.84 L478.28 147.84 L478.88 147.84 L479.48 147.84 L480.08 147.84 L480.69 147.84 L481.29 147.84 L481.89 147.84 L482.49 147.85 L483.09 147.85 L483.70 147.85 L484.30 147.85 L484.90 147.85 L485.50 147.85 L486.10 147.85 L486.71 147.85 L487.31 147.85 L487.91 147.85 L488.51 147.86 L489.11 147.86 L489.72 147.86 L490.32 147.86 L490.92 147.86 L491.52 147.86 L492.12 147.86 L492.73 147.86 L493.33 147.86 L493.93 147.86 L494.53 147.87 L495.13 147.87 L495.74 147.87 L496.34 147.87 L496.94 147.87 L497.54 147.87 L498.14 147.87 L498.75 147.87 L499.35 147.87 L499.95 147.87 L500.55 147.88 L501.15 147.88 L501.76 147.88 L502.36 147.88 L502.96 147.88 L503.56 147.88 L504.16 147.88 L504.77 147.88 L505.37 147.88 L505.97 147.88 L506.57 147.89 L507.17 147.89 L507.78 147.89 L508.38 147.89 L508.98 147.89 L509.58 147.89 L510.18 147.89 L510.79 147.89 L511.39 147.89 L511.99 147.89 L512.59 147.90 L513.19 147.90 L513.80 147.90 L514.40 147.90 L515.00 147.90" fill="none" stroke="#555" stroke-width="1.1" stroke-linejoin="round" opacity="1"/>
<path d="M386.00 147.80 L386.60 147.75 L387.20 147.72 L387.80 147.68 L388.40 147.64 L389.00 147.60 L389.57 147.41 L390.15 147.25 L390.73 147.07 L391.24 146.88 L391.70 146.41 L392.16 146.00 L392.61 145.61 L393.06 145.18 L393.40 144.66 L393.75 144.21 L394.10 143.80 L394.45 143.24 L394.80 142.89 L395.15 142.26 L395.50 141.80 L395.76 141.50 L396.02 140.81 L396.29 140.08 L396.55 139.60 L396.81 139.20 L397.07 138.97 L397.33 137.95 L397.59 137.41 L397.85 137.18 L398.11 136.15 L398.34 135.75 L398.48 135.51 L398.62 134.84 L398.77 134.11 L398.91 133.72 L399.05 131.92 L399.19 132.70 L399.33 131.38 L399.48 130.51 L399.62 130.68 L399.76 130.28 L399.90 129.21 L400.04 128.34 L400.16 128.24 L400.28 127.62 L400.41 127.74 L400.53 126.84 L400.65 125.98 L400.78 125.88 L400.90 124.59 L401.02 123.60 L401.15 123.86 L401.27 123.27 L401.39 122.22 L401.52 121.28 L401.64 121.31 L401.76 118.99 L401.86 120.44 L401.94 119.72 L402.02 117.68 L402.10 118.24 L402.18 116.93 L402.26 117.54 L402.34 114.99 L402.42 115.18 L402.50 115.72 L402.58 115.44 L402.66 112.52 L402.74 113.09 L402.82 113.07 L402.90 111.82 L402.98 112.76 L403.06 110.22 L403.14 110.70 L403.22 109.13 L403.33 110.25 L403.44 108.66 L403.54 107.82 L403.65 106.29 L403.75 108.08 L403.86 106.84 L403.96 106.25 L404.07 105.92 L404.17 104.78 L404.28 103.49 L404.38 102.79 L404.49 102.20 L404.55 103.12 L404.61 100.54 L404.67 100.55 L404.72 100.14 L404.78 99.92 L404.84 99.57 L404.90 97.70 L404.95 96.76 L405.01 97.37 L405.07 97.62 L405.13 96.71 L405.18 95.73 L405.24 94.76 L405.30 94.59 L405.36 93.61 L405.41 93.76 L405.47 92.03 L405.53 92.08 L405.59 91.31 L405.64 91.17 L405.70 90.35 L405.76 91.38 L405.82 90.05 L405.87 89.45 L405.93 86.37 L405.99 86.96 L406.05 86.18 L406.10 86.38 L406.16 83.81 L406.22 85.63 L406.27 84.96 L406.32 82.70 L406.37 82.33 L406.42 81.85 L406.48 81.84 L406.53 81.66 L406.58 82.05 L406.63 79.88 L406.68 79.95 L406.73 78.93 L406.79 79.45 L406.84 78.14 L406.89 77.98 L406.94 75.67 L406.99 75.69 L407.05 74.66 L407.10 75.68 L407.20 74.49 L407.31 73.23 L407.42 72.54 L407.53 72.60 L407.64 71.18 L407.75 70.43 L407.86 70.82 L407.97 71.62 L408.08 69.13 L408.18 68.32 L408.29 67.30 L408.40 66.60 L408.51 67.31 L408.63 66.95 L408.74 65.77 L408.86 65.40 L408.98 64.66 L409.09 64.09 L409.21 62.33 L409.33 62.49 L409.44 62.30 L409.56 61.08 L409.67 60.71 L409.79 59.88 L409.86 59.62 L409.93 59.86 L410.00 58.38 L410.07 57.96 L410.14 58.04 L410.21 57.32 L410.28 57.46 L410.35 54.21 L410.41 55.68 L410.48 54.14 L410.55 53.98 L410.62 53.87 L410.69 53.45 L410.76 52.82 L410.83 51.60 L410.90 52.02 L410.97 50.10 L411.04 49.60 L411.11 49.67 L411.18 48.12 L411.26 49.43 L411.33 48.03 L411.40 48.24 L411.48 46.11 L411.55 45.26 L411.63 45.05 L411.70 44.85 L411.77 43.33 L411.85 43.41 L411.92 42.53 L412.01 43.08 L412.09 40.89 L412.18 41.49 L412.26 39.71 L412.35 38.90 L412.43 38.48 L412.52 37.55 L412.60 37.89 L412.69 37.91 L412.77 36.71 L412.86 36.44 L412.94 36.55 L413.05 35.00 L413.19 34.36 L413.33 33.45 L413.47 31.93 L413.61 33.01 L413.84 31.03 L414.24 33.17 L414.54 33.20 L414.66 34.59 L414.78 34.34 L414.90 34.40 L415.01 35.82 L415.13 35.77 L415.25 36.62 L415.37 37.37 L415.49 37.83 L415.61 38.38 L415.73 38.52 L415.86 39.56 L415.98 38.78 L416.11 40.76 L416.24 40.62 L416.36 42.83 L416.49 43.52 L416.58 41.86 L416.68 43.92 L416.78 44.32 L416.87 44.27 L416.97 45.97 L417.06 45.87 L417.16 45.55 L417.25 47.19 L417.35 47.87 L417.45 48.64 L417.54 48.30 L417.64 50.18 L417.73 50.86 L417.83 50.14 L417.92 51.07 L418.02 52.07 L418.13 52.32 L418.23 54.53 L418.34 54.05 L418.45 53.78 L418.55 54.53 L418.66 55.64 L418.76 57.87 L418.87 56.73 L418.97 57.54 L419.08 58.40 L419.18 58.61 L419.29 60.82 L419.40 59.45 L419.50 60.93 L419.54 61.12 L419.57 62.05 L419.61 61.39 L419.65 64.05 L419.68 63.33 L419.72 64.03 L419.76 63.96 L419.79 64.70 L419.83 66.21 L419.87 67.10 L419.90 67.54 L419.94 68.46 L419.98 68.71 L420.01 68.83 L420.05 70.00 L420.09 70.43 L420.12 70.54 L420.16 71.72 L420.20 72.71 L420.23 72.58 L420.27 72.76 L420.31 74.11 L420.34 75.54 L420.38 74.66 L420.42 75.35 L420.45 75.92 L420.49 77.47 L420.53 75.93 L420.56 78.07 L420.60 79.25 L420.63 78.44 L420.67 80.65 L420.71 80.59 L420.74 80.43 L420.78 81.55 L420.82 80.94 L420.85 82.22 L420.89 84.49 L420.93 83.19 L420.96 85.70 L421.00 84.95 L421.03 86.31 L421.06 86.24 L421.10 85.24 L421.13 87.01 L421.16 88.15 L421.19 87.81 L421.22 88.27 L421.26 90.07 L421.29 89.96 L421.32 89.83 L421.35 91.14 L421.38 92.82 L421.42 92.48 L421.45 94.07 L421.48 95.09 L421.51 94.64 L421.54 94.43 L421.58 94.91 L421.61 96.40 L421.64 97.63 L421.67 97.81 L421.70 98.60 L421.74 98.51 L421.77 99.63 L421.80 99.69 L421.84 100.39 L421.89 100.31 L421.93 100.72 L421.97 102.08 L422.01 102.24 L422.06 102.95 L422.10 104.69 L422.14 104.74 L422.18 107.46 L422.23 106.66 L422.27 106.17 L422.31 107.76 L422.35 108.06 L422.40 107.93 L422.44 109.79 L422.48 109.07 L422.53 108.07 L422.57 111.37 L422.61 110.98 L422.65 113.05 L422.70 112.16 L422.74 112.38 L422.78 114.90 L422.82 113.66 L422.87 115.15 L422.91 116.62 L422.95 116.29 L422.99 116.75 L423.18 117.45 L423.40 118.52 L423.62 117.94 L423.83 119.47 L424.05 120.00 L424.27 121.69 L424.48 120.53 L424.70 120.73 L424.91 122.31 L425.13 122.19 L425.35 123.15 L425.56 123.62 L425.80 124.75 L426.07 124.28 L426.34 125.12 L426.61 124.39 L426.87 125.80 L427.14 127.54 L427.41 127.00 L427.68 127.53 L427.95 127.85 L428.28 129.16 L428.62 129.47 L428.97 129.39 L429.31 130.65 L429.66 130.98 L430.00 131.66 L430.34 131.62 L430.69 132.98 L431.04 132.98 L431.46 133.22 L431.89 133.52 L432.31 134.04 L432.74 134.81 L433.16 134.88 L433.59 135.70 L434.01 135.98 L434.44 136.61 L434.86 136.88 L435.29 137.07 L435.84 136.78 L436.44 137.39 L437.04 137.58 L437.63 137.50 L438.22 137.70 L438.80 137.61 L439.38 137.80 L439.96 137.83 L440.54 138.51 L441.12 138.40 L441.68 138.46 L442.15 138.66 L442.62 139.29 L443.08 139.97 L443.55 140.16 L444.02 140.33 L444.49 141.06 L445.02 141.29 L445.61 141.33 L446.20 141.41 L446.79 141.58 L447.38 141.60 L447.93 141.83 L448.39 142.00 L448.84 142.69 L449.30 142.92 L449.75 143.51 L450.24 143.43 L450.77 143.99 L451.30 144.30 L451.82 144.47 L452.35 144.82 L452.88 145.13 L453.42 145.36 L453.99 145.51 L454.55 145.74 L455.11 146.01 L455.67 146.23 L456.24 146.36 L456.83 146.50 L457.41 146.65 L458.00 146.81 L458.58 146.90 L459.17 147.04 L459.75 147.20 L460.34 147.32 L460.93 147.46 L461.51 147.59 L462.10 147.70 L462.70 147.71 L463.30 147.74 L463.90 147.74 L464.51 147.76 L465.11 147.77 L465.71 147.79 L466.31 147.81 L466.91 147.82 L467.51 147.84 L468.11 147.85 L468.71 147.87 L469.31 147.88 L469.91 147.90 L470.51 147.90 L471.12 147.90 L471.72 147.90 L472.32 147.90 L472.92 147.90 L473.52 147.90 L474.12 147.90 L474.72 147.90 L475.32 147.90 L475.93 147.90 L476.53 147.90 L477.13 147.90 L477.73 147.90 L478.33 147.90 L478.93 147.90 L479.53 147.90 L480.13 147.90 L480.73 147.90 L481.34 147.90 L481.94 147.90 L482.54 147.90 L483.14 147.90 L483.74 147.90 L484.34 147.90 L484.94 147.90 L485.54 147.90 L486.14 147.90 L486.75 147.90 L487.35 147.90 L487.95 147.90 L488.55 147.90 L489.15 147.90 L489.75 147.90 L490.35 147.90 L490.95 147.90 L491.56 147.90 L492.16 147.90 L492.76 147.90 L493.36 147.90 L493.96 147.90 L494.56 147.90 L495.16 147.90 L495.76 147.90 L496.36 147.90 L496.97 147.90 L497.57 147.90 L498.17 147.90 L498.77 147.90 L499.37 147.90 L499.97 147.90 L500.57 147.90 L501.17 147.90 L501.77 147.90 L502.38 147.90 L502.98 147.90 L503.58 147.90 L504.18 147.90 L504.78 147.90 L505.38 147.90 L505.98 147.90 L506.58 147.90 L507.19 147.90 L507.79 147.90 L508.39 147.90 L508.99 147.90 L509.59 147.90 L510.19 147.90 L510.79 147.90 L511.39 147.90 L511.99 147.90 L512.60 147.90 L513.20 147.90 L513.80 147.90 L514.40 147.90 L515.00 147.90" fill="none" stroke="#000" stroke-width="2.0" stroke-linejoin="round" opacity="1"/>
<line x1="386.00" y1="23.50" x2="515.50" y2="23.50" stroke="#666" stroke-width="1.2"/>
<line x1="515.50" y1="23.50" x2="515.50" y2="147.90" stroke="#777" stroke-width="1.2"/>
<line x1="386.00" y1="23.00" x2="386.00" y2="147.90" stroke="#555" stroke-width="1.1"/>
<line x1="386.00" y1="147.90" x2="515.50" y2="147.90" stroke="#333" stroke-width="1.1"/>
<text x="408.3" y="175.3" font-size="11" style="stroke:#111;stroke-width:0.18;" fill="#111" textLength="73.7" lengthAdjust="spacingAndGlyphs">NKG2D Ligand</text>
<path d="M356.3 20.5 L359.5 14.5 L362.7 20.5Z" fill="#111"/>
<line x1="359.50" y1="20.50" x2="359.50" y2="29.50" stroke="#555" stroke-width="1.0"/>
<text transform="translate(363.8,130.5) rotate(-90)" x="0" y="0" font-size="10" fill="#111" stroke="#111" stroke-width="0.18" textLength="100.2" lengthAdjust="spacingAndGlyphs">Relative cell number</text>
<line x1="359.50" y1="133.50" x2="359.50" y2="147.60" stroke="#555" stroke-width="1.0"/>
<text x="34.9" y="198.3" font-size="16" style="font-weight:bold;" fill="#000">D</text>
<text x="82.8" y="198.2" font-size="11" style="stroke:#111;stroke-width:0.18;" fill="#111" textLength="36.1" lengthAdjust="spacingAndGlyphs">p24 Ag</text>
<text x="119.8" y="193.2" font-size="8.5" style="font-weight:bold;" fill="#111" textLength="5.8" lengthAdjust="spacingAndGlyphs">+</text>
<text x="17.7" y="214.2" font-size="6.4" style="stroke:#222;stroke-width:0.1;" fill="#222" textLength="11.2" lengthAdjust="spacingAndGlyphs">100</text>
<text x="21.4" y="238.8" font-size="6.4" style="stroke:#222;stroke-width:0.1;" fill="#222" textLength="7.5" lengthAdjust="spacingAndGlyphs">80</text>
<text x="21.4" y="263.3" font-size="6.4" style="stroke:#222;stroke-width:0.1;" fill="#222" textLength="7.5" lengthAdjust="spacingAndGlyphs">60</text>
<text x="21.4" y="287.9" font-size="6.4" style="stroke:#222;stroke-width:0.1;" fill="#222" textLength="7.5" lengthAdjust="spacingAndGlyphs">40</text>
<text x="21.4" y="312.5" font-size="6.4" style="stroke:#222;stroke-width:0.1;" fill="#222" textLength="7.5" lengthAdjust="spacingAndGlyphs">20</text>
<text x="25.2" y="336.3" font-size="6.4" style="stroke:#222;stroke-width:0.1;" fill="#222" textLength="3.7" lengthAdjust="spacingAndGlyphs">0</text>
<line x1="32.30" y1="211.90" x2="35.30" y2="211.90" stroke="#333" stroke-width="0.8"/>
<line x1="32.30" y1="236.50" x2="35.30" y2="236.50" stroke="#333" stroke-width="0.8"/>
<line x1="32.30" y1="261.00" x2="35.30" y2="261.00" stroke="#333" stroke-width="0.8"/>
<line x1="32.30" y1="285.60" x2="35.30" y2="285.60" stroke="#333" stroke-width="0.8"/>
<line x1="32.30" y1="310.20" x2="35.30" y2="310.20" stroke="#333" stroke-width="0.8"/>
<line x1="32.30" y1="334.00" x2="35.30" y2="334.00" stroke="#333" stroke-width="0.8"/>
<line x1="33.80" y1="218.05" x2="35.30" y2="218.05" stroke="#333" stroke-width="0.8"/>
<line x1="33.80" y1="224.20" x2="35.30" y2="224.20" stroke="#333" stroke-width="0.8"/>
<line x1="33.80" y1="230.35" x2="35.30" y2="230.35" stroke="#333" stroke-width="0.8"/>
<line x1="33.80" y1="242.62" x2="35.30" y2="242.62" stroke="#333" stroke-width="0.8"/>
<line x1="33.80" y1="248.75" x2="35.30" y2="248.75" stroke="#333" stroke-width="0.8"/>
<line x1="33.80" y1="254.88" x2="35.30" y2="254.88" stroke="#333" stroke-width="0.8"/>
<line x1="33.80" y1="267.15" x2="35.30" y2="267.15" stroke="#333" stroke-width="0.8"/>
<line x1="33.80" y1="273.30" x2="35.30" y2="273.30" stroke="#333" stroke-width="0.8"/>
<line x1="33.80" y1="279.45" x2="35.30" y2="279.45" stroke="#333" stroke-width="0.8"/>
<line x1="33.80" y1="291.75" x2="35.30" y2="291.75" stroke="#333" stroke-width="0.8"/>
<line x1="33.80" y1="297.90" x2="35.30" y2="297.90" stroke="#333" stroke-width="0.8"/>
<line x1="33.80" y1="304.05" x2="35.30" y2="304.05" stroke="#333" stroke-width="0.8"/>
<line x1="33.80" y1="316.15" x2="35.30" y2="316.15" stroke="#333" stroke-width="0.8"/>
<line x1="33.80" y1="322.10" x2="35.30" y2="322.10" stroke="#333" stroke-width="0.8"/>
<line x1="33.80" y1="328.05" x2="35.30" y2="328.05" stroke="#333" stroke-width="0.8"/>
<text x="48.6" y="346.1" font-size="6.2" style="stroke:#222;stroke-width:0.1;" fill="#222" textLength="3.2" lengthAdjust="spacingAndGlyphs">0</text>
<text x="59.5" y="346.1" font-size="6.2" fill="#222">10</text>
<text x="66.6" y="343.3" font-size="4.6" fill="#222">2</text>
<text x="91.9" y="346.1" font-size="6.2" fill="#222">10</text>
<text x="99.0" y="343.3" font-size="4.6" fill="#222">3</text>
<text x="123.5" y="346.1" font-size="6.2" fill="#222">10</text>
<text x="130.6" y="343.3" font-size="4.6" fill="#222">4</text>
<text x="153.3" y="346.1" font-size="6.2" fill="#222">10</text>
<text x="160.4" y="343.3" font-size="4.6" fill="#222">5</text>
<line x1="50.10" y1="334.00" x2="50.10" y2="336.50" stroke="#333" stroke-width="0.8"/>
<line x1="64.20" y1="334.00" x2="64.20" y2="336.50" stroke="#333" stroke-width="0.8"/>
<line x1="96.60" y1="334.00" x2="96.60" y2="336.50" stroke="#333" stroke-width="0.8"/>
<line x1="128.20" y1="334.00" x2="128.20" y2="336.50" stroke="#333" stroke-width="0.8"/>
<line x1="158.00" y1="334.00" x2="158.00" y2="336.50" stroke="#333" stroke-width="0.8"/>
<line x1="73.95" y1="334.00" x2="73.95" y2="335.50" stroke="#333" stroke-width="0.8"/>
<line x1="79.66" y1="334.00" x2="79.66" y2="335.50" stroke="#333" stroke-width="0.8"/>
<line x1="83.71" y1="334.00" x2="83.71" y2="335.50" stroke="#333" stroke-width="0.8"/>
<line x1="86.85" y1="334.00" x2="86.85" y2="335.50" stroke="#333" stroke-width="0.8"/>
<line x1="89.41" y1="334.00" x2="89.41" y2="335.50" stroke="#333" stroke-width="0.8"/>
<line x1="91.58" y1="334.00" x2="91.58" y2="335.50" stroke="#333" stroke-width="0.8"/>
<line x1="93.46" y1="334.00" x2="93.46" y2="335.50" stroke="#333" stroke-width="0.8"/>
<line x1="95.12" y1="334.00" x2="95.12" y2="335.50" stroke="#333" stroke-width="0.8"/>
<line x1="106.11" y1="334.00" x2="106.11" y2="335.50" stroke="#333" stroke-width="0.8"/>
<line x1="111.68" y1="334.00" x2="111.68" y2="335.50" stroke="#333" stroke-width="0.8"/>
<line x1="115.63" y1="334.00" x2="115.63" y2="335.50" stroke="#333" stroke-width="0.8"/>
<line x1="118.69" y1="334.00" x2="118.69" y2="335.50" stroke="#333" stroke-width="0.8"/>
<line x1="121.19" y1="334.00" x2="121.19" y2="335.50" stroke="#333" stroke-width="0.8"/>
<line x1="123.31" y1="334.00" x2="123.31" y2="335.50" stroke="#333" stroke-width="0.8"/>
<line x1="125.14" y1="334.00" x2="125.14" y2="335.50" stroke="#333" stroke-width="0.8"/>
<line x1="126.75" y1="334.00" x2="126.75" y2="335.50" stroke="#333" stroke-width="0.8"/>
<line x1="137.17" y1="334.00" x2="137.17" y2="335.50" stroke="#333" stroke-width="0.8"/>
<line x1="142.42" y1="334.00" x2="142.42" y2="335.50" stroke="#333" stroke-width="0.8"/>
<line x1="146.14" y1="334.00" x2="146.14" y2="335.50" stroke="#333" stroke-width="0.8"/>
<line x1="149.03" y1="334.00" x2="149.03" y2="335.50" stroke="#333" stroke-width="0.8"/>
<line x1="151.39" y1="334.00" x2="151.39" y2="335.50" stroke="#333" stroke-width="0.8"/>
<line x1="153.38" y1="334.00" x2="153.38" y2="335.50" stroke="#333" stroke-width="0.8"/>
<line x1="155.11" y1="334.00" x2="155.11" y2="335.50" stroke="#333" stroke-width="0.8"/>
<line x1="156.64" y1="334.00" x2="156.64" y2="335.50" stroke="#333" stroke-width="0.8"/>
<line x1="40.00" y1="334.00" x2="40.00" y2="335.50" stroke="#333" stroke-width="0.8"/>
<line x1="43.00" y1="334.00" x2="43.00" y2="335.50" stroke="#333" stroke-width="0.8"/>
<line x1="46.00" y1="334.00" x2="46.00" y2="335.50" stroke="#333" stroke-width="0.8"/>
<line x1="54.00" y1="334.00" x2="54.00" y2="335.50" stroke="#333" stroke-width="0.8"/>
<line x1="57.00" y1="334.00" x2="57.00" y2="335.50" stroke="#333" stroke-width="0.8"/>
<line x1="60.00" y1="334.00" x2="60.00" y2="335.50" stroke="#333" stroke-width="0.8"/>
<path d="M36.00 333.80 L36.52 333.48 L37.03 333.17 L37.55 332.87 L38.06 332.57 L38.58 332.24 L39.09 331.92 L39.61 331.60 L40.05 331.24 L40.44 330.83 L40.84 330.33 L41.24 329.80 L41.64 329.36 L42.03 329.06 L42.37 328.48 L42.72 327.83 L43.06 327.46 L43.40 326.87 L43.74 326.42 L44.09 325.94 L44.43 325.41 L44.77 325.06 L45.11 324.49 L45.46 323.93 L45.67 323.51 L45.80 322.99 L45.92 322.03 L46.04 321.65 L46.16 320.93 L46.29 320.48 L46.41 319.68 L46.53 319.34 L46.66 318.73 L46.78 318.09 L46.90 317.34 L47.03 316.89 L47.15 316.13 L47.27 315.47 L47.40 315.26 L47.52 314.33 L47.64 314.34 L47.77 313.63 L47.89 312.29 L48.01 312.34 L48.14 311.35 L48.26 311.09 L48.38 310.51 L48.51 309.27 L48.63 309.24 L48.75 308.64 L48.86 308.46 L48.95 307.12 L49.05 307.21 L49.15 305.95 L49.24 305.63 L49.34 304.84 L49.43 305.13 L49.53 304.20 L49.62 304.35 L49.72 303.04 L49.81 302.53 L49.91 301.93 L50.00 300.76 L50.10 300.38 L50.20 300.35 L50.29 299.06 L50.39 298.70 L50.48 298.02 L50.58 297.68 L50.67 296.69 L50.77 296.18 L50.86 295.75 L50.96 295.10 L51.05 294.12 L51.15 294.23 L51.25 292.75 L51.34 292.20 L51.44 291.57 L51.53 291.88 L51.63 290.75 L51.72 289.91 L51.82 289.25 L51.91 289.28 L51.98 288.09 L52.05 287.41 L52.13 287.56 L52.20 286.24 L52.27 285.99 L52.34 285.52 L52.41 284.75 L52.48 284.31 L52.55 284.27 L52.63 282.93 L52.70 282.03 L52.77 281.20 L52.84 281.26 L52.91 280.60 L52.98 280.25 L53.06 279.36 L53.13 278.76 L53.20 278.06 L53.27 277.55 L53.34 277.22 L53.41 276.41 L53.49 276.00 L53.56 276.12 L53.63 274.96 L53.70 273.54 L53.77 274.26 L53.84 273.11 L53.92 272.00 L53.99 272.14 L54.06 271.19 L54.13 270.34 L54.20 269.73 L54.26 268.99 L54.32 268.81 L54.38 268.62 L54.44 267.46 L54.50 267.16 L54.56 267.14 L54.62 265.31 L54.68 265.30 L54.74 264.47 L54.80 263.57 L54.86 262.99 L54.92 262.79 L54.98 262.37 L55.04 261.39 L55.11 261.02 L55.17 260.69 L55.23 259.92 L55.29 259.55 L55.36 258.79 L55.42 258.20 L55.48 258.14 L55.55 257.06 L55.61 256.26 L55.67 255.90 L55.74 254.65 L55.80 254.28 L55.86 254.13 L55.92 253.47 L55.99 253.24 L56.05 252.02 L56.11 250.84 L56.18 251.60 L56.24 250.66 L56.30 249.20 L56.37 249.58 L56.43 248.44 L56.49 247.10 L56.55 247.06 L56.62 246.43 L56.68 246.67 L56.74 245.12 L56.81 244.73 L56.87 244.13 L56.93 243.49 L57.00 242.67 L57.06 242.53 L57.12 242.27 L57.19 241.49 L57.25 240.27 L57.31 239.59 L57.38 239.50 L57.44 238.57 L57.50 238.00 L57.57 236.98 L57.63 237.83 L57.69 236.82 L57.76 235.47 L57.82 235.62 L57.88 235.20 L57.95 233.10 L58.01 233.24 L58.07 232.71 L58.14 232.52 L58.20 231.62 L58.26 230.97 L58.33 230.44 L58.39 230.61 L58.45 230.13 L58.52 228.46 L58.58 227.70 L58.64 228.55 L58.71 226.48 L58.77 226.05 L58.88 225.70 L59.02 225.29 L59.16 224.93 L59.30 224.09 L59.44 223.00 L59.59 222.96 L59.73 222.28 L59.87 222.34 L60.01 221.00 L60.15 219.89 L60.30 219.42 L60.44 219.83 L60.61 218.46 L60.81 217.26 L61.00 217.30 L61.20 216.97 L61.39 216.87 L61.59 215.42 L61.78 216.01 L61.96 216.63 L62.14 216.61 L62.33 217.39 L62.51 218.67 L62.64 218.06 L62.78 217.13 L62.91 216.33 L63.05 216.07 L63.18 214.97 L63.33 214.51 L63.66 214.71 L63.99 215.56 L64.32 216.03 L64.61 217.69 L64.68 217.10 L64.75 218.29 L64.83 218.90 L64.90 218.90 L64.97 220.04 L65.04 219.30 L65.11 220.80 L65.18 221.71 L65.26 221.00 L65.33 222.10 L65.40 223.58 L65.47 223.65 L65.52 223.92 L65.56 224.81 L65.60 225.34 L65.63 226.45 L65.67 226.94 L65.71 227.25 L65.75 227.69 L65.79 228.54 L65.82 229.69 L65.86 229.90 L65.90 230.62 L65.94 230.90 L65.97 231.05 L66.01 231.88 L66.05 233.03 L66.09 233.41 L66.12 233.61 L66.16 233.92 L66.20 235.21 L66.24 235.63 L66.27 236.23 L66.31 236.84 L66.35 237.69 L66.39 238.29 L66.42 239.16 L66.46 239.75 L66.50 240.51 L66.54 240.90 L66.58 241.04 L66.63 241.76 L66.67 242.58 L66.71 242.85 L66.75 243.80 L66.80 244.64 L66.84 244.46 L66.88 244.67 L66.92 246.46 L66.97 246.59 L67.01 247.47 L67.05 247.25 L67.09 249.08 L67.14 249.28 L67.18 249.53 L67.22 250.04 L67.26 250.83 L67.31 251.32 L67.35 251.87 L67.39 252.14 L67.42 253.69 L67.45 253.77 L67.48 254.42 L67.50 255.03 L67.53 254.65 L67.56 256.41 L67.58 256.66 L67.61 257.28 L67.64 258.03 L67.66 258.21 L67.69 259.54 L67.72 259.52 L67.75 260.04 L67.77 260.66 L67.80 261.67 L67.83 262.51 L67.85 262.57 L67.88 262.81 L67.91 264.44 L67.93 264.19 L67.96 265.69 L67.99 265.79 L68.02 266.14 L68.04 266.76 L68.07 267.81 L68.10 268.58 L68.12 268.74 L68.15 269.80 L68.18 270.86 L68.20 270.54 L68.23 270.77 L68.26 271.41 L68.28 271.88 L68.31 272.78 L68.34 273.35 L68.37 273.71 L68.39 275.05 L68.44 274.39 L68.49 275.51 L68.54 277.44 L68.59 277.65 L68.64 278.05 L68.69 278.62 L68.74 279.75 L68.79 279.85 L68.84 280.27 L68.89 280.34 L68.94 281.41 L68.99 281.74 L69.05 282.35 L69.10 282.95 L69.15 283.82 L69.20 284.30 L69.25 285.38 L69.30 285.10 L69.35 286.17 L69.40 287.58 L69.45 287.45 L69.50 288.51 L69.55 289.09 L69.60 289.76 L69.68 290.13 L69.76 289.88 L69.84 290.92 L69.91 291.47 L69.99 291.60 L70.07 292.63 L70.15 292.91 L70.22 293.34 L70.30 294.69 L70.38 295.19 L70.46 295.53 L70.53 296.02 L70.61 296.78 L70.69 297.43 L70.77 298.03 L70.84 298.77 L70.92 299.21 L71.00 300.13 L71.16 300.77 L71.33 301.28 L71.50 301.45 L71.67 302.04 L71.84 303.04 L72.01 303.37 L72.18 304.01 L72.35 303.63 L72.52 304.15 L72.69 305.88 L72.86 306.45 L73.03 307.41 L73.20 307.74 L73.37 308.14 L73.54 308.65 L73.69 308.76 L73.85 310.09 L74.00 310.20 L74.16 311.12 L74.31 311.61 L74.47 312.21 L74.62 312.97 L74.78 313.16 L74.93 313.78 L75.09 314.24 L75.24 314.95 L75.40 316.03 L75.56 316.12 L75.73 317.05 L75.91 317.54 L76.08 318.09 L76.25 318.67 L76.43 318.89 L76.60 319.73 L76.77 320.53 L76.95 320.70 L77.12 321.39 L77.29 321.86 L77.68 322.47 L78.09 322.72 L78.49 323.54 L78.89 323.72 L79.29 324.02 L79.70 324.88 L80.14 325.16 L80.71 325.30 L81.28 325.49 L81.85 325.58 L82.42 325.78 L83.00 326.07 L83.48 326.45 L83.96 326.81 L84.44 327.10 L84.92 327.40 L85.49 327.61 L86.07 327.87 L86.65 328.05 L87.23 328.07 L87.81 328.22 L88.35 328.60 L88.87 328.87 L89.38 329.17 L89.90 329.36 L90.46 329.63 L91.03 329.82 L91.60 330.04 L92.17 330.14 L92.75 330.47 L93.30 330.66 L93.84 330.94 L94.38 331.15 L94.91 331.46 L95.46 331.74 L96.02 331.90 L96.57 332.18 L97.12 332.42 L97.68 332.64 L98.23 332.89 L98.81 333.03 L99.40 333.12 L100.00 333.19 L100.60 333.26 L101.20 333.34 L101.79 333.41 L102.39 333.48 L102.99 333.55 L103.59 333.62 L104.18 333.70 L104.78 333.77 L105.38 333.80 L105.98 333.80 L106.59 333.80 L107.19 333.80 L107.79 333.80 L108.39 333.80 L108.99 333.80 L109.60 333.80 L110.20 333.80 L110.80 333.80 L111.40 333.80 L112.00 333.80 L112.61 333.80 L113.21 333.80 L113.81 333.80 L114.41 333.80 L115.01 333.80 L115.62 333.80 L116.22 333.80 L116.82 333.80 L117.42 333.80 L118.02 333.80 L118.63 333.80 L119.23 333.80 L119.83 333.80 L120.43 333.80 L121.03 333.80 L121.64 333.80 L122.24 333.80 L122.84 333.80 L123.44 333.80 L124.04 333.80 L124.65 333.80 L125.25 333.80 L125.85 333.80 L126.45 333.80 L127.05 333.80 L127.66 333.80 L128.26 333.80 L128.86 333.80 L129.46 333.80 L130.06 333.80 L130.67 333.80 L131.27 333.80 L131.87 333.80 L132.47 333.80 L133.07 333.80 L133.68 333.80 L134.28 333.80 L134.88 333.80 L135.48 333.80 L136.08 333.80 L136.69 333.80 L137.29 333.80 L137.89 333.80 L138.49 333.80 L139.09 333.80 L139.70 333.80 L140.30 333.80 L140.90 333.80 L141.50 333.80 L142.10 333.80 L142.71 333.80 L143.31 333.80 L143.91 333.80 L144.51 333.80 L145.11 333.80 L145.72 333.80 L146.32 333.80 L146.92 333.80 L147.52 333.80 L148.12 333.80 L148.73 333.80 L149.33 333.80 L149.93 333.80 L150.53 333.80 L151.13 333.80 L151.74 333.80 L152.34 333.80 L152.94 333.80 L153.54 333.80 L154.14 333.80 L154.75 333.80 L155.35 333.80 L155.95 333.80 L156.55 333.80 L157.15 333.80 L157.76 333.80 L158.36 333.80 L158.96 333.80 L159.56 333.80 L160.16 333.80 L160.77 333.80 L161.37 333.80 L161.97 333.80 L162.57 333.80 L163.17 333.80 L163.78 333.80 L164.38 333.80 L164.98 333.80 L165.58 333.80 L166.18 333.80 L166.79 333.80 L167.39 333.80 L167.99 333.80 L168.59 333.80 L169.19 333.80 L169.80 333.80 L170.40 333.80 L171.00 333.80" fill="none" stroke="#222" stroke-width="0.9" stroke-linejoin="round" opacity="1"/>
<path d="M36.00 334.00 L36.70 333.98 L37.40 333.94 L38.11 333.93 L38.81 333.91 L39.51 333.90 L40.21 333.87 L40.91 333.86 L41.61 333.82 L42.31 333.73 L42.98 333.54 L43.66 333.30 L44.34 333.12 L45.02 333.02 L45.56 332.48 L46.11 332.32 L46.66 331.93 L47.21 331.66 L47.68 330.71 L48.05 330.59 L48.42 329.18 L48.79 328.57 L49.16 328.38 L49.54 327.89 L49.91 326.20 L50.31 325.46 L50.72 326.25 L51.13 324.79 L51.54 325.82 L51.95 324.62 L52.33 323.98 L52.56 323.24 L52.79 323.28 L53.02 321.55 L53.25 322.27 L53.48 319.77 L53.71 319.45 L53.94 318.18 L54.17 319.21 L54.40 317.78 L54.63 315.80 L54.86 319.46 L55.10 315.17 L55.36 314.90 L55.62 315.11 L55.88 316.85 L56.14 312.87 L56.41 313.80 L56.67 312.03 L56.93 308.29 L57.19 312.14 L57.45 312.01 L57.71 308.71 L57.97 308.54 L58.14 304.50 L58.31 303.68 L58.47 305.60 L58.63 307.37 L58.79 303.99 L58.96 305.23 L59.12 306.31 L59.28 303.36 L59.45 303.92 L59.61 305.51 L59.77 297.82 L59.93 302.32 L60.10 294.80 L60.26 300.14 L60.42 298.86 L60.60 296.24 L60.78 294.17 L60.96 296.14 L61.15 294.55 L61.33 295.20 L61.52 291.90 L61.70 295.00 L61.89 290.22 L62.07 291.44 L62.26 290.53 L62.44 294.17 L62.63 286.31 L62.81 288.45 L62.94 291.91 L63.01 286.42 L63.07 284.21 L63.14 287.47 L63.21 285.28 L63.28 287.51 L63.35 282.25 L63.42 284.44 L63.49 284.97 L63.56 285.24 L63.63 278.97 L63.70 284.85 L63.77 278.11 L63.84 275.82 L63.90 276.57 L63.97 278.75 L64.04 276.82 L64.11 278.10 L64.18 277.54 L64.25 276.38 L64.32 274.19 L64.39 278.87 L64.46 267.70 L64.53 268.25 L64.60 270.74 L64.67 268.10 L64.73 264.02 L64.80 267.90 L64.88 267.32 L64.96 262.20 L65.04 270.10 L65.12 270.55 L65.20 269.68 L65.27 264.46 L65.35 265.46 L65.43 261.47 L65.51 264.22 L65.59 261.23 L65.67 263.35 L65.74 260.70 L65.82 263.58 L65.90 262.34 L65.97 262.72 L66.05 254.62 L66.12 253.37 L66.20 258.45 L66.27 255.20 L66.35 257.04 L66.43 256.08 L66.50 255.08 L66.58 256.30 L66.65 254.66 L66.73 253.74 L66.80 249.49 L66.88 255.60 L66.95 250.75 L67.03 252.60 L67.10 249.87 L67.17 251.62 L67.24 248.02 L67.31 247.49 L67.38 246.59 L67.45 243.69 L67.52 243.34 L67.59 243.75 L67.66 243.13 L67.73 240.18 L67.80 248.16 L67.87 238.79 L67.94 239.84 L68.01 246.30 L68.13 237.53 L68.26 240.55 L68.38 239.58 L68.50 236.63 L68.63 232.77 L68.75 231.75 L68.87 235.08 L69.00 235.50 L69.27 228.15 L69.54 233.51 L69.81 230.76 L70.05 234.52 L70.22 233.33 L70.39 231.47 L70.56 233.14 L70.73 235.04 L70.90 239.11 L71.04 243.65 L71.12 235.97 L71.21 234.66 L71.30 235.48 L71.38 233.05 L71.47 234.08 L71.56 232.75 L71.65 231.06 L71.73 228.30 L71.82 230.09 L71.91 231.33 L71.99 228.48 L72.09 231.53 L72.18 229.35 L72.28 225.87 L72.37 230.04 L72.47 221.90 L72.56 227.18 L72.65 228.27 L72.75 222.09 L72.84 221.79 L72.94 223.80 L73.03 224.40 L73.13 221.14 L73.22 219.92 L73.32 220.99 L73.41 218.59 L73.50 214.08 L73.60 216.04 L73.69 215.79 L73.79 211.24 L73.88 215.48 L74.17 212.88 L74.50 217.36 L74.83 212.18 L75.16 214.30 L75.49 213.50 L75.74 221.28 L75.99 221.91 L76.23 223.08 L76.48 223.75 L76.73 222.93 L76.97 223.56 L77.13 216.28 L77.28 220.87 L77.42 218.02 L77.57 217.80 L77.72 214.76 L77.87 220.68 L78.01 216.99 L78.16 212.03 L78.31 216.53 L78.45 214.29 L78.83 211.89 L79.32 214.30 L79.80 213.55 L80.29 210.08 L80.43 212.70 L80.47 218.66 L80.51 218.91 L80.56 219.39 L80.60 216.31 L80.64 218.49 L80.68 220.91 L80.72 223.24 L80.76 219.95 L80.81 220.09 L80.85 226.51 L80.89 224.42 L80.93 223.96 L80.97 223.72 L81.01 224.64 L81.05 231.17 L81.10 230.27 L81.14 227.37 L81.18 225.89 L81.26 234.20 L81.38 234.62 L81.50 234.36 L81.62 234.11 L81.74 227.71 L81.86 229.95 L81.98 235.47 L82.10 233.95 L82.22 236.05 L82.34 234.71 L82.46 235.06 L82.58 238.90 L82.70 237.11 L82.82 238.84 L82.94 240.20 L83.05 240.83 L83.17 243.94 L83.28 245.17 L83.39 238.75 L83.51 242.30 L83.62 242.01 L83.74 246.35 L83.85 242.30 L83.96 247.78 L84.12 248.27 L84.30 248.63 L84.47 245.28 L84.65 247.93 L84.83 246.36 L85.00 250.88 L85.18 253.01 L85.35 246.82 L85.52 247.94 L85.69 248.99 L85.85 247.35 L86.02 251.93 L86.19 246.99 L86.35 247.34 L86.52 243.11 L86.69 249.33 L86.85 245.07 L87.02 245.97 L87.19 243.50 L87.35 237.08 L87.53 237.76 L87.82 237.92 L88.10 241.86 L88.39 238.66 L88.67 240.46 L88.95 239.45 L89.24 238.71 L89.45 240.38 L89.57 239.16 L89.69 235.11 L89.81 238.30 L89.93 245.08 L90.05 238.67 L90.17 245.69 L90.28 247.14 L90.40 241.99 L90.52 245.12 L90.64 241.27 L90.76 247.62 L90.88 244.28 L91.00 243.59 L91.14 245.30 L91.27 244.44 L91.41 243.42 L91.55 244.76 L91.68 243.12 L91.82 241.15 L91.96 244.65 L92.09 247.79 L92.23 240.98 L92.37 238.29 L92.50 236.85 L92.64 240.27 L92.78 237.39 L92.91 237.40 L93.05 231.49 L93.19 233.04 L93.32 232.28 L93.46 237.06 L93.59 234.18 L93.72 229.11 L93.84 237.52 L93.97 239.90 L94.10 241.04 L94.22 231.05 L94.35 239.42 L94.48 241.83 L94.60 241.98 L94.73 240.48 L94.86 237.11 L94.99 241.35 L95.11 242.33 L95.24 245.35 L95.37 246.21 L95.49 244.61 L95.62 248.14 L95.75 243.88 L95.87 245.54 L96.00 247.92 L96.15 250.18 L96.29 248.54 L96.44 253.26 L96.59 251.82 L96.73 248.97 L96.88 252.35 L97.03 250.50 L97.17 251.00 L97.32 250.47 L97.47 258.51 L97.62 257.92 L97.76 252.08 L97.91 259.83 L98.06 260.12 L98.20 257.36 L98.35 260.31 L98.50 265.52 L98.61 261.12 L98.72 262.16 L98.84 264.68 L98.95 259.76 L99.06 259.85 L99.18 260.17 L99.29 264.33 L99.40 267.49 L99.51 263.68 L99.63 263.05 L99.74 267.87 L99.85 267.09 L99.97 270.33 L100.08 269.13 L100.19 269.69 L100.31 270.65 L100.42 271.66 L100.53 269.76 L100.65 270.03 L100.76 277.78 L100.87 282.38 L101.07 277.94 L101.29 271.46 L101.51 276.44 L101.73 280.12 L101.96 273.49 L102.18 277.10 L102.40 277.97 L102.62 277.32 L102.85 278.20 L103.07 283.68 L103.29 280.53 L103.51 281.79 L103.73 287.51 L103.96 281.50 L104.18 279.40 L104.40 286.73 L104.62 290.95 L104.84 286.93 L105.07 287.84 L105.29 284.36 L105.51 285.94 L105.73 292.85 L105.95 292.98 L106.18 291.90 L106.40 289.36 L106.62 288.59 L106.84 289.63 L107.06 289.96 L107.29 295.26 L107.51 292.28 L107.73 293.69 L107.95 297.44 L108.17 298.05 L108.40 297.08 L108.62 298.85 L108.84 298.28 L109.06 293.88 L109.28 299.37 L109.51 299.13 L109.73 299.97 L109.95 302.19 L110.17 300.75 L110.40 306.08 L110.62 303.11 L110.81 304.66 L110.98 305.75 L111.15 305.17 L111.32 307.83 L111.49 308.73 L111.66 309.08 L111.84 306.73 L112.01 307.02 L112.18 308.38 L112.35 310.34 L112.52 307.28 L112.69 310.05 L112.86 310.20 L113.04 311.82 L113.21 312.10 L113.38 315.79 L113.55 315.82 L113.72 317.28 L113.89 314.95 L114.06 315.99 L114.24 317.40 L114.41 320.72 L114.73 321.29 L115.04 319.00 L115.36 321.13 L115.67 323.44 L115.98 320.55 L116.30 322.09 L116.61 324.16 L116.93 324.20 L117.24 323.32 L117.55 326.01 L117.87 326.16 L118.18 326.54 L118.50 325.90 L118.81 327.22 L119.12 328.64 L119.56 328.69 L120.16 329.18 L120.76 329.08 L121.36 330.13 L121.97 329.83 L122.57 330.58 L123.17 330.74 L123.77 330.76 L124.37 331.71 L124.97 331.49 L125.59 331.94 L126.25 332.30 L126.92 332.31 L127.59 332.51 L128.26 332.92 L128.92 333.12 L129.59 333.35 L130.27 333.52 L130.98 333.61 L131.68 333.50 L132.38 333.63 L133.08 333.55 L133.78 333.54 L134.49 333.45 L135.19 333.50 L135.89 333.58 L136.59 333.60 L137.30 333.56 L138.00 333.61 L138.70 333.64 L139.40 333.59 L140.10 333.57 L140.81 333.60 L141.51 333.63 L142.21 333.66 L142.91 333.68 L143.61 333.64 L144.32 333.67 L145.02 333.67 L145.72 333.69 L146.42 333.73 L147.13 333.74 L147.83 333.70 L148.53 333.71 L149.23 333.72 L149.93 333.73 L150.64 333.74 L151.34 333.76 L152.04 333.76 L152.74 333.76 L153.45 333.76 L154.15 333.79 L154.85 333.84 L155.55 333.82 L156.25 333.83 L156.96 333.83 L157.66 333.83 L158.36 333.87 L159.06 333.85 L159.77 333.85 L160.47 333.86 L161.17 333.88 L161.87 333.88 L162.57 333.89 L163.28 333.90 L163.98 333.90 L164.68 333.92 L165.38 333.92 L166.08 333.95 L166.79 333.94 L167.49 333.95 L168.19 333.97 L168.89 333.98 L169.60 333.98 L170.30 333.99 L171.00 334.00" fill="none" stroke="#000" stroke-width="2.2" stroke-linejoin="round" opacity="1"/>
<line x1="35.30" y1="206.00" x2="171.00" y2="206.00" stroke="#555" stroke-width="1.2"/>
<line x1="171.00" y1="206.00" x2="171.00" y2="334.00" stroke="#888" stroke-width="1.2"/>
<line x1="35.30" y1="205.50" x2="35.30" y2="334.00" stroke="#444" stroke-width="1.2"/>
<line x1="35.30" y1="334.00" x2="171.00" y2="334.00" stroke="#333" stroke-width="1.2"/>
<text x="63.3" y="363.3" font-size="11" style="stroke:#111;stroke-width:0.18;" fill="#111" textLength="76.8" lengthAdjust="spacingAndGlyphs">NKG2D Ligand</text>
<path d="M4.8 207.7 L8.0 202.1 L11.2 207.7Z" fill="#111"/>
<line x1="8.00" y1="207.70" x2="8.00" y2="217.10" stroke="#555" stroke-width="1.0"/>
<text transform="translate(12.0,321.5) rotate(-90)" x="0" y="0" font-size="10" fill="#111" stroke="#111" stroke-width="0.18" textLength="103.5" lengthAdjust="spacingAndGlyphs">Relative cell number</text>
<line x1="8.00" y1="325.40" x2="8.00" y2="339.00" stroke="#555" stroke-width="1.0"/>
<text x="214.9" y="198.8" font-size="16" style="font-weight:bold;" fill="#000">E</text>
<line x1="254.80" y1="205.70" x2="254.80" y2="334.20" stroke="#444" stroke-width="1"/>
<line x1="218.50" y1="301.00" x2="341.00" y2="301.00" stroke="#444" stroke-width="1"/>
<path d="M275 220.5h1M273 227.5h1M266 236.5h1M278 241.5h1M283 241.5h1M279 242.5h1M276 243.5h1M275 247.5h1M285 247.5h1M269 248.5h1M276 248.5h1M280 248.5h1M267 250.5h1M270 250.5h1M277 250.5h1M270 251.5h1M267 253.5h1M277 253.5h1M283 253.5h1M272 254.5h2M276 254.5h1M262 255.5h1M266 255.5h1M272 255.5h3M279 255.5h1M278 256.5h1M282 256.5h1M267 257.5h1M270 257.5h1M272 257.5h1M281 257.5h1M267 258.5h1M269 258.5h1M273 258.5h1M280 258.5h1M269 259.5h1M269 260.5h2M279 260.5h3M266 261.5h1M272 261.5h1M275 261.5h2M287 261.5h1M260 262.5h1M274 262.5h1M278 262.5h1M264 263.5h1M266 263.5h1M281 263.5h1M259 264.5h1M262 264.5h1M264 264.5h1M268 264.5h1M274 264.5h1M280 264.5h1M248 265.5h1M252 265.5h1M264 265.5h4M269 265.5h1M272 265.5h1M276 265.5h1M255 266.5h1M264 266.5h1M266 266.5h1M269 266.5h3M280 266.5h2M297 266.5h1M264 267.5h1M268 267.5h3M278 267.5h1M284 267.5h1M252 268.5h1M254 268.5h1M261 268.5h1M264 268.5h1M266 268.5h2M269 268.5h1M272 268.5h1M277 268.5h1M280 268.5h2M228 269.5h1M253 269.5h1M267 269.5h1M270 269.5h1M275 269.5h1M240 270.5h1M259 270.5h2M264 270.5h1M267 270.5h1M269 270.5h1M271 270.5h1M275 270.5h2M278 270.5h2M284 270.5h1M229 271.5h1M254 271.5h1M261 271.5h1M268 271.5h1M271 271.5h1M276 271.5h1M279 271.5h2M283 271.5h1M236 272.5h1M254 272.5h1M259 272.5h1M262 272.5h3M275 272.5h1M277 272.5h1M283 272.5h2M235 273.5h1M242 273.5h1M246 273.5h1M256 273.5h2M259 273.5h4M265 273.5h3M271 273.5h3M277 273.5h1M279 273.5h1M285 273.5h1M223 274.5h1M232 274.5h1M235 274.5h1M241 274.5h1M243 274.5h1M245 274.5h1M251 274.5h1M259 274.5h1M262 274.5h3M267 274.5h4M274 274.5h2M277 274.5h1M232 275.5h2M235 275.5h1M237 275.5h1M243 275.5h1M249 275.5h1M254 275.5h1M260 275.5h1M263 275.5h3M267 275.5h1M272 275.5h1M276 275.5h1M278 275.5h2M282 275.5h1M285 275.5h1M226 276.5h1M232 276.5h2M238 276.5h1M241 276.5h1M246 276.5h1M248 276.5h1M256 276.5h1M259 276.5h1M261 276.5h1M263 276.5h1M269 276.5h1M273 276.5h1M278 276.5h1M280 276.5h1M234 277.5h1M237 277.5h1M239 277.5h1M241 277.5h2M244 277.5h2M252 277.5h3M257 277.5h1M261 277.5h1M263 277.5h1M266 277.5h1M269 277.5h1M273 277.5h1M276 277.5h1M279 277.5h4M226 278.5h1M233 278.5h4M238 278.5h1M240 278.5h1M243 278.5h2M248 278.5h2M252 278.5h1M254 278.5h2M264 278.5h1M266 278.5h1M268 278.5h1M276 278.5h1M279 278.5h1M221 279.5h1M230 279.5h1M234 279.5h1M239 279.5h4M244 279.5h1M247 279.5h1M249 279.5h1M255 279.5h3M259 279.5h3M263 279.5h1M266 279.5h2M269 279.5h1M272 279.5h1M277 279.5h1M280 279.5h1M283 279.5h1M237 280.5h1M240 280.5h1M242 280.5h1M244 280.5h1M248 280.5h2M251 280.5h1M256 280.5h2M261 280.5h1M263 280.5h2M272 280.5h1M282 280.5h1M226 281.5h1M230 281.5h1M233 281.5h4M239 281.5h1M242 281.5h3M248 281.5h1M251 281.5h1M254 281.5h1M262 281.5h3M270 281.5h1M276 281.5h4M222 282.5h2M226 282.5h1M229 282.5h1M234 282.5h2M238 282.5h1M240 282.5h3M247 282.5h1M249 282.5h1M251 282.5h1M261 282.5h2M267 282.5h1M269 282.5h1M274 282.5h1M276 282.5h2M279 282.5h2M282 282.5h1M220 283.5h1M228 283.5h1M231 283.5h1M234 283.5h4M239 283.5h2M243 283.5h1M247 283.5h3M254 283.5h1M259 283.5h2M287 283.5h1M225 284.5h2M229 284.5h2M232 284.5h1M235 284.5h2M238 284.5h3M243 284.5h1M246 284.5h1M249 284.5h1M251 284.5h1M254 284.5h1M256 284.5h1M262 284.5h1M268 284.5h1M270 284.5h1M272 284.5h1M275 284.5h3M279 284.5h1M221 285.5h1M223 285.5h1M226 285.5h2M231 285.5h1M234 285.5h1M239 285.5h1M241 285.5h1M248 285.5h1M251 285.5h1M254 285.5h1M256 285.5h2M262 285.5h2M266 285.5h1M271 285.5h1M273 285.5h1M277 285.5h1M279 285.5h2M282 285.5h1M221 286.5h3M227 286.5h1M230 286.5h2M236 286.5h2M239 286.5h1M241 286.5h1M246 286.5h1M251 286.5h1M253 286.5h1M255 286.5h2M259 286.5h2M273 286.5h1M275 286.5h1M277 286.5h1M282 286.5h1M227 287.5h1M235 287.5h2M240 287.5h1M243 287.5h1M245 287.5h1M256 287.5h2M259 287.5h2M275 287.5h2M221 288.5h1M230 288.5h2M233 288.5h2M237 288.5h1M240 288.5h1M242 288.5h1M244 288.5h1M246 288.5h1M248 288.5h1M251 288.5h1M253 288.5h2M256 288.5h1M261 288.5h1M272 288.5h1M274 288.5h1M221 289.5h4M226 289.5h2M233 289.5h1M236 289.5h1M238 289.5h1M246 289.5h1M249 289.5h1M251 289.5h1M255 289.5h2M261 289.5h2M271 289.5h1M275 289.5h1M288 289.5h1M223 290.5h1M232 290.5h1M237 290.5h2M245 290.5h1M252 290.5h1M254 290.5h1M257 290.5h2M260 290.5h1M273 290.5h2M277 290.5h1M281 290.5h2M220 291.5h1M224 291.5h4M229 291.5h1M231 291.5h1M233 291.5h1M235 291.5h1M237 291.5h1M241 291.5h2M244 291.5h1M247 291.5h2M252 291.5h1M254 291.5h2M257 291.5h3M265 291.5h1M271 291.5h1M292 291.5h1M222 292.5h1M228 292.5h3M232 292.5h2M235 292.5h1M244 292.5h1M246 292.5h4M261 292.5h1M263 292.5h1M265 292.5h2M271 292.5h2M276 292.5h1M226 293.5h3M234 293.5h1M236 293.5h1M238 293.5h2M248 293.5h1M252 293.5h1M278 293.5h1M282 293.5h1M225 294.5h1M229 294.5h1M247 294.5h3M254 294.5h1M275 294.5h1M280 294.5h1M286 294.5h1M222 295.5h1M224 295.5h1M226 295.5h1M228 295.5h2M245 295.5h1M247 295.5h1M251 295.5h2M254 295.5h1M274 295.5h1M277 295.5h1M220 296.5h2M224 296.5h1M226 296.5h1M230 296.5h1M233 296.5h1M236 296.5h1M238 296.5h1M249 296.5h1M251 296.5h1M253 296.5h2M259 296.5h1M261 296.5h1M270 296.5h1M273 296.5h2M279 296.5h1M284 296.5h1M225 297.5h8M243 297.5h2M254 297.5h1M259 297.5h1M264 297.5h1M279 297.5h2M220 298.5h1M231 298.5h1M238 298.5h3M254 298.5h1M258 298.5h2M275 298.5h1M277 298.5h1M281 298.5h1M284 298.5h1M219 299.5h1M226 299.5h2M232 299.5h1M243 299.5h1M246 299.5h1M252 299.5h1M256 299.5h2M261 299.5h2M266 299.5h1M274 299.5h1M276 299.5h3M285 299.5h1M230 300.5h1M240 300.5h1M248 300.5h1M253 300.5h2M257 300.5h1M261 300.5h3M267 300.5h1M275 300.5h1M222 301.5h1M229 301.5h1M231 301.5h1M236 301.5h1M240 301.5h2M243 301.5h1M246 301.5h1M250 301.5h1M253 301.5h1M256 301.5h1M258 301.5h1M266 301.5h1M221 302.5h2M224 302.5h1M234 302.5h2M241 302.5h1M245 302.5h2M252 302.5h1M262 302.5h1M264 302.5h1M270 302.5h1M273 302.5h1M219 303.5h1M221 303.5h1M224 303.5h1M229 303.5h1M231 303.5h1M233 303.5h2M244 303.5h2M251 303.5h1M256 303.5h1M259 303.5h1M277 303.5h1M280 303.5h1M284 303.5h1M286 303.5h1M223 304.5h2M226 304.5h1M251 304.5h1M258 304.5h2M262 304.5h1M280 304.5h1M221 305.5h3M236 305.5h1M267 305.5h2M274 305.5h2M280 305.5h1M219 306.5h1M221 306.5h1M223 306.5h1M254 306.5h1M260 306.5h1M270 306.5h1M276 306.5h2M280 306.5h1M219 307.5h1M222 307.5h1M227 307.5h1M229 307.5h1M235 307.5h1M255 307.5h1M264 307.5h1M269 307.5h1M275 307.5h1M277 307.5h1M220 308.5h1M222 308.5h1M225 308.5h1M250 308.5h1M253 308.5h1M262 308.5h1M264 308.5h1M270 308.5h1M273 308.5h1M275 308.5h1M279 308.5h1M219 309.5h3M224 309.5h1M263 309.5h2M267 309.5h1M270 309.5h1M273 309.5h2M276 309.5h2M283 309.5h1M219 310.5h1M222 310.5h1M225 310.5h1M263 310.5h1M265 310.5h2M269 310.5h2M273 310.5h1M220 311.5h1M255 311.5h1M260 311.5h1M262 311.5h1M272 311.5h2M275 311.5h1M220 312.5h1M254 312.5h1M261 312.5h2M270 312.5h1M273 312.5h2M219 313.5h1M221 313.5h1M227 313.5h1M256 313.5h1M270 313.5h1M274 313.5h1M277 313.5h1M219 314.5h1M271 314.5h1M276 314.5h1M278 314.5h1M281 314.5h1M221 315.5h1M260 315.5h2M265 315.5h2M268 315.5h2M271 315.5h1M275 315.5h1M219 316.5h2M263 316.5h1M269 316.5h2M272 316.5h1M279 316.5h1M223 317.5h1M268 317.5h1M270 317.5h5M315 317.5h1M219 318.5h1M261 318.5h1M269 318.5h1M273 318.5h1M278 318.5h1M280 318.5h1M220 319.5h1M270 319.5h3M219 320.5h2M258 320.5h1M272 320.5h1M275 320.5h2M279 320.5h1M221 321.5h1M263 321.5h1M272 321.5h1M274 321.5h1M277 321.5h1M279 321.5h1M318 321.5h1M219 322.5h1M221 322.5h1M265 322.5h1M267 322.5h2M273 322.5h1M277 322.5h1M291 322.5h1M265 323.5h1M268 323.5h1M272 323.5h1M274 323.5h1M278 323.5h1M292 323.5h1M270 324.5h1M272 324.5h1M275 324.5h1M278 324.5h1M286 324.5h1M267 325.5h1M271 325.5h1M277 325.5h1M279 325.5h1M265 326.5h1M267 326.5h1M271 326.5h3M275 326.5h3M279 326.5h1M282 326.5h1M222 327.5h1M265 327.5h1M272 327.5h5M278 327.5h1M282 327.5h1M222 328.5h1M268 328.5h2M271 328.5h4M283 328.5h1M225 329.5h1M256 329.5h1M268 329.5h1M270 329.5h1M272 329.5h1M276 329.5h2M279 329.5h1M220 330.5h1M268 330.5h1M271 330.5h1M280 330.5h2M222 331.5h1M227 331.5h1M267 331.5h1M275 331.5h3M282 331.5h1M219 332.5h1M261 332.5h1M269 332.5h1M273 332.5h3M278 332.5h2M281 332.5h1M292 332.5h1M220 333.5h1M223 333.5h1M254 333.5h1M264 333.5h1M267 333.5h1M270 333.5h1M272 333.5h1" stroke="#666" stroke-width="1" fill="none"/>
<path d="M276 250.5h1M271 256.5h1M268 257.5h1M270 261.5h1M269 262.5h2M269 263.5h1M271 263.5h1M271 264.5h1M268 265.5h1M274 265.5h1M272 266.5h1M274 266.5h1M275 267.5h1M279 267.5h1M265 268.5h1M271 268.5h1M266 269.5h1M268 269.5h1M271 269.5h1M272 271.5h2M275 271.5h1M277 271.5h1M248 272.5h1M265 272.5h1M267 272.5h2M272 272.5h1M280 272.5h1M275 273.5h1M281 273.5h1M237 274.5h1M239 274.5h1M248 274.5h1M252 274.5h2M276 274.5h1M278 274.5h1M250 275.5h1M258 275.5h1M262 275.5h1M266 275.5h1M268 275.5h2M273 275.5h1M275 275.5h1M245 276.5h1M264 276.5h1M266 276.5h1M268 276.5h1M271 276.5h1M275 276.5h2M236 277.5h1M264 277.5h2M272 277.5h1M274 277.5h1M278 277.5h1M237 278.5h1M242 278.5h1M260 278.5h1M267 278.5h1M269 278.5h1M277 278.5h1M236 279.5h1M250 279.5h1M253 279.5h1M258 279.5h1M264 279.5h1M270 279.5h1M252 280.5h1M255 280.5h1M258 280.5h1M265 280.5h1M267 280.5h2M274 280.5h1M221 281.5h1M237 281.5h2M246 281.5h2M253 281.5h1M255 281.5h4M260 281.5h2M271 281.5h1M239 282.5h1M244 282.5h2M252 282.5h1M256 282.5h1M259 282.5h1M264 282.5h1M271 282.5h1M230 283.5h1M245 283.5h1M252 283.5h2M255 283.5h1M258 283.5h1M263 283.5h1M265 283.5h1M274 283.5h1M276 283.5h3M233 284.5h1M237 284.5h1M241 284.5h2M244 284.5h2M247 284.5h1M252 284.5h2M255 284.5h1M257 284.5h2M263 284.5h1M266 284.5h1M269 284.5h1M230 285.5h1M232 285.5h2M236 285.5h3M244 285.5h2M247 285.5h1M250 285.5h1M252 285.5h2M255 285.5h1M259 285.5h2M267 285.5h1M272 285.5h1M275 285.5h2M234 286.5h2M240 286.5h1M249 286.5h1M252 286.5h1M254 286.5h1M257 286.5h1M262 286.5h2M265 286.5h1M268 286.5h2M274 286.5h1M279 286.5h1M221 287.5h1M224 287.5h1M234 287.5h1M241 287.5h1M251 287.5h1M258 287.5h1M264 287.5h1M270 287.5h1M227 288.5h1M239 288.5h1M247 288.5h1M252 288.5h1M258 288.5h1M271 288.5h1M276 288.5h1M231 289.5h1M235 289.5h1M237 289.5h1M241 289.5h1M243 289.5h2M253 289.5h1M258 289.5h1M260 289.5h1M265 289.5h1M272 289.5h2M276 289.5h1M280 289.5h1M228 290.5h1M234 290.5h1M240 290.5h4M246 290.5h1M259 290.5h1M261 290.5h1M272 290.5h1M276 290.5h1M278 290.5h1M232 291.5h1M234 291.5h1M243 291.5h1M249 291.5h1M253 291.5h1M256 291.5h1M273 291.5h1M226 292.5h2M234 292.5h1M236 292.5h6M243 292.5h1M250 292.5h1M254 292.5h3M258 292.5h2M262 292.5h1M264 292.5h1M274 292.5h1M277 292.5h1M231 293.5h1M233 293.5h1M235 293.5h1M240 293.5h2M243 293.5h1M247 293.5h1M251 293.5h1M254 293.5h1M264 293.5h2M273 293.5h1M275 293.5h2M224 294.5h1M228 294.5h1M232 294.5h1M236 294.5h1M244 294.5h1M246 294.5h1M252 294.5h2M256 294.5h1M258 294.5h1M261 294.5h2M273 294.5h2M276 294.5h1M230 295.5h1M237 295.5h1M244 295.5h1M246 295.5h1M250 295.5h1M255 295.5h2M265 295.5h1M273 295.5h1M276 295.5h1M231 296.5h1M239 296.5h1M241 296.5h1M245 296.5h1M247 296.5h2M255 296.5h2M258 296.5h1M271 296.5h1M234 297.5h1M238 297.5h4M248 297.5h1M250 297.5h1M255 297.5h1M257 297.5h1M261 297.5h1M277 297.5h1M241 298.5h3M245 298.5h1M248 298.5h2M252 298.5h2M257 298.5h1M261 298.5h1M265 298.5h1M271 298.5h1M229 299.5h1M239 299.5h2M242 299.5h1M244 299.5h1M249 299.5h3M260 299.5h1M263 299.5h1M269 299.5h1M271 299.5h1M279 299.5h1M224 300.5h1M228 300.5h2M232 300.5h1M235 300.5h2M238 300.5h2M247 300.5h1M256 300.5h1M258 300.5h2M268 300.5h2M271 300.5h1M274 300.5h1M281 300.5h1M227 301.5h1M237 301.5h3M244 301.5h1M248 301.5h2M252 301.5h1M259 301.5h1M261 301.5h1M263 301.5h1M273 301.5h1M277 301.5h1M229 302.5h5M239 302.5h1M247 302.5h2M251 302.5h1M259 302.5h1M261 302.5h1M272 302.5h1M277 302.5h1M226 303.5h3M238 303.5h1M243 303.5h1M250 303.5h1M252 303.5h1M260 303.5h1M262 303.5h1M264 303.5h1M271 303.5h3M275 303.5h2M221 304.5h2M229 304.5h1M231 304.5h2M239 304.5h1M241 304.5h1M243 304.5h3M252 304.5h2M255 304.5h1M257 304.5h1M269 304.5h1M271 304.5h1M273 304.5h1M275 304.5h1M225 305.5h1M227 305.5h1M243 305.5h1M248 305.5h3M252 305.5h1M258 305.5h3M262 305.5h1M271 305.5h1M228 306.5h3M234 306.5h1M252 306.5h1M265 306.5h2M272 306.5h1M223 307.5h3M259 307.5h1M272 307.5h1M274 307.5h1M221 308.5h1M223 308.5h2M244 308.5h1M251 308.5h1M259 308.5h3M268 308.5h1M272 308.5h1M223 309.5h1M226 309.5h2M230 309.5h1M245 309.5h1M252 309.5h1M258 309.5h1M261 309.5h2M268 309.5h1M220 310.5h2M224 310.5h1M256 310.5h1M258 310.5h3M264 310.5h1M267 310.5h1M271 310.5h2M275 310.5h2M222 311.5h2M227 311.5h1M256 311.5h1M264 311.5h3M276 311.5h1M221 312.5h1M226 312.5h1M229 312.5h1M255 312.5h2M265 312.5h1M269 312.5h1M271 312.5h1M222 313.5h1M225 313.5h1M229 313.5h1M258 313.5h1M260 313.5h2M264 313.5h1M267 313.5h1M271 313.5h1M273 313.5h1M221 314.5h2M225 314.5h1M228 314.5h1M259 314.5h1M267 314.5h3M274 314.5h1M220 315.5h1M223 315.5h2M255 315.5h1M259 315.5h1M262 315.5h1M272 315.5h1M274 315.5h1M277 315.5h1M257 316.5h1M260 316.5h3M268 316.5h1M274 316.5h1M224 317.5h1M259 317.5h2M266 317.5h1M221 318.5h1M226 318.5h1M262 318.5h1M268 318.5h1M274 318.5h1M221 319.5h2M224 319.5h1M266 319.5h1M268 319.5h1M275 319.5h1M221 320.5h2M264 320.5h3M269 320.5h3M273 320.5h1M222 321.5h1M267 321.5h1M270 321.5h1M273 321.5h1M262 322.5h1M270 322.5h3M219 323.5h1M222 323.5h1M269 323.5h3M283 323.5h1M220 324.5h1M257 324.5h1M263 324.5h2M221 325.5h1M261 325.5h1M264 325.5h1M269 325.5h1M281 325.5h1M260 326.5h1M264 326.5h1M266 326.5h1M269 326.5h1M274 326.5h1M220 327.5h1M264 327.5h1M283 327.5h1M221 328.5h1M267 328.5h1M270 328.5h1M275 328.5h1M219 329.5h2M222 329.5h2M265 329.5h3M271 329.5h1M274 329.5h1M262 330.5h1M266 330.5h1M269 330.5h2M272 330.5h1M274 330.5h2M230 331.5h1M263 331.5h1M266 331.5h1M269 331.5h4M223 332.5h1M225 332.5h2M235 332.5h1M256 332.5h1M221 333.5h1M224 333.5h1M226 333.5h1M228 333.5h1M231 333.5h1M239 333.5h1M246 333.5h1M251 333.5h1M256 333.5h1M258 333.5h1M260 333.5h2M266 333.5h1" stroke="#333" stroke-width="1" fill="none"/>
<path d="M276 259.5h1M276 260.5h1M271 265.5h1M273 267.5h1M266 270.5h1M268 270.5h1M274 270.5h1M271 272.5h1M273 272.5h1M270 273.5h1M271 274.5h1M270 275.5h2M274 275.5h1M277 275.5h1M265 276.5h1M267 276.5h1M272 276.5h1M274 276.5h1M267 277.5h2M270 277.5h2M275 277.5h1M241 278.5h1M245 278.5h1M258 278.5h1M261 278.5h1M263 278.5h1M265 278.5h1M270 278.5h2M265 279.5h1M268 279.5h1M271 279.5h1M273 279.5h1M278 279.5h1M239 280.5h1M241 280.5h1M247 280.5h1M262 280.5h1M266 280.5h1M270 280.5h2M273 280.5h1M240 281.5h1M265 281.5h3M272 281.5h2M233 282.5h1M236 282.5h1M250 282.5h1M265 282.5h1M268 282.5h1M270 282.5h1M272 282.5h1M242 283.5h1M250 283.5h2M257 283.5h1M262 283.5h1M264 283.5h1M266 283.5h8M275 283.5h1M259 284.5h2M264 284.5h2M267 284.5h1M271 284.5h1M273 284.5h2M235 285.5h1M242 285.5h1M246 285.5h1M261 285.5h1M264 285.5h2M268 285.5h3M229 286.5h1M243 286.5h1M245 286.5h1M247 286.5h2M250 286.5h1M258 286.5h1M261 286.5h1M264 286.5h1M266 286.5h2M270 286.5h3M276 286.5h1M237 287.5h1M244 287.5h1M246 287.5h4M252 287.5h4M261 287.5h3M265 287.5h5M272 287.5h3M238 288.5h1M241 288.5h1M245 288.5h1M249 288.5h2M259 288.5h2M263 288.5h8M232 289.5h1M239 289.5h1M242 289.5h1M245 289.5h1M247 289.5h2M250 289.5h1M252 289.5h1M254 289.5h1M257 289.5h1M263 289.5h2M266 289.5h5M231 290.5h1M235 290.5h2M239 290.5h1M244 290.5h1M247 290.5h4M255 290.5h1M262 290.5h10M275 290.5h1M236 291.5h1M239 291.5h2M245 291.5h2M250 291.5h1M260 291.5h5M266 291.5h5M272 291.5h1M274 291.5h2M231 292.5h1M242 292.5h1M245 292.5h1M252 292.5h1M267 292.5h4M273 292.5h1M232 293.5h1M237 293.5h1M242 293.5h1M244 293.5h3M249 293.5h2M255 293.5h2M258 293.5h1M260 293.5h4M266 293.5h7M274 293.5h1M231 294.5h1M233 294.5h2M237 294.5h1M239 294.5h5M245 294.5h1M250 294.5h2M255 294.5h1M263 294.5h2M266 294.5h2M269 294.5h4M225 295.5h1M231 295.5h2M234 295.5h1M238 295.5h3M242 295.5h2M248 295.5h1M253 295.5h1M258 295.5h2M262 295.5h3M266 295.5h7M223 296.5h1M227 296.5h2M237 296.5h1M240 296.5h1M243 296.5h2M246 296.5h1M250 296.5h1M252 296.5h1M260 296.5h1M262 296.5h3M266 296.5h4M272 296.5h1M275 296.5h1M277 296.5h2M237 297.5h1M242 297.5h1M246 297.5h1M258 297.5h1M260 297.5h1M262 297.5h2M265 297.5h3M269 297.5h5M275 297.5h1M226 298.5h2M230 298.5h1M233 298.5h1M236 298.5h1M246 298.5h2M250 298.5h2M255 298.5h2M262 298.5h3M266 298.5h5M228 299.5h1M231 299.5h1M233 299.5h3M238 299.5h1M241 299.5h1M245 299.5h1M247 299.5h2M264 299.5h2M267 299.5h2M270 299.5h1M272 299.5h2M275 299.5h1M231 300.5h1M233 300.5h1M237 300.5h1M241 300.5h6M249 300.5h4M264 300.5h3M270 300.5h1M272 300.5h2M277 300.5h1M228 301.5h1M232 301.5h2M235 301.5h1M242 301.5h1M245 301.5h1M251 301.5h1M255 301.5h1M257 301.5h1M262 301.5h1M264 301.5h2M267 301.5h6M227 302.5h1M236 302.5h3M240 302.5h1M242 302.5h3M249 302.5h2M253 302.5h1M255 302.5h2M260 302.5h1M263 302.5h1M265 302.5h5M271 302.5h1M274 302.5h2M230 303.5h1M235 303.5h3M239 303.5h4M246 303.5h4M253 303.5h3M261 303.5h1M263 303.5h1M265 303.5h6M227 304.5h1M230 304.5h1M233 304.5h6M240 304.5h1M242 304.5h1M246 304.5h5M254 304.5h1M260 304.5h2M263 304.5h2M266 304.5h3M270 304.5h1M272 304.5h1M274 304.5h1M276 304.5h1M228 305.5h8M237 305.5h6M244 305.5h4M251 305.5h1M254 305.5h2M257 305.5h1M261 305.5h1M264 305.5h3M269 305.5h2M272 305.5h2M220 306.5h1M226 306.5h2M231 306.5h3M235 306.5h17M253 306.5h1M255 306.5h2M258 306.5h2M261 306.5h4M267 306.5h3M271 306.5h1M273 306.5h1M275 306.5h1M221 307.5h1M226 307.5h1M228 307.5h1M230 307.5h5M236 307.5h19M257 307.5h2M260 307.5h4M265 307.5h4M270 307.5h1M273 307.5h1M226 308.5h18M245 308.5h5M252 308.5h1M254 308.5h3M258 308.5h1M263 308.5h1M265 308.5h3M271 308.5h1M225 309.5h1M228 309.5h2M231 309.5h14M246 309.5h6M253 309.5h5M259 309.5h2M265 309.5h2M269 309.5h1M271 309.5h1M223 310.5h1M226 310.5h30M257 310.5h1M261 310.5h2M268 310.5h1M224 311.5h3M228 311.5h27M257 311.5h3M261 311.5h1M263 311.5h1M267 311.5h1M269 311.5h3M274 311.5h1M222 312.5h1M224 312.5h2M227 312.5h2M230 312.5h24M257 312.5h4M263 312.5h2M266 312.5h3M272 312.5h1M220 313.5h1M223 313.5h2M226 313.5h1M228 313.5h1M230 313.5h26M257 313.5h1M259 313.5h1M262 313.5h2M265 313.5h2M268 313.5h2M272 313.5h1M223 314.5h2M226 314.5h2M229 314.5h30M260 314.5h7M272 314.5h2M222 315.5h1M225 315.5h30M256 315.5h3M263 315.5h2M267 315.5h1M270 315.5h1M273 315.5h1M221 316.5h36M258 316.5h2M264 316.5h4M219 317.5h1M221 317.5h2M225 317.5h34M261 317.5h5M267 317.5h1M269 317.5h1M220 318.5h1M222 318.5h4M227 318.5h34M263 318.5h4M270 318.5h1M223 319.5h1M225 319.5h40M267 319.5h1M269 319.5h1M274 319.5h1M223 320.5h35M259 320.5h5M267 320.5h2M219 321.5h2M223 321.5h40M265 321.5h1M268 321.5h2M220 322.5h1M222 322.5h40M263 322.5h2M269 322.5h1M274 322.5h1M220 323.5h2M224 323.5h41M266 323.5h2M219 324.5h1M221 324.5h36M258 324.5h5M265 324.5h4M219 325.5h1M222 325.5h39M262 325.5h2M265 325.5h2M268 325.5h1M270 325.5h1M219 326.5h41M261 326.5h3M268 326.5h1M219 327.5h1M221 327.5h1M223 327.5h41M267 327.5h2M270 327.5h1M219 328.5h2M223 328.5h44M221 329.5h1M224 329.5h1M226 329.5h30M257 329.5h6M264 329.5h1M269 329.5h1M219 330.5h1M221 330.5h41M263 330.5h3M267 330.5h1M220 331.5h2M223 331.5h4M228 331.5h2M231 331.5h32M264 331.5h2M268 331.5h1M220 332.5h3M224 332.5h1M227 332.5h8M236 332.5h20M257 332.5h4M262 332.5h5M268 332.5h1M270 332.5h1M225 333.5h1M227 333.5h1M230 333.5h1M232 333.5h7M240 333.5h6M247 333.5h2M250 333.5h1M252 333.5h2M255 333.5h1M257 333.5h1M259 333.5h1M263 333.5h1" stroke="#000" stroke-width="1" fill="none"/>
<line x1="218.50" y1="205.70" x2="341.00" y2="205.70" stroke="#999" stroke-width="1.2"/>
<line x1="341.00" y1="205.70" x2="341.00" y2="334.20" stroke="#888" stroke-width="1.2"/>
<line x1="218.50" y1="205.20" x2="218.50" y2="334.20" stroke="#666" stroke-width="1.1"/>
<line x1="218.50" y1="334.20" x2="341.00" y2="334.20" stroke="#444" stroke-width="1.1"/>
<text x="223.6" y="221.4" font-size="8.8" style="stroke:#111;stroke-width:0.06;" fill="#111" textLength="16.4" lengthAdjust="spacingAndGlyphs">0.24</text>
<text x="305.4" y="224.7" font-size="8.8" style="stroke:#111;stroke-width:0.06;" fill="#111" textLength="17.9" lengthAdjust="spacingAndGlyphs">6.19</text>
<text x="302.4" y="328.7" font-size="8.8" style="stroke:#111;stroke-width:0.06;" fill="#111" textLength="20.7" lengthAdjust="spacingAndGlyphs">10.39</text>
<text x="216.7" y="342.8" font-size="5.4" fill="#333">10</text>
<text x="222.9" y="340.4" font-size="4.0" fill="#333">0</text>
<text x="247.3" y="342.8" font-size="5.4" fill="#333">10</text>
<text x="253.5" y="340.4" font-size="4.0" fill="#333">1</text>
<text x="278.1" y="342.8" font-size="5.4" fill="#333">10</text>
<text x="284.3" y="340.4" font-size="4.0" fill="#333">2</text>
<text x="308.8" y="342.8" font-size="5.4" fill="#333">10</text>
<text x="315.0" y="340.4" font-size="4.0" fill="#333">3</text>
<text x="338.7" y="342.8" font-size="5.4" fill="#333">10</text>
<text x="344.9" y="340.4" font-size="4.0" fill="#333">4</text>
<line x1="218.50" y1="334.20" x2="218.50" y2="336.70" stroke="#333" stroke-width="0.8"/>
<line x1="249.10" y1="334.20" x2="249.10" y2="336.70" stroke="#333" stroke-width="0.8"/>
<line x1="279.90" y1="334.20" x2="279.90" y2="336.70" stroke="#333" stroke-width="0.8"/>
<line x1="310.60" y1="334.20" x2="310.60" y2="336.70" stroke="#333" stroke-width="0.8"/>
<line x1="340.50" y1="334.20" x2="340.50" y2="336.70" stroke="#333" stroke-width="0.8"/>
<line x1="227.71" y1="334.20" x2="227.71" y2="335.70" stroke="#333" stroke-width="0.8"/>
<line x1="233.10" y1="334.20" x2="233.10" y2="335.70" stroke="#333" stroke-width="0.8"/>
<line x1="236.92" y1="334.20" x2="236.92" y2="335.70" stroke="#333" stroke-width="0.8"/>
<line x1="239.89" y1="334.20" x2="239.89" y2="335.70" stroke="#333" stroke-width="0.8"/>
<line x1="242.31" y1="334.20" x2="242.31" y2="335.70" stroke="#333" stroke-width="0.8"/>
<line x1="244.36" y1="334.20" x2="244.36" y2="335.70" stroke="#333" stroke-width="0.8"/>
<line x1="246.13" y1="334.20" x2="246.13" y2="335.70" stroke="#333" stroke-width="0.8"/>
<line x1="247.70" y1="334.20" x2="247.70" y2="335.70" stroke="#333" stroke-width="0.8"/>
<line x1="258.37" y1="334.20" x2="258.37" y2="335.70" stroke="#333" stroke-width="0.8"/>
<line x1="263.80" y1="334.20" x2="263.80" y2="335.70" stroke="#333" stroke-width="0.8"/>
<line x1="267.64" y1="334.20" x2="267.64" y2="335.70" stroke="#333" stroke-width="0.8"/>
<line x1="270.63" y1="334.20" x2="270.63" y2="335.70" stroke="#333" stroke-width="0.8"/>
<line x1="273.07" y1="334.20" x2="273.07" y2="335.70" stroke="#333" stroke-width="0.8"/>
<line x1="275.13" y1="334.20" x2="275.13" y2="335.70" stroke="#333" stroke-width="0.8"/>
<line x1="276.92" y1="334.20" x2="276.92" y2="335.70" stroke="#333" stroke-width="0.8"/>
<line x1="278.49" y1="334.20" x2="278.49" y2="335.70" stroke="#333" stroke-width="0.8"/>
<line x1="289.14" y1="334.20" x2="289.14" y2="335.70" stroke="#333" stroke-width="0.8"/>
<line x1="294.55" y1="334.20" x2="294.55" y2="335.70" stroke="#333" stroke-width="0.8"/>
<line x1="298.38" y1="334.20" x2="298.38" y2="335.70" stroke="#333" stroke-width="0.8"/>
<line x1="301.36" y1="334.20" x2="301.36" y2="335.70" stroke="#333" stroke-width="0.8"/>
<line x1="303.79" y1="334.20" x2="303.79" y2="335.70" stroke="#333" stroke-width="0.8"/>
<line x1="305.84" y1="334.20" x2="305.84" y2="335.70" stroke="#333" stroke-width="0.8"/>
<line x1="307.62" y1="334.20" x2="307.62" y2="335.70" stroke="#333" stroke-width="0.8"/>
<line x1="309.20" y1="334.20" x2="309.20" y2="335.70" stroke="#333" stroke-width="0.8"/>
<line x1="319.60" y1="334.20" x2="319.60" y2="335.70" stroke="#333" stroke-width="0.8"/>
<line x1="324.87" y1="334.20" x2="324.87" y2="335.70" stroke="#333" stroke-width="0.8"/>
<line x1="328.60" y1="334.20" x2="328.60" y2="335.70" stroke="#333" stroke-width="0.8"/>
<line x1="331.50" y1="334.20" x2="331.50" y2="335.70" stroke="#333" stroke-width="0.8"/>
<line x1="333.87" y1="334.20" x2="333.87" y2="335.70" stroke="#333" stroke-width="0.8"/>
<line x1="335.87" y1="334.20" x2="335.87" y2="335.70" stroke="#333" stroke-width="0.8"/>
<line x1="337.60" y1="334.20" x2="337.60" y2="335.70" stroke="#333" stroke-width="0.8"/>
<line x1="339.13" y1="334.20" x2="339.13" y2="335.70" stroke="#333" stroke-width="0.8"/>
<g transform="translate(214.8,339.0) rotate(-90)"><text x="0" y="0" font-size="5.2" fill="#333">10</text><text x="6.0" y="-2.3" font-size="4.0" fill="#333">0</text></g>
<g transform="translate(214.8,306.9) rotate(-90)"><text x="0" y="0" font-size="5.2" fill="#333">10</text><text x="6.0" y="-2.3" font-size="4.0" fill="#333">1</text></g>
<g transform="translate(214.8,274.8) rotate(-90)"><text x="0" y="0" font-size="5.2" fill="#333">10</text><text x="6.0" y="-2.3" font-size="4.0" fill="#333">2</text></g>
<g transform="translate(214.8,242.6) rotate(-90)"><text x="0" y="0" font-size="5.2" fill="#333">10</text><text x="6.0" y="-2.3" font-size="4.0" fill="#333">3</text></g>
<g transform="translate(214.8,210.5) rotate(-90)"><text x="0" y="0" font-size="5.2" fill="#333">10</text><text x="6.0" y="-2.3" font-size="4.0" fill="#333">4</text></g>
<line x1="216.00" y1="334.20" x2="218.50" y2="334.20" stroke="#333" stroke-width="0.8"/>
<line x1="216.00" y1="302.10" x2="218.50" y2="302.10" stroke="#333" stroke-width="0.8"/>
<line x1="216.00" y1="270.00" x2="218.50" y2="270.00" stroke="#333" stroke-width="0.8"/>
<line x1="216.00" y1="237.80" x2="218.50" y2="237.80" stroke="#333" stroke-width="0.8"/>
<line x1="216.00" y1="205.70" x2="218.50" y2="205.70" stroke="#333" stroke-width="0.8"/>
<line x1="217.00" y1="324.54" x2="218.50" y2="324.54" stroke="#333" stroke-width="0.8"/>
<line x1="217.00" y1="318.88" x2="218.50" y2="318.88" stroke="#333" stroke-width="0.8"/>
<line x1="217.00" y1="314.87" x2="218.50" y2="314.87" stroke="#333" stroke-width="0.8"/>
<line x1="217.00" y1="311.76" x2="218.50" y2="311.76" stroke="#333" stroke-width="0.8"/>
<line x1="217.00" y1="309.22" x2="218.50" y2="309.22" stroke="#333" stroke-width="0.8"/>
<line x1="217.00" y1="307.07" x2="218.50" y2="307.07" stroke="#333" stroke-width="0.8"/>
<line x1="217.00" y1="305.21" x2="218.50" y2="305.21" stroke="#333" stroke-width="0.8"/>
<line x1="217.00" y1="303.57" x2="218.50" y2="303.57" stroke="#333" stroke-width="0.8"/>
<line x1="217.00" y1="292.44" x2="218.50" y2="292.44" stroke="#333" stroke-width="0.8"/>
<line x1="217.00" y1="286.78" x2="218.50" y2="286.78" stroke="#333" stroke-width="0.8"/>
<line x1="217.00" y1="282.77" x2="218.50" y2="282.77" stroke="#333" stroke-width="0.8"/>
<line x1="217.00" y1="279.66" x2="218.50" y2="279.66" stroke="#333" stroke-width="0.8"/>
<line x1="217.00" y1="277.12" x2="218.50" y2="277.12" stroke="#333" stroke-width="0.8"/>
<line x1="217.00" y1="274.97" x2="218.50" y2="274.97" stroke="#333" stroke-width="0.8"/>
<line x1="217.00" y1="273.11" x2="218.50" y2="273.11" stroke="#333" stroke-width="0.8"/>
<line x1="217.00" y1="271.47" x2="218.50" y2="271.47" stroke="#333" stroke-width="0.8"/>
<line x1="217.00" y1="260.31" x2="218.50" y2="260.31" stroke="#333" stroke-width="0.8"/>
<line x1="217.00" y1="254.64" x2="218.50" y2="254.64" stroke="#333" stroke-width="0.8"/>
<line x1="217.00" y1="250.61" x2="218.50" y2="250.61" stroke="#333" stroke-width="0.8"/>
<line x1="217.00" y1="247.49" x2="218.50" y2="247.49" stroke="#333" stroke-width="0.8"/>
<line x1="217.00" y1="244.94" x2="218.50" y2="244.94" stroke="#333" stroke-width="0.8"/>
<line x1="217.00" y1="242.79" x2="218.50" y2="242.79" stroke="#333" stroke-width="0.8"/>
<line x1="217.00" y1="240.92" x2="218.50" y2="240.92" stroke="#333" stroke-width="0.8"/>
<line x1="217.00" y1="239.27" x2="218.50" y2="239.27" stroke="#333" stroke-width="0.8"/>
<line x1="217.00" y1="228.14" x2="218.50" y2="228.14" stroke="#333" stroke-width="0.8"/>
<line x1="217.00" y1="222.48" x2="218.50" y2="222.48" stroke="#333" stroke-width="0.8"/>
<line x1="217.00" y1="218.47" x2="218.50" y2="218.47" stroke="#333" stroke-width="0.8"/>
<line x1="217.00" y1="215.36" x2="218.50" y2="215.36" stroke="#333" stroke-width="0.8"/>
<line x1="217.00" y1="212.82" x2="218.50" y2="212.82" stroke="#333" stroke-width="0.8"/>
<line x1="217.00" y1="210.67" x2="218.50" y2="210.67" stroke="#333" stroke-width="0.8"/>
<line x1="217.00" y1="208.81" x2="218.50" y2="208.81" stroke="#333" stroke-width="0.8"/>
<line x1="217.00" y1="207.17" x2="218.50" y2="207.17" stroke="#333" stroke-width="0.8"/>
<path d="M189.2 210.3 L191.7 206.0 L194.2 210.3Z" fill="#111"/>
<line x1="191.70" y1="210.30" x2="191.70" y2="231.50" stroke="#555" stroke-width="1.0"/>
<text transform="translate(195.5,305.6) rotate(-90)" x="0" y="0" font-size="11" fill="#111" stroke="#111" stroke-width="0.18" textLength="70.4" lengthAdjust="spacingAndGlyphs">NKG2D ligand</text>
<line x1="191.70" y1="309.60" x2="191.70" y2="334.70" stroke="#555" stroke-width="1.0"/>
<line x1="210.60" y1="356.60" x2="243.10" y2="356.60" stroke="#888" stroke-width="1.0"/>
<text x="248.0" y="360.3" font-size="9.6" style="stroke:#111;stroke-width:0.15;" fill="#111" textLength="21.6" lengthAdjust="spacingAndGlyphs">HIV-1</text>
<text x="273.4" y="362.8" font-size="6.2" style="stroke:#111;stroke-width:0.1;" fill="#111" textLength="19.5" lengthAdjust="spacingAndGlyphs">SF128A</text>
<text x="296.0" y="360.3" font-size="9.6" style="stroke:#111;stroke-width:0.15;" fill="#111" textLength="14.4" lengthAdjust="spacingAndGlyphs">p24</text>
<line x1="314.00" y1="356.70" x2="338.40" y2="356.70" stroke="#777" stroke-width="0.9"/>
<path d="M338.4 354.2 L342.6 356.7 L338.4 359.2Z" fill="#111"/>
<text x="385.2" y="198.3" font-size="16" style="font-weight:bold;" fill="#000">F</text>
<text transform="translate(391.8,212.9) rotate(-90)" font-size="5" fill="#333">300</text>
<text transform="translate(391.8,237.2) rotate(-90)" font-size="5" fill="#333">240</text>
<text transform="translate(391.8,261.5) rotate(-90)" font-size="5" fill="#333">180</text>
<text transform="translate(391.8,285.8) rotate(-90)" font-size="5" fill="#333">120</text>
<text transform="translate(391.8,308.7) rotate(-90)" font-size="5" fill="#333">60</text>
<text transform="translate(391.8,331.6) rotate(-90)" font-size="5" fill="#333">0</text>
<line x1="394.00" y1="208.70" x2="396.50" y2="208.70" stroke="#333" stroke-width="0.8"/>
<line x1="394.00" y1="233.00" x2="396.50" y2="233.00" stroke="#333" stroke-width="0.8"/>
<line x1="394.00" y1="257.30" x2="396.50" y2="257.30" stroke="#333" stroke-width="0.8"/>
<line x1="394.00" y1="281.60" x2="396.50" y2="281.60" stroke="#333" stroke-width="0.8"/>
<line x1="394.00" y1="305.90" x2="396.50" y2="305.90" stroke="#333" stroke-width="0.8"/>
<line x1="394.00" y1="330.20" x2="396.50" y2="330.20" stroke="#333" stroke-width="0.8"/>
<line x1="395.00" y1="214.77" x2="396.50" y2="214.77" stroke="#333" stroke-width="0.8"/>
<line x1="395.00" y1="220.85" x2="396.50" y2="220.85" stroke="#333" stroke-width="0.8"/>
<line x1="395.00" y1="226.93" x2="396.50" y2="226.93" stroke="#333" stroke-width="0.8"/>
<line x1="395.00" y1="239.07" x2="396.50" y2="239.07" stroke="#333" stroke-width="0.8"/>
<line x1="395.00" y1="245.15" x2="396.50" y2="245.15" stroke="#333" stroke-width="0.8"/>
<line x1="395.00" y1="251.23" x2="396.50" y2="251.23" stroke="#333" stroke-width="0.8"/>
<line x1="395.00" y1="263.38" x2="396.50" y2="263.38" stroke="#333" stroke-width="0.8"/>
<line x1="395.00" y1="269.45" x2="396.50" y2="269.45" stroke="#333" stroke-width="0.8"/>
<line x1="395.00" y1="275.53" x2="396.50" y2="275.53" stroke="#333" stroke-width="0.8"/>
<line x1="395.00" y1="287.68" x2="396.50" y2="287.68" stroke="#333" stroke-width="0.8"/>
<line x1="395.00" y1="293.75" x2="396.50" y2="293.75" stroke="#333" stroke-width="0.8"/>
<line x1="395.00" y1="299.82" x2="396.50" y2="299.82" stroke="#333" stroke-width="0.8"/>
<line x1="395.00" y1="311.97" x2="396.50" y2="311.97" stroke="#333" stroke-width="0.8"/>
<line x1="395.00" y1="318.05" x2="396.50" y2="318.05" stroke="#333" stroke-width="0.8"/>
<line x1="395.00" y1="324.12" x2="396.50" y2="324.12" stroke="#333" stroke-width="0.8"/>
<text x="392.4" y="338.6" font-size="5.3" fill="#333">10</text>
<text x="398.5" y="336.2" font-size="4.0" fill="#333">0</text>
<text x="422.0" y="338.6" font-size="5.3" fill="#333">10</text>
<text x="428.1" y="336.2" font-size="4.0" fill="#333">1</text>
<text x="451.7" y="338.6" font-size="5.3" fill="#333">10</text>
<text x="457.8" y="336.2" font-size="4.0" fill="#333">2</text>
<text x="481.3" y="338.6" font-size="5.3" fill="#333">10</text>
<text x="487.4" y="336.2" font-size="4.0" fill="#333">3</text>
<text x="510.9" y="338.6" font-size="5.3" fill="#333">10</text>
<text x="517.0" y="336.2" font-size="4.0" fill="#333">4</text>
<line x1="396.50" y1="330.50" x2="396.50" y2="333.00" stroke="#333" stroke-width="0.8"/>
<line x1="426.10" y1="330.50" x2="426.10" y2="333.00" stroke="#333" stroke-width="0.8"/>
<line x1="455.80" y1="330.50" x2="455.80" y2="333.00" stroke="#333" stroke-width="0.8"/>
<line x1="485.40" y1="330.50" x2="485.40" y2="333.00" stroke="#333" stroke-width="0.8"/>
<line x1="515.00" y1="330.50" x2="515.00" y2="333.00" stroke="#333" stroke-width="0.8"/>
<line x1="405.41" y1="330.50" x2="405.41" y2="332.00" stroke="#333" stroke-width="0.8"/>
<line x1="410.62" y1="330.50" x2="410.62" y2="332.00" stroke="#333" stroke-width="0.8"/>
<line x1="414.32" y1="330.50" x2="414.32" y2="332.00" stroke="#333" stroke-width="0.8"/>
<line x1="417.19" y1="330.50" x2="417.19" y2="332.00" stroke="#333" stroke-width="0.8"/>
<line x1="419.53" y1="330.50" x2="419.53" y2="332.00" stroke="#333" stroke-width="0.8"/>
<line x1="421.51" y1="330.50" x2="421.51" y2="332.00" stroke="#333" stroke-width="0.8"/>
<line x1="423.23" y1="330.50" x2="423.23" y2="332.00" stroke="#333" stroke-width="0.8"/>
<line x1="424.75" y1="330.50" x2="424.75" y2="332.00" stroke="#333" stroke-width="0.8"/>
<line x1="435.04" y1="330.50" x2="435.04" y2="332.00" stroke="#333" stroke-width="0.8"/>
<line x1="440.27" y1="330.50" x2="440.27" y2="332.00" stroke="#333" stroke-width="0.8"/>
<line x1="443.98" y1="330.50" x2="443.98" y2="332.00" stroke="#333" stroke-width="0.8"/>
<line x1="446.86" y1="330.50" x2="446.86" y2="332.00" stroke="#333" stroke-width="0.8"/>
<line x1="449.21" y1="330.50" x2="449.21" y2="332.00" stroke="#333" stroke-width="0.8"/>
<line x1="451.20" y1="330.50" x2="451.20" y2="332.00" stroke="#333" stroke-width="0.8"/>
<line x1="452.92" y1="330.50" x2="452.92" y2="332.00" stroke="#333" stroke-width="0.8"/>
<line x1="454.44" y1="330.50" x2="454.44" y2="332.00" stroke="#333" stroke-width="0.8"/>
<line x1="464.71" y1="330.50" x2="464.71" y2="332.00" stroke="#333" stroke-width="0.8"/>
<line x1="469.92" y1="330.50" x2="469.92" y2="332.00" stroke="#333" stroke-width="0.8"/>
<line x1="473.62" y1="330.50" x2="473.62" y2="332.00" stroke="#333" stroke-width="0.8"/>
<line x1="476.49" y1="330.50" x2="476.49" y2="332.00" stroke="#333" stroke-width="0.8"/>
<line x1="478.83" y1="330.50" x2="478.83" y2="332.00" stroke="#333" stroke-width="0.8"/>
<line x1="480.81" y1="330.50" x2="480.81" y2="332.00" stroke="#333" stroke-width="0.8"/>
<line x1="482.53" y1="330.50" x2="482.53" y2="332.00" stroke="#333" stroke-width="0.8"/>
<line x1="484.05" y1="330.50" x2="484.05" y2="332.00" stroke="#333" stroke-width="0.8"/>
<line x1="494.31" y1="330.50" x2="494.31" y2="332.00" stroke="#333" stroke-width="0.8"/>
<line x1="499.52" y1="330.50" x2="499.52" y2="332.00" stroke="#333" stroke-width="0.8"/>
<line x1="503.22" y1="330.50" x2="503.22" y2="332.00" stroke="#333" stroke-width="0.8"/>
<line x1="506.09" y1="330.50" x2="506.09" y2="332.00" stroke="#333" stroke-width="0.8"/>
<line x1="508.43" y1="330.50" x2="508.43" y2="332.00" stroke="#333" stroke-width="0.8"/>
<line x1="510.41" y1="330.50" x2="510.41" y2="332.00" stroke="#333" stroke-width="0.8"/>
<line x1="512.13" y1="330.50" x2="512.13" y2="332.00" stroke="#333" stroke-width="0.8"/>
<line x1="513.65" y1="330.50" x2="513.65" y2="332.00" stroke="#333" stroke-width="0.8"/>
<path d="M396.80 305.99 L396.96 307.06 L397.12 306.16 L397.28 305.68 L397.43 306.61 L397.59 301.72 L397.75 302.14 L397.89 300.50 L398.03 302.01 L398.17 303.40 L398.30 301.19 L398.44 301.61 L398.58 296.85 L398.71 300.04 L398.85 297.66 L398.99 302.01 L399.12 299.93 L399.26 299.56 L399.40 297.26 L399.54 297.99 L399.71 297.60 L399.87 295.32 L400.04 294.58 L400.21 294.79 L400.37 293.44 L400.54 292.98 L400.70 293.07 L400.65 291.77 L400.61 293.96 L400.56 289.21 L400.52 293.07 L400.48 289.96 L400.43 289.60 L400.39 287.66 L400.34 289.33 L400.30 288.64 L400.25 288.94 L400.21 287.13 L400.25 287.76 L400.31 290.37 L400.37 287.34 L400.44 285.07 L400.50 287.32 L400.56 284.88 L400.62 285.68 L400.69 285.22 L400.65 282.91 L400.58 279.65 L400.52 282.00 L400.45 283.12 L400.38 280.95 L400.32 281.93 L400.25 282.40 L400.19 279.16 L400.12 281.86 L400.05 282.07 L399.99 280.60 L399.92 280.25 L399.85 279.63 L399.79 281.22 L399.72 277.00 L399.66 276.17 L399.59 276.76 L399.52 273.54 L399.48 271.88 L399.44 272.59 L399.41 274.35 L399.37 274.03 L399.34 269.92 L399.30 268.79 L399.27 271.11 L399.23 270.84 L399.20 270.59 L399.16 271.39 L399.13 271.89 L399.09 269.60 L399.06 269.79 L399.02 266.21 L398.99 265.57 L398.95 267.61 L398.92 267.88 L398.88 267.49 L398.85 266.75 L398.81 266.60 L398.90 266.16 L399.06 261.07 L399.22 262.43 L399.39 264.10 L399.55 263.88 L399.71 259.61 L399.87 263.97 L400.03 260.59 L400.19 260.49 L400.35 260.93 L400.52 261.31 L400.74 256.93 L400.97 260.85 L401.19 258.76 L401.42 256.78 L401.64 257.23 L401.86 253.34 L402.09 255.66 L402.31 256.70 L402.54 254.65 L402.76 254.89 L402.98 254.77 L403.19 254.66 L403.39 255.96 L403.60 253.62 L403.80 252.74 L404.01 253.72 L404.21 256.03 L404.42 251.22 L404.62 252.30 L404.74 248.05 L404.79 252.82 L404.85 251.09 L404.91 251.80 L404.97 248.80 L405.02 246.53 L405.08 249.50 L405.14 248.77 L405.20 245.35 L405.26 243.76 L405.31 246.73 L405.37 245.11 L405.43 249.62 L405.49 243.32 L405.54 242.98 L405.60 243.23 L405.66 239.94 L405.72 240.83 L405.78 244.90 L405.83 241.20 L405.89 239.85 L405.95 238.16 L406.01 240.99 L406.09 240.64 L406.17 239.42 L406.26 237.76 L406.34 238.52 L406.42 238.16 L406.50 235.76 L406.59 237.61 L406.67 232.19 L406.75 233.18 L406.83 234.46 L406.91 234.32 L407.00 231.92 L407.08 234.12 L407.16 234.93 L407.24 233.35 L407.33 232.45 L407.41 233.04 L407.49 231.78 L407.57 228.50 L407.66 229.70 L407.74 231.90 L407.82 227.03 L407.90 228.70 L407.99 227.39 L408.08 225.98 L408.18 225.29 L408.28 226.80 L408.38 226.69 L408.47 226.19 L408.57 222.54 L408.67 224.13 L408.77 224.78 L408.87 225.37 L408.96 224.39 L409.06 224.18 L409.16 224.17 L409.26 223.19 L409.36 219.74 L409.46 220.83 L409.55 218.95 L409.65 215.45 L409.75 216.22 L409.85 222.52 L409.95 216.25 L410.05 213.74 L410.14 216.23 L410.24 219.53 L410.33 216.62 L410.41 217.93 L410.49 217.20 L410.58 218.03 L410.66 220.96 L410.74 220.61 L410.82 219.51 L410.90 221.77 L410.98 222.59 L411.06 220.76 L411.14 222.13 L411.22 222.60 L411.28 221.43 L411.35 225.20 L411.42 223.33 L411.48 223.01 L411.55 221.61 L411.62 222.84 L411.68 228.36 L411.75 224.06 L411.81 227.38 L411.88 226.44 L411.95 228.52 L412.01 229.18 L412.07 227.20 L412.14 228.57 L412.20 229.77 L412.26 230.29 L412.32 230.53 L412.39 230.52 L412.45 232.71 L412.51 234.45 L412.57 233.54 L412.63 231.74 L412.70 234.28 L412.76 234.17 L412.82 235.39 L412.88 238.38 L412.94 235.17 L413.01 236.03 L413.06 234.95 L413.12 236.53 L413.17 236.52 L413.23 240.92 L413.28 239.09 L413.34 238.01 L413.39 243.01 L413.45 237.64 L413.50 242.08 L413.56 242.86 L413.61 242.56 L413.67 241.55 L413.72 242.29 L413.78 242.40 L413.84 244.93 L413.89 239.82 L413.95 243.59 L414.00 245.29 L414.07 244.46 L414.14 242.73 L414.21 246.06 L414.29 245.64 L414.36 248.93 L414.43 250.50 L414.50 248.61 L414.57 245.50 L414.64 249.12 L414.71 248.31 L414.78 251.69 L414.85 254.01 L414.92 252.03 L414.99 255.62 L415.07 255.17 L415.16 254.20 L415.24 251.89 L415.32 254.31 L415.40 252.01 L415.49 256.99 L415.57 255.84 L415.65 258.61 L415.73 257.16 L415.82 253.65 L415.90 258.81 L415.98 259.82 L416.05 261.64 L416.11 257.39 L416.18 257.98 L416.24 260.25 L416.30 258.73 L416.37 258.65 L416.43 259.65 L416.50 266.77 L416.56 261.46 L416.62 261.25 L416.69 262.75 L416.75 264.05 L416.82 266.86 L416.88 266.73 L416.92 266.94 L416.95 266.10 L416.98 266.80 L417.01 265.87 L417.04 264.81 L417.07 271.69 L417.10 267.70 L417.13 270.84 L417.16 268.95 L417.19 269.85 L417.22 270.24 L417.25 268.53 L417.28 271.37 L417.31 272.69 L417.34 274.00 L417.37 273.89 L417.40 275.34 L417.43 274.53 L417.46 274.49 L417.49 271.46 L417.52 274.53 L417.55 278.79 L417.58 276.71 L417.61 278.43 L417.64 277.11 L417.67 276.78 L417.70 282.18 L417.73 279.63 L417.76 282.18 L417.79 280.94 L417.82 279.96 L417.86 276.95 L417.90 281.65 L417.94 279.17 L417.97 278.49 L418.01 285.22 L418.05 284.78 L418.08 285.14 L418.12 284.57 L418.16 284.91 L418.19 286.24 L418.23 286.26 L418.27 286.60 L418.30 288.31 L418.34 283.05 L418.38 289.58 L418.41 287.33 L418.45 290.51 L418.49 291.58 L418.52 288.44 L418.56 291.88 L418.60 292.35 L418.63 290.15 L418.67 290.95 L418.71 292.59 L418.74 288.86 L418.78 292.56 L418.83 294.19 L418.89 293.54 L418.96 291.96 L419.02 294.63 L419.08 298.56 L419.15 298.71 L419.21 296.61 L419.27 295.87 L419.34 297.78 L419.40 298.34 L419.46 297.58 L419.53 298.70 L419.59 300.92 L419.65 301.96 L419.72 296.51 L419.78 302.97 L419.84 302.01 L419.91 304.19 L419.97 302.74 L420.04 303.98 L420.13 306.35 L420.21 299.67 L420.29 307.16 L420.37 305.53 L420.46 303.08 L420.54 302.43 L420.62 307.16 L420.70 305.81 L420.79 309.06 L420.87 308.49 L420.95 308.53 L421.03 310.44 L421.11 309.93 L421.20 311.07 L421.28 311.64 L421.36 311.54 L421.44 312.54 L421.53 313.00 L421.62 311.23 L421.78 312.85 L421.95 313.48 L422.12 313.71 L422.28 313.07 L422.45 314.50 L422.61 315.78 L422.78 316.12 L422.95 317.67 L423.11 316.43 L423.28 317.05 L423.45 317.43 L423.64 318.09 L423.85 318.36 L424.06 318.01 L424.27 319.89 L424.49 320.71 L424.70 321.21 L424.91 320.45 L425.12 321.39 L425.33 322.84 L425.62 322.30 L425.95 322.87 L426.29 323.03 L426.62 323.86 L426.96 324.19 L427.29 325.02 L427.63 324.74 L427.96 325.09 L428.36 324.91 L428.76 325.44 L429.17 325.67 L429.57 326.06 L429.98 326.15 L430.38 326.97 L430.79 326.83 L431.20 327.36 L431.60 327.43 L432.01 327.95 L432.50 328.20 L432.99 328.00 L433.48 328.24 L433.97 328.29 L434.46 328.42 L434.96 328.53 L435.45 328.54 L435.94 328.67 L436.43 328.74 L436.92 328.83 L437.41 328.91 L437.90 329.13 L438.39 329.14 L438.88 329.31 L439.38 329.40 L439.87 329.44 L440.37 329.53 L440.87 329.48 L441.37 329.53 L441.87 329.56 L442.37 329.50 L442.87 329.49 L443.37 329.50 L443.87 329.59 L444.37 329.52 L444.87 329.50 L445.37 329.56 L445.88 329.53 L446.38 329.54 L446.88 329.52 L447.38 329.49 L447.88 329.53 L448.38 329.53 L448.88 329.52 L449.38 329.53 L449.88 329.54 L450.38 329.59 L450.88 329.59 L451.39 329.59 L451.89 329.57 L452.39 329.55 L452.89 329.59 L453.39 329.60 L453.89 329.62 L454.39 329.60 L454.89 329.60 L455.39 329.61 L455.89 329.58 L456.39 329.59 L456.90 329.63 L457.40 329.59 L457.90 329.62 L458.40 329.64 L458.90 329.63 L459.40 329.64 L459.90 329.61 L460.40 329.63 L460.90 329.63 L461.40 329.66 L461.90 329.65 L462.41 329.65 L462.91 329.69 L463.41 329.67 L463.91 329.65 L464.41 329.65 L464.91 329.67 L465.41 329.66 L465.91 329.71 L466.41 329.69 L466.91 329.67 L467.41 329.67 L467.92 329.67 L468.42 329.68 L468.92 329.72 L469.42 329.71 L469.92 329.70 L470.42 329.71 L470.92 329.67 L471.42 329.72 L471.92 329.71 L472.42 329.74 L472.92 329.72 L473.43 329.72 L473.93 329.73 L474.43 329.72 L474.93 329.75 L475.43 329.74 L475.93 329.75 L476.43 329.75 L476.93 329.74 L477.43 329.76 L477.93 329.76 L478.43 329.78 L478.94 329.76 L479.44 329.77 L479.94 329.76 L480.44 329.77 L480.94 329.77 L481.44 329.79 L481.94 329.78 L482.44 329.80 L482.94 329.78 L483.44 329.79 L483.94 329.77 L484.44 329.81 L484.95 329.83 L485.45 329.80 L485.95 329.82 L486.45 329.82 L486.95 329.81 L487.45 329.83 L487.95 329.81 L488.45 329.82 L488.95 329.84 L489.45 329.83 L489.95 329.82 L490.46 329.85 L490.96 329.83 L491.46 329.84 L491.96 329.84 L492.46 329.85 L492.96 329.85 L493.46 329.84 L493.96 329.88 L494.46 329.86 L494.96 329.86 L495.46 329.85 L495.97 329.87 L496.47 329.89 L496.97 329.89 L497.47 329.90 L497.97 329.90 L498.47 329.89 L498.97 329.89 L499.47 329.91 L499.97 329.90 L500.47 329.90 L500.97 329.90 L501.48 329.91 L501.98 329.92 L502.48 329.92 L502.98 329.92 L503.48 329.91 L503.98 329.93 L504.48 329.93 L504.98 329.94 L505.48 329.94 L505.98 329.94 L506.48 329.94 L506.99 329.95 L507.49 329.95 L507.99 329.95 L508.49 329.96 L508.99 329.96 L509.49 329.96 L509.99 329.97 L510.49 329.97 L510.99 329.97 L511.49 329.98 L511.99 329.98 L512.50 329.98 L513.00 329.99 L513.50 329.99 L514.00 329.99 L514.50 330.00 L515.00 330.00" fill="none" stroke="#999" stroke-width="0.9" stroke-linejoin="round" opacity="1"/>
<path d="M396.80 311.95 L396.96 306.16 L397.12 310.12 L397.28 308.66 L397.45 309.64 L397.61 308.09 L397.77 309.38 L397.93 306.72 L398.09 305.55 L398.25 306.48 L398.41 305.82 L398.57 304.30 L398.71 303.96 L398.86 304.82 L399.00 304.34 L399.14 302.14 L399.29 301.83 L399.43 299.19 L399.58 303.97 L399.72 300.59 L399.86 302.56 L400.01 300.64 L400.10 302.59 L400.19 301.45 L400.28 299.00 L400.37 300.37 L400.47 295.99 L400.56 299.03 L400.65 294.15 L400.74 296.58 L400.84 297.24 L400.93 295.40 L401.02 293.96 L401.11 292.77 L401.21 293.02 L401.30 294.76 L401.39 294.01 L401.48 291.67 L401.56 289.60 L401.62 292.17 L401.69 288.28 L401.76 289.25 L401.83 288.43 L401.90 290.30 L401.97 288.99 L402.03 288.85 L402.10 288.05 L402.17 286.04 L402.24 287.48 L402.31 288.39 L402.38 285.57 L402.44 286.15 L402.51 284.44 L402.58 285.79 L402.64 284.71 L402.69 284.55 L402.74 283.20 L402.79 284.77 L402.84 281.07 L402.89 280.61 L402.94 279.70 L402.98 281.13 L403.03 278.66 L403.08 278.12 L403.13 279.82 L403.18 280.01 L403.23 278.58 L403.28 272.86 L403.33 275.13 L403.38 274.44 L403.43 273.73 L403.48 274.51 L403.53 277.57 L403.58 273.67 L403.63 272.49 L403.68 274.28 L403.73 272.78 L403.78 272.36 L403.83 270.57 L403.88 271.17 L403.93 271.37 L403.98 267.12 L404.03 267.10 L404.08 270.91 L404.13 270.03 L404.18 267.37 L404.23 266.05 L404.28 266.88 L404.33 264.77 L404.38 265.64 L404.43 268.33 L404.48 265.40 L404.53 266.55 L404.57 263.83 L404.62 264.28 L404.66 265.40 L404.71 260.55 L404.76 261.63 L404.80 261.44 L404.85 261.64 L404.89 263.18 L404.94 261.29 L404.98 257.30 L405.03 258.76 L405.07 257.26 L405.12 256.72 L405.16 260.93 L405.21 255.49 L405.25 257.07 L405.30 255.05 L405.35 257.08 L405.39 255.76 L405.44 254.90 L405.48 254.08 L405.54 255.52 L405.60 251.71 L405.66 251.54 L405.72 250.42 L405.79 253.85 L405.85 250.74 L405.91 249.06 L405.97 249.55 L406.03 253.72 L406.10 249.05 L406.16 250.09 L406.22 248.97 L406.28 247.71 L406.35 246.13 L406.41 246.20 L406.47 245.67 L406.53 242.21 L406.59 249.39 L406.66 246.23 L406.72 244.43 L406.78 243.43 L406.84 241.99 L406.91 244.28 L406.97 241.96 L407.04 242.53 L407.11 239.05 L407.18 241.38 L407.26 243.48 L407.33 239.32 L407.41 240.56 L407.48 238.84 L407.56 240.06 L407.63 239.50 L407.71 237.40 L407.78 235.91 L407.85 236.77 L407.93 235.88 L408.00 234.33 L408.08 235.55 L408.15 235.02 L408.23 232.41 L408.30 233.15 L408.37 237.51 L408.45 233.65 L408.53 232.00 L408.61 235.37 L408.69 230.13 L408.77 226.40 L408.86 226.82 L408.94 226.94 L409.02 229.29 L409.10 229.95 L409.19 224.42 L409.27 229.18 L409.35 224.94 L409.43 226.82 L409.54 226.82 L409.76 227.22 L409.99 226.99 L410.21 227.70 L410.44 226.05 L410.54 228.80 L410.60 230.42 L410.66 230.84 L410.72 234.03 L410.77 232.08 L410.83 232.01 L410.89 234.01 L410.95 232.23 L411.01 230.28 L411.06 229.26 L411.12 235.38 L411.18 234.75 L411.23 235.69 L411.28 234.30 L411.32 235.89 L411.37 238.84 L411.42 236.87 L411.46 235.05 L411.51 236.64 L411.55 240.05 L411.60 236.59 L411.65 234.70 L411.69 235.66 L411.74 237.68 L411.78 241.61 L411.84 240.97 L411.90 240.11 L411.97 239.76 L412.03 242.13 L412.09 242.56 L412.16 242.41 L412.22 243.42 L412.28 243.09 L412.34 247.69 L412.41 241.51 L412.47 245.99 L412.53 244.67 L412.59 247.92 L412.66 246.91 L412.72 248.37 L412.78 249.14 L412.85 249.11 L412.91 250.87 L412.97 247.55 L413.05 251.80 L413.15 250.41 L413.25 251.86 L413.35 254.24 L413.45 254.04 L413.55 255.90 L413.64 249.62 L413.74 252.18 L413.84 255.75 L413.94 252.89 L414.04 254.90 L414.14 258.41 L414.23 257.57 L414.33 255.12 L414.43 257.88 L414.53 258.68 L414.63 258.25 L414.73 258.47 L414.82 259.35 L414.92 257.21 L415.02 260.31 L415.12 259.05 L415.22 261.72 L415.32 262.27 L415.41 260.64 L415.51 263.54 L415.61 263.62 L415.71 263.48 L415.81 265.20 L415.91 264.03 L416.00 264.57 L416.10 265.64 L416.20 265.91 L416.30 268.32 L416.40 263.19 L416.50 266.98 L416.59 264.75 L416.69 267.62 L416.79 269.33 L416.89 269.41 L416.99 271.44 L417.04 270.90 L417.08 266.49 L417.12 269.58 L417.16 274.36 L417.20 274.86 L417.24 273.02 L417.29 270.87 L417.33 277.32 L417.37 270.99 L417.41 275.33 L417.45 275.25 L417.49 276.22 L417.54 274.45 L417.58 276.18 L417.62 279.04 L417.66 277.03 L417.70 276.09 L417.74 278.78 L417.79 279.44 L417.83 279.58 L417.87 279.03 L417.91 281.66 L417.95 281.09 L417.99 279.90 L418.03 282.64 L418.06 282.74 L418.10 283.52 L418.13 281.06 L418.17 283.06 L418.20 285.53 L418.24 286.79 L418.27 286.36 L418.31 286.57 L418.34 287.98 L418.37 288.90 L418.41 290.66 L418.44 289.10 L418.48 287.94 L418.51 290.12 L418.55 286.74 L418.58 290.46 L418.62 290.17 L418.65 291.35 L418.68 292.68 L418.72 292.48 L418.75 290.58 L418.79 292.83 L418.84 292.62 L418.91 294.37 L418.98 295.48 L419.05 293.86 L419.11 297.08 L419.18 298.48 L419.25 296.47 L419.31 298.56 L419.38 295.52 L419.45 297.53 L419.51 300.43 L419.58 296.56 L419.65 299.07 L419.71 298.97 L419.78 302.66 L419.85 303.13 L419.91 300.94 L419.98 302.55 L420.05 299.09 L420.12 304.57 L420.18 304.35 L420.26 306.17 L420.34 301.65 L420.42 305.80 L420.50 305.39 L420.58 303.04 L420.66 305.98 L420.74 307.23 L420.82 308.77 L420.90 308.54 L420.98 308.23 L421.06 309.80 L421.15 309.68 L421.23 309.61 L421.31 309.75 L421.39 311.43 L421.47 311.93 L421.55 314.02 L421.65 312.35 L421.79 314.68 L421.92 314.04 L422.06 315.21 L422.20 313.96 L422.34 314.49 L422.48 315.43 L422.61 316.81 L422.75 316.75 L422.89 317.63 L423.05 317.79 L423.30 318.68 L423.55 318.58 L423.79 318.58 L424.04 319.62 L424.29 319.81 L424.54 321.11 L424.79 320.55 L425.06 321.10 L425.43 321.25 L425.80 322.23 L426.17 322.43 L426.55 322.66 L426.92 322.24 L427.29 322.50 L427.67 323.49 L428.04 323.98 L428.41 324.54 L428.78 323.87 L429.16 324.69 L429.53 324.63 L429.90 325.18 L430.35 325.57 L430.83 325.99 L431.30 325.82 L431.78 325.94 L432.25 326.19 L432.73 326.65 L433.20 327.01 L433.68 326.46 L434.16 326.84 L434.63 326.98 L435.11 327.38 L435.58 327.42 L436.06 327.73 L436.53 327.57 L437.00 327.88 L437.47 328.00 L437.93 328.12 L438.40 328.39 L438.87 328.49 L439.34 328.90 L439.81 328.95 L440.30 328.95 L440.80 328.98 L441.30 329.11 L441.81 329.00 L442.31 329.07 L442.81 329.07 L443.31 329.10 L443.81 329.08 L444.31 329.05 L444.81 329.03 L445.31 328.98 L445.82 329.08 L446.32 329.09 L446.82 329.07 L447.32 329.09 L447.82 329.05 L448.32 329.21 L448.82 329.09 L449.33 329.08 L449.83 329.10 L450.33 329.13 L450.83 329.18 L451.33 329.04 L451.83 329.18 L452.33 329.14 L452.83 329.16 L453.34 329.22 L453.84 329.22 L454.34 329.16 L454.84 329.19 L455.34 329.28 L455.84 329.27 L456.34 329.25 L456.85 329.23 L457.35 329.27 L457.85 329.25 L458.35 329.22 L458.85 329.21 L459.35 329.28 L459.85 329.28 L460.35 329.32 L460.86 329.26 L461.36 329.34 L461.86 329.28 L462.36 329.35 L462.86 329.33 L463.36 329.29 L463.86 329.28 L464.37 329.32 L464.87 329.32 L465.37 329.37 L465.87 329.32 L466.37 329.30 L466.87 329.36 L467.37 329.43 L467.87 329.43 L468.38 329.36 L468.88 329.38 L469.38 329.40 L469.88 329.38 L470.38 329.40 L470.88 329.40 L471.38 329.39 L471.89 329.41 L472.39 329.42 L472.89 329.45 L473.39 329.41 L473.89 329.46 L474.39 329.43 L474.89 329.44 L475.39 329.44 L475.90 329.59 L476.40 329.52 L476.90 329.53 L477.40 329.52 L477.90 329.50 L478.40 329.51 L478.90 329.53 L479.41 329.54 L479.91 329.55 L480.41 329.58 L480.91 329.47 L481.41 329.54 L481.91 329.57 L482.41 329.56 L482.91 329.57 L483.42 329.61 L483.92 329.59 L484.42 329.63 L484.92 329.60 L485.42 329.61 L485.92 329.59 L486.42 329.58 L486.93 329.62 L487.43 329.63 L487.93 329.63 L488.43 329.62 L488.93 329.66 L489.43 329.66 L489.93 329.67 L490.43 329.66 L490.94 329.71 L491.44 329.71 L491.94 329.70 L492.44 329.70 L492.94 329.71 L493.44 329.74 L493.94 329.76 L494.45 329.73 L494.95 329.73 L495.45 329.71 L495.95 329.78 L496.45 329.74 L496.95 329.77 L497.45 329.77 L497.95 329.79 L498.46 329.77 L498.96 329.77 L499.46 329.79 L499.96 329.80 L500.46 329.82 L500.96 329.80 L501.46 329.82 L501.97 329.82 L502.47 329.82 L502.97 329.84 L503.47 329.85 L503.97 329.85 L504.47 329.85 L504.97 329.87 L505.47 329.88 L505.98 329.88 L506.48 329.89 L506.98 329.88 L507.48 329.90 L507.98 329.91 L508.48 329.91 L508.98 329.92 L509.49 329.92 L509.99 329.94 L510.49 329.94 L510.99 329.94 L511.49 329.95 L511.99 329.96 L512.49 329.97 L512.99 329.97 L513.50 329.98 L514.00 329.99 L514.50 329.99 L515.00 330.00" fill="none" stroke="#333" stroke-width="0.9" stroke-linejoin="round" opacity="1"/>
<path d="M396.80 318.63 L397.19 317.85 L397.58 317.26 L397.97 316.50 L398.36 316.59 L398.83 316.59 L399.35 316.00 L399.86 315.80 L400.38 315.62 L400.90 314.84 L401.32 315.32 L401.71 313.95 L402.11 313.83 L402.51 314.04 L402.90 312.79 L403.30 312.40 L403.70 311.76 L404.09 311.57 L404.49 310.34 L404.84 310.31 L405.18 310.59 L405.53 309.60 L405.87 308.95 L406.22 308.68 L406.56 308.20 L406.91 307.61 L407.26 307.29 L407.60 305.92 L407.95 306.31 L408.27 305.29 L408.58 305.38 L408.89 304.53 L409.21 303.59 L409.52 303.48 L409.84 302.54 L410.15 302.95 L410.47 301.96 L410.78 301.86 L411.09 300.40 L411.41 301.23 L411.72 299.76 L412.04 300.08 L412.22 299.26 L412.37 297.70 L412.53 297.83 L412.68 296.81 L412.83 296.71 L412.98 296.63 L413.13 295.68 L413.28 295.29 L413.44 293.58 L413.59 293.69 L413.74 293.18 L413.89 292.96 L414.03 291.52 L414.13 291.52 L414.23 290.86 L414.33 289.29 L414.43 288.94 L414.53 289.09 L414.63 287.68 L414.73 287.06 L414.83 287.53 L414.93 286.63 L415.03 285.78 L415.14 285.35 L415.24 284.51 L415.34 283.85 L415.44 283.29 L415.54 283.12 L415.64 282.99 L415.74 281.50 L415.84 281.11 L415.94 280.44 L416.03 279.33 L416.11 279.48 L416.18 279.19 L416.25 277.74 L416.33 277.98 L416.40 276.68 L416.48 276.95 L416.55 276.38 L416.63 274.98 L416.70 273.58 L416.78 273.81 L416.85 272.69 L416.93 272.13 L417.00 272.06 L417.08 272.27 L417.15 270.94 L417.23 270.28 L417.30 268.87 L417.38 268.89 L417.45 267.90 L417.52 268.26 L417.60 267.14 L417.67 266.79 L417.75 266.20 L417.82 265.52 L417.90 265.49 L417.98 264.66 L418.06 263.66 L418.14 263.30 L418.22 262.90 L418.29 262.71 L418.37 261.50 L418.45 261.56 L418.53 259.94 L418.61 259.52 L418.69 258.30 L418.77 258.86 L418.85 257.33 L418.93 256.74 L419.01 257.08 L419.09 255.79 L419.17 255.08 L419.25 255.34 L419.33 254.18 L419.41 254.13 L419.48 252.87 L419.56 252.84 L419.64 252.42 L419.72 251.32 L419.80 251.58 L419.88 249.89 L419.95 249.38 L420.03 248.93 L420.10 248.80 L420.18 247.55 L420.25 246.88 L420.32 246.63 L420.40 246.53 L420.47 245.10 L420.55 244.07 L420.62 244.05 L420.70 243.82 L420.77 242.64 L420.85 242.38 L420.92 240.79 L421.00 241.13 L421.07 240.58 L421.15 240.24 L421.22 239.48 L421.30 239.12 L421.37 237.64 L421.45 237.87 L421.52 236.11 L421.59 236.04 L421.67 236.30 L421.77 235.58 L421.89 233.63 L422.01 234.26 L422.12 233.16 L422.24 232.40 L422.36 232.30 L422.48 231.67 L422.60 231.71 L422.72 229.70 L422.83 229.62 L422.95 229.17 L423.12 227.75 L423.34 228.69 L423.55 228.42 L423.76 226.66 L423.97 226.60 L424.18 225.71 L424.39 225.42 L424.62 224.94 L424.86 226.24 L425.10 225.80 L425.34 227.61 L425.58 227.66 L425.80 229.25 L425.87 227.81 L425.93 229.19 L426.00 229.19 L426.06 230.37 L426.12 231.25 L426.19 231.17 L426.25 231.51 L426.32 231.96 L426.38 233.54 L426.44 234.67 L426.51 235.21 L426.57 235.24 L426.63 235.34 L426.70 236.24 L426.76 236.27 L426.83 236.83 L426.89 238.75 L426.95 238.68 L427.02 239.58 L427.08 239.88 L427.15 241.28 L427.21 241.93 L427.27 241.43 L427.34 242.23 L427.40 242.68 L427.44 244.27 L427.49 244.84 L427.53 244.67 L427.58 246.57 L427.62 246.03 L427.67 246.01 L427.71 246.20 L427.75 247.75 L427.80 248.58 L427.84 248.73 L427.89 249.80 L427.93 250.82 L427.97 250.79 L428.02 251.84 L428.06 252.86 L428.11 252.87 L428.15 252.93 L428.19 254.04 L428.24 254.69 L428.28 256.10 L428.33 255.41 L428.37 255.45 L428.41 256.98 L428.46 257.59 L428.50 257.82 L428.54 258.91 L428.57 259.39 L428.60 260.44 L428.64 260.02 L428.67 260.69 L428.71 261.63 L428.74 261.99 L428.78 263.48 L428.81 263.73 L428.85 264.03 L428.88 265.41 L428.92 265.50 L428.96 266.35 L429.00 266.85 L429.04 266.98 L429.08 267.58 L429.12 268.25 L429.16 268.31 L429.20 269.28 L429.25 270.48 L429.29 270.81 L429.33 270.78 L429.37 273.04 L429.41 271.94 L429.45 273.37 L429.49 274.02 L429.53 274.90 L429.57 274.43 L429.62 275.47 L429.66 275.97 L429.70 277.24 L429.74 277.46 L429.78 278.08 L429.82 278.74 L429.86 280.05 L429.90 280.01 L429.94 280.72 L429.99 280.42 L430.03 281.83 L430.07 281.46 L430.11 283.16 L430.15 283.37 L430.19 283.45 L430.27 283.92 L430.36 285.05 L430.45 285.75 L430.54 286.00 L430.64 286.72 L430.73 287.32 L430.82 287.81 L430.91 288.58 L431.00 289.40 L431.09 290.51 L431.18 290.78 L431.27 290.78 L431.36 292.47 L431.45 292.84 L431.54 292.72 L431.64 293.96 L431.73 293.78 L431.82 294.26 L431.91 294.88 L432.00 296.64 L432.09 296.50 L432.18 297.19 L432.27 297.66 L432.36 298.02 L432.45 299.06 L432.54 299.75 L432.63 300.99 L432.73 300.19 L432.82 301.94 L432.91 302.11 L433.00 301.60 L433.09 303.43 L433.24 304.28 L433.41 304.62 L433.57 304.83 L433.74 305.37 L433.90 305.09 L434.07 306.59 L434.23 307.11 L434.39 307.27 L434.56 308.27 L434.72 308.54 L434.89 310.13 L435.05 309.52 L435.22 310.21 L435.38 310.40 L435.55 311.54 L435.71 312.27 L435.87 312.81 L436.04 313.21 L436.20 314.20 L436.37 314.60 L436.53 315.42 L436.70 315.67 L436.86 315.87 L437.22 316.71 L437.65 316.95 L438.07 317.76 L438.50 317.89 L438.93 318.39 L439.35 318.86 L439.78 319.02 L440.26 319.57 L440.80 320.05 L441.33 320.08 L441.87 320.42 L442.41 320.74 L442.95 320.88 L443.49 321.21 L444.03 321.58 L444.57 321.74 L445.11 322.06 L445.65 322.29 L446.20 322.43 L446.75 322.65 L447.30 323.29 L447.84 323.46 L448.39 323.55 L448.94 323.91 L449.48 324.17 L450.03 324.40 L450.60 324.48 L451.17 324.58 L451.74 324.79 L452.31 325.08 L452.88 325.40 L453.45 325.60 L454.02 325.67 L454.59 325.86 L455.16 326.15 L455.73 326.40 L456.30 326.41 L456.88 326.65 L457.46 326.78 L458.05 326.91 L458.63 327.06 L459.21 327.21 L459.80 327.38 L460.38 327.46 L460.96 327.68 L461.55 327.85 L462.13 328.00 L462.71 328.15 L463.30 328.26 L463.90 328.35 L464.49 328.49 L465.09 328.52 L465.68 328.63 L466.28 328.74 L466.87 328.81 L467.47 328.88 L468.06 328.99 L468.66 329.08 L469.25 329.18 L469.85 329.27 L470.45 329.34 L471.05 329.37 L471.65 329.40 L472.25 329.43 L472.85 329.48 L473.45 329.52 L474.05 329.56 L474.65 329.58 L475.26 329.61 L475.86 329.66 L476.46 329.68 L477.06 329.72 L477.66 329.76 L478.26 329.80 L478.86 329.83 L479.46 329.87 L480.07 329.90 L480.67 329.90 L481.27 329.90 L481.87 329.91 L482.48 329.91 L483.08 329.91 L483.68 329.91 L484.28 329.91 L484.88 329.91 L485.49 329.92 L486.09 329.92 L486.69 329.92 L487.29 329.92 L487.90 329.92 L488.50 329.92 L489.10 329.93 L489.70 329.93 L490.31 329.93 L490.91 329.93 L491.51 329.93 L492.11 329.94 L492.71 329.94 L493.32 329.94 L493.92 329.94 L494.52 329.94 L495.12 329.94 L495.73 329.94 L496.33 329.95 L496.93 329.95 L497.53 329.95 L498.14 329.95 L498.74 329.95 L499.34 329.96 L499.94 329.96 L500.54 329.96 L501.15 329.96 L501.75 329.96 L502.35 329.96 L502.95 329.97 L503.56 329.97 L504.16 329.97 L504.76 329.97 L505.36 329.97 L505.97 329.97 L506.57 329.98 L507.17 329.98 L507.77 329.98 L508.37 329.98 L508.98 329.98 L509.58 329.99 L510.18 329.99 L510.78 329.99 L511.39 329.99 L511.99 329.99 L512.59 329.99 L513.19 329.99 L513.80 330.00 L514.40 330.00 L515.00 330.00" fill="none" stroke="#000" stroke-width="1.4" stroke-linejoin="round" opacity="1"/>
<line x1="396.50" y1="209.00" x2="515.30" y2="209.00" stroke="#666" stroke-width="1.2"/>
<line x1="515.30" y1="209.00" x2="515.30" y2="330.50" stroke="#777" stroke-width="1.2"/>
<line x1="396.50" y1="208.50" x2="396.50" y2="330.50" stroke="#000" stroke-width="1.8"/>
<line x1="396.50" y1="330.50" x2="515.30" y2="330.50" stroke="#222" stroke-width="1.8"/>
<path d="M370.5 208.3 L373.7 203.5 L376.9 208.3Z" fill="#111"/>
<line x1="373.70" y1="208.30" x2="373.70" y2="216.20" stroke="#555" stroke-width="1.0"/>
<text transform="translate(377.7,318.8) rotate(-90)" x="0" y="0" font-size="10" fill="#111" stroke="#111" stroke-width="0.18" textLength="101.7" lengthAdjust="spacingAndGlyphs">Relative cell number</text>
<line x1="373.70" y1="321.50" x2="373.70" y2="332.00" stroke="#555" stroke-width="1.0"/>
<line x1="395.10" y1="352.50" x2="409.70" y2="352.50" stroke="#777" stroke-width="0.9"/>
<text x="412.3" y="356.9" font-size="11" style="stroke:#111;stroke-width:0.18;" fill="#111" textLength="77.9" lengthAdjust="spacingAndGlyphs">NKG2D Ligand</text>
<line x1="493.20" y1="353.80" x2="513.80" y2="353.80" stroke="#777" stroke-width="0.9"/>
<path d="M513.8 351.3 L518.2 353.8 L513.8 356.3Z" fill="#111"/>
</svg></body></html>
